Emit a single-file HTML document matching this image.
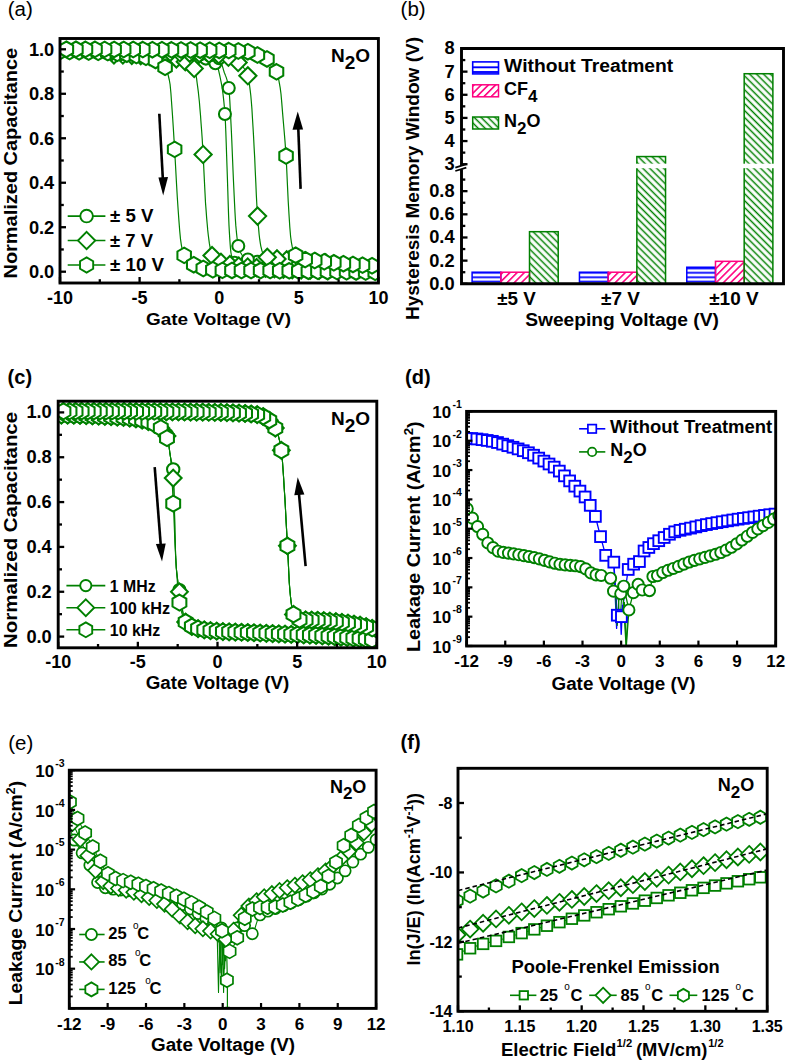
<!DOCTYPE html>
<html><head><meta charset="utf-8"><style>
html,body{margin:0;padding:0;background:#fff;}
svg{display:block;font-family:"Liberation Sans", sans-serif;}
</style></head><body>
<svg width="787" height="1063" viewBox="0 0 787 1063">
<rect width="787" height="1063" fill="#fff"/>
<clipPath id="clipA"><rect x="60.0" y="38.5" width="318.4" height="244.5"/></clipPath>
<g clip-path="url(#clipA)">
<polyline points="139.6,54.9 140.0,54.9 140.4,54.9 140.8,54.9 141.2,54.9 141.6,54.9 142.0,54.9 142.4,54.9 142.8,54.9 143.2,54.9 143.6,54.9 144.0,54.9 144.4,54.9 144.8,54.9 145.2,54.9 145.6,54.9 146.0,54.9 146.4,54.9 146.8,54.9 147.2,54.9 147.6,54.9 148.0,54.9 148.4,54.9 148.8,54.9 149.2,54.9 149.6,54.9 150.0,54.9 150.4,54.9 150.8,54.9 151.2,55.0 151.6,55.0 152.0,55.0 152.4,55.0 152.8,55.0 153.2,55.0 153.6,55.0 154.0,55.0 154.4,55.0 154.8,55.0 155.2,55.0 155.6,55.0 156.0,55.1 156.4,55.1 156.8,55.1 157.2,55.1 157.6,55.1 158.0,55.1 158.4,55.1 158.8,55.1 159.2,55.1 159.5,55.2 159.9,55.2 160.3,55.2 160.7,55.2 161.1,55.2 161.5,55.2 161.9,55.2 162.3,55.2 162.7,55.3 163.1,55.3 163.5,55.3 163.9,55.3 164.3,55.3 164.7,55.3 165.1,55.3 165.5,55.4 165.9,55.4 166.3,55.4 166.7,55.4 167.1,55.4 167.5,55.4 167.9,55.5 168.3,55.5 168.7,55.5 169.1,55.5 169.5,55.5 169.9,55.6 170.3,55.6 170.7,55.6 171.1,55.6 171.5,55.6 171.9,55.7 172.3,55.7 172.7,55.7 173.1,55.7 173.5,55.7 173.9,55.8 174.3,55.8 174.7,55.8 175.1,55.8 175.5,55.8 175.9,55.9 176.3,55.9 176.7,55.9 177.1,55.9 177.5,56.0 177.9,56.0 178.3,56.0 178.7,56.0 179.1,56.1 179.5,56.1 179.9,56.1 180.3,56.1 180.7,56.2 181.1,56.2 181.5,56.2 181.9,56.3 182.3,56.3 182.7,56.3 183.1,56.3 183.5,56.4 183.9,56.4 184.3,56.4 184.7,56.5 185.1,56.5 185.5,56.5 185.9,56.5 186.3,56.6 186.7,56.6 187.1,56.6 187.5,56.7 187.9,56.7 188.3,56.7 188.7,56.8 189.1,56.8 189.5,56.8 189.9,56.9 190.3,56.9 190.7,56.9 191.1,57.0 191.5,57.0 191.9,57.0 192.3,57.1 192.7,57.1 193.1,57.1 193.5,57.2 193.9,57.2 194.3,57.3 194.7,57.3 195.1,57.3 195.5,57.4 195.9,57.4 196.3,57.5 196.7,57.5 197.1,57.5 197.5,57.6 197.9,57.6 198.3,57.7 198.7,57.7 199.1,57.7 199.4,57.8 199.8,57.8 200.2,57.9 200.6,57.9 201.0,57.9 201.4,58.0 201.8,58.0 202.2,58.1 202.6,58.1 203.0,58.2 203.4,58.2 203.8,58.3 204.2,58.3 204.6,58.4 205.0,58.4 205.4,58.5 205.8,58.6 206.2,58.7 206.6,58.8 207.0,58.9 207.4,59.0 207.8,59.1 208.2,59.2 208.6,59.4 209.0,59.5 209.4,59.7 209.8,59.8 210.2,60.0 210.6,60.2 211.0,60.4 211.4,60.6 211.8,60.8 212.2,61.0 212.6,61.2 213.0,61.5 213.4,61.8 213.8,62.0 214.2,62.3 214.6,62.6 215.0,62.9 215.4,63.2 215.8,63.6 216.2,64.0 216.6,64.5 217.0,65.4 217.4,66.4 217.8,67.6 218.2,68.9 218.6,70.4 219.0,72.1 219.4,73.8 219.8,75.6 220.2,77.5 220.6,79.5 221.0,81.5 221.4,83.6 221.8,85.8 222.2,88.3 222.6,91.0 223.0,94.0 223.4,97.4 223.8,101.1 224.2,105.2 224.6,109.7 225.0,114.8 225.4,121.9 225.8,131.6 226.2,142.8 226.6,154.7 227.0,166.6 227.4,178.0 227.8,190.7 228.2,203.7 228.6,215.7 229.0,225.4 229.4,232.6 229.8,239.1 230.2,244.9 230.6,249.6 231.0,253.0 231.4,254.9 231.8,256.6 232.2,258.1 232.6,259.4 233.0,260.4 233.4,261.3 233.8,262.0 234.2,262.5 234.6,262.9 235.0,263.1 235.4,263.3 235.8,263.5 236.2,263.7 236.6,263.9 237.0,264.1 237.4,264.3 237.8,264.5 238.2,264.6 238.6,264.8 239.0,264.9 239.3,265.1 239.7,265.2 240.1,265.4 240.5,265.5 240.9,265.6 241.3,265.7 241.7,265.8 242.1,265.9 242.5,266.0 242.9,266.1 243.3,266.2 243.7,266.3 244.1,266.4 244.5,266.4 244.9,266.5 245.3,266.6 245.7,266.6 246.1,266.7 246.5,266.8 246.9,266.8 247.3,266.9 247.7,266.9 248.1,267.0 248.5,267.0 248.9,267.0 249.3,267.1 249.7,267.1 250.1,267.2 250.5,267.2 250.9,267.2 251.3,267.3 251.7,267.3 252.1,267.3 252.5,267.4 252.9,267.4 253.3,267.5 253.7,267.5 254.1,267.5 254.5,267.6 254.9,267.6 255.3,267.6 255.7,267.7 256.1,267.7 256.5,267.7 256.9,267.7 257.3,267.8 257.7,267.8 258.1,267.8 258.5,267.9 258.9,267.9 259.3,267.9 259.7,268.0 260.1,268.0 260.5,268.0 260.9,268.1 261.3,268.1 261.7,268.1 262.1,268.1 262.5,268.2 262.9,268.2 263.3,268.2 263.7,268.2 264.1,268.3 264.5,268.3 264.9,268.3 265.3,268.4 265.7,268.4 266.1,268.4 266.5,268.4 266.9,268.5 267.3,268.5 267.7,268.5 268.1,268.5 268.5,268.6 268.9,268.6 269.3,268.6 269.7,268.6 270.1,268.6 270.5,268.7 270.9,268.7 271.3,268.7 271.7,268.7 272.1,268.8 272.5,268.8 272.9,268.8 273.3,268.8 273.7,268.8 274.1,268.9 274.5,268.9 274.9,268.9 275.3,268.9 275.7,268.9 276.1,269.0 276.5,269.0 276.9,269.0 277.3,269.0 277.7,269.0 278.1,269.0 278.5,269.1 278.9,269.1 279.2,269.1 279.6,269.1 280.0,269.1 280.4,269.1 280.8,269.1 281.2,269.2 281.6,269.2 282.0,269.2 282.4,269.2 282.8,269.2 283.2,269.2 283.6,269.2 284.0,269.3 284.4,269.3 284.8,269.3 285.2,269.3 285.6,269.3 286.0,269.3 286.4,269.3 286.8,269.3 287.2,269.3 287.6,269.3 288.0,269.4 288.4,269.4 288.8,269.4 289.2,269.4 289.6,269.4 290.0,269.4 290.4,269.4 290.8,269.4 291.2,269.4 291.6,269.4 292.0,269.4 292.4,269.4 292.8,269.4 293.2,269.4 293.6,269.4 294.0,269.5 294.4,269.5 294.8,269.5 295.2,269.5 295.6,269.5 296.0,269.5 296.4,269.5 296.8,269.5 297.2,269.5 297.6,269.5 298.0,269.5 298.4,269.5 298.8,269.5" fill="none" stroke="#008000" stroke-width="1.2" stroke-linejoin="round"/>
<polyline points="139.6,51.5 140.0,51.5 140.4,51.5 140.8,51.5 141.2,51.5 141.6,51.5 142.0,51.5 142.4,51.5 142.8,51.5 143.2,51.5 143.6,51.5 144.0,51.5 144.4,51.5 144.8,51.5 145.2,51.6 145.6,51.6 146.0,51.6 146.4,51.6 146.8,51.6 147.2,51.6 147.6,51.6 148.0,51.6 148.4,51.6 148.8,51.6 149.2,51.6 149.6,51.6 150.0,51.6 150.4,51.6 150.8,51.6 151.2,51.7 151.6,51.7 152.0,51.7 152.4,51.7 152.8,51.7 153.2,51.7 153.6,51.7 154.0,51.7 154.4,51.7 154.8,51.7 155.2,51.8 155.6,51.8 156.0,51.8 156.4,51.8 156.8,51.8 157.2,51.8 157.6,51.8 158.0,51.8 158.4,51.9 158.8,51.9 159.2,51.9 159.5,51.9 159.9,51.9 160.3,51.9 160.7,51.9 161.1,52.0 161.5,52.0 161.9,52.0 162.3,52.0 162.7,52.0 163.1,52.0 163.5,52.0 163.9,52.1 164.3,52.1 164.7,52.1 165.1,52.1 165.5,52.1 165.9,52.2 166.3,52.2 166.7,52.2 167.1,52.2 167.5,52.2 167.9,52.3 168.3,52.3 168.7,52.3 169.1,52.3 169.5,52.3 169.9,52.4 170.3,52.4 170.7,52.4 171.1,52.4 171.5,52.4 171.9,52.5 172.3,52.5 172.7,52.5 173.1,52.5 173.5,52.6 173.9,52.6 174.3,52.6 174.7,52.6 175.1,52.6 175.5,52.7 175.9,52.7 176.3,52.7 176.7,52.7 177.1,52.8 177.5,52.8 177.9,52.8 178.3,52.8 178.7,52.9 179.1,52.9 179.5,52.9 179.9,52.9 180.3,53.0 180.7,53.0 181.1,53.0 181.5,53.1 181.9,53.1 182.3,53.1 182.7,53.1 183.1,53.2 183.5,53.2 183.9,53.2 184.3,53.3 184.7,53.3 185.1,53.3 185.5,53.3 185.9,53.4 186.3,53.4 186.7,53.4 187.1,53.5 187.5,53.5 187.9,53.5 188.3,53.6 188.7,53.6 189.1,53.6 189.5,53.7 189.9,53.7 190.3,53.7 190.7,53.7 191.1,53.8 191.5,53.8 191.9,53.8 192.3,53.9 192.7,53.9 193.1,53.9 193.5,54.0 193.9,54.0 194.3,54.0 194.7,54.1 195.1,54.1 195.5,54.1 195.9,54.2 196.3,54.2 196.7,54.3 197.1,54.3 197.5,54.3 197.9,54.4 198.3,54.4 198.7,54.4 199.1,54.5 199.4,54.5 199.8,54.5 200.2,54.6 200.6,54.6 201.0,54.6 201.4,54.7 201.8,54.7 202.2,54.8 202.6,54.8 203.0,54.8 203.4,54.9 203.8,54.9 204.2,55.0 204.6,55.0 205.0,55.0 205.4,55.1 205.8,55.1 206.2,55.1 206.6,55.2 207.0,55.2 207.4,55.3 207.8,55.3 208.2,55.4 208.6,55.4 209.0,55.5 209.4,55.5 209.8,55.6 210.2,55.6 210.6,55.7 211.0,55.8 211.4,55.8 211.8,55.9 212.2,56.0 212.6,56.1 213.0,56.2 213.4,56.2 213.8,56.3 214.2,56.4 214.6,56.5 215.0,56.7 215.4,56.8 215.8,56.9 216.2,57.0 216.6,57.2 217.0,57.3 217.4,57.4 217.8,57.6 218.2,57.8 218.6,57.9 219.0,58.1 219.4,58.3 219.8,58.8 220.2,59.5 220.6,60.4 221.0,61.5 221.4,62.7 221.8,64.0 222.2,65.4 222.6,66.8 223.0,68.2 223.4,69.6 223.8,70.9 224.2,72.2 224.6,73.3 225.0,74.3 225.4,75.4 225.8,76.4 226.2,77.4 226.6,78.6 227.0,79.9 227.4,81.3 227.8,82.9 228.2,84.8 228.6,87.0 229.0,89.7 229.4,94.4 229.8,100.6 230.2,107.9 230.6,115.8 231.0,123.8 231.4,131.8 231.8,140.7 232.2,150.4 232.6,160.3 233.0,170.1 233.4,179.3 233.8,187.7 234.2,196.2 234.6,204.6 235.0,212.5 235.4,219.5 235.8,225.4 236.2,229.8 236.6,233.9 237.0,237.5 237.4,240.7 237.8,243.3 238.2,245.3 238.6,246.8 239.0,248.1 239.3,249.3 239.7,250.4 240.1,251.4 240.5,252.3 240.9,253.1 241.3,253.8 241.7,254.5 242.1,255.1 242.5,255.6 242.9,256.0 243.3,256.4 243.7,256.7 244.1,257.1 244.5,257.4 244.9,257.7 245.3,258.0 245.7,258.3 246.1,258.5 246.5,258.8 246.9,259.0 247.3,259.2 247.7,259.4 248.1,259.6 248.5,259.8 248.9,260.0 249.3,260.1 249.7,260.2 250.1,260.4 250.5,260.5 250.9,260.6 251.3,260.6 251.7,260.7 252.1,260.8 252.5,260.9 252.9,260.9 253.3,261.0 253.7,261.1 254.1,261.2 254.5,261.2 254.9,261.3 255.3,261.4 255.7,261.4 256.1,261.5 256.5,261.6 256.9,261.6 257.3,261.7 257.7,261.8 258.1,261.8 258.5,261.9 258.9,262.0 259.3,262.0 259.7,262.1 260.1,262.1 260.5,262.2 260.9,262.3 261.3,262.3 261.7,262.4 262.1,262.4 262.5,262.5 262.9,262.6 263.3,262.6 263.7,262.7 264.1,262.7 264.5,262.8 264.9,262.8 265.3,262.9 265.7,262.9 266.1,263.0 266.5,263.0 266.9,263.1 267.3,263.1 267.7,263.2 268.1,263.2 268.5,263.3 268.9,263.3 269.3,263.4 269.7,263.4 270.1,263.5 270.5,263.5 270.9,263.5 271.3,263.6 271.7,263.6 272.1,263.7 272.5,263.7 272.9,263.8 273.3,263.8 273.7,263.8 274.1,263.9 274.5,263.9 274.9,263.9 275.3,264.0 275.7,264.0 276.1,264.1 276.5,264.1 276.9,264.1 277.3,264.2 277.7,264.2 278.1,264.2 278.5,264.3 278.9,264.3 279.2,264.3 279.6,264.3 280.0,264.4 280.4,264.4 280.8,264.4 281.2,264.5 281.6,264.5 282.0,264.5 282.4,264.5 282.8,264.6 283.2,264.6 283.6,264.6 284.0,264.6 284.4,264.6 284.8,264.7 285.2,264.7 285.6,264.7 286.0,264.7 286.4,264.7 286.8,264.8 287.2,264.8 287.6,264.8 288.0,264.8 288.4,264.8 288.8,264.8 289.2,264.9 289.6,264.9 290.0,264.9 290.4,264.9 290.8,264.9 291.2,264.9 291.6,264.9 292.0,264.9 292.4,265.0 292.8,265.0 293.2,265.0 293.6,265.0 294.0,265.0 294.4,265.0 294.8,265.0 295.2,265.0 295.6,265.0 296.0,265.0 296.4,265.0 296.8,265.0 297.2,265.0 297.6,265.0 298.0,265.0 298.4,265.0 298.8,265.0" fill="none" stroke="#008000" stroke-width="1.2" stroke-linejoin="round"/>
<circle cx="148.52" cy="54.92" r="6.00" fill="#fff" stroke="#008000" stroke-width="2.05"/>
<circle cx="158.07" cy="55.11" r="6.00" fill="#fff" stroke="#008000" stroke-width="2.05"/>
<circle cx="167.62" cy="55.45" r="6.00" fill="#fff" stroke="#008000" stroke-width="2.05"/>
<circle cx="177.17" cy="55.94" r="6.00" fill="#fff" stroke="#008000" stroke-width="2.05"/>
<circle cx="186.72" cy="56.61" r="6.00" fill="#fff" stroke="#008000" stroke-width="2.05"/>
<circle cx="196.28" cy="57.45" r="6.00" fill="#fff" stroke="#008000" stroke-width="2.05"/>
<circle cx="205.83" cy="58.60" r="6.00" fill="#fff" stroke="#008000" stroke-width="2.05"/>
<circle cx="215.38" cy="63.21" r="6.00" fill="#fff" stroke="#008000" stroke-width="2.05"/>
<circle cx="224.93" cy="114.02" r="6.00" fill="#fff" stroke="#008000" stroke-width="2.05"/>
<circle cx="234.48" cy="262.80" r="6.00" fill="#fff" stroke="#008000" stroke-width="2.05"/>
<circle cx="244.04" cy="266.35" r="6.00" fill="#fff" stroke="#008000" stroke-width="2.05"/>
<circle cx="253.59" cy="267.47" r="6.00" fill="#fff" stroke="#008000" stroke-width="2.05"/>
<circle cx="263.14" cy="268.21" r="6.00" fill="#fff" stroke="#008000" stroke-width="2.05"/>
<circle cx="272.69" cy="268.79" r="6.00" fill="#fff" stroke="#008000" stroke-width="2.05"/>
<circle cx="282.24" cy="269.20" r="6.00" fill="#fff" stroke="#008000" stroke-width="2.05"/>
<circle cx="291.80" cy="269.43" r="6.00" fill="#fff" stroke="#008000" stroke-width="2.05"/>
<circle cx="295.62" cy="265.01" r="6.00" fill="#fff" stroke="#008000" stroke-width="2.05"/>
<circle cx="286.06" cy="264.73" r="6.00" fill="#fff" stroke="#008000" stroke-width="2.05"/>
<circle cx="276.51" cy="264.09" r="6.00" fill="#fff" stroke="#008000" stroke-width="2.05"/>
<circle cx="266.96" cy="263.09" r="6.00" fill="#fff" stroke="#008000" stroke-width="2.05"/>
<circle cx="257.41" cy="261.72" r="6.00" fill="#fff" stroke="#008000" stroke-width="2.05"/>
<circle cx="247.86" cy="259.51" r="6.00" fill="#fff" stroke="#008000" stroke-width="2.05"/>
<circle cx="238.30" cy="245.90" r="6.00" fill="#fff" stroke="#008000" stroke-width="2.05"/>
<circle cx="228.75" cy="88.00" r="6.00" fill="#fff" stroke="#008000" stroke-width="2.05"/>
<circle cx="219.20" cy="58.20" r="6.00" fill="#fff" stroke="#008000" stroke-width="2.05"/>
<circle cx="209.65" cy="55.55" r="6.00" fill="#fff" stroke="#008000" stroke-width="2.05"/>
<circle cx="200.10" cy="54.56" r="6.00" fill="#fff" stroke="#008000" stroke-width="2.05"/>
<circle cx="190.54" cy="53.74" r="6.00" fill="#fff" stroke="#008000" stroke-width="2.05"/>
<circle cx="180.99" cy="53.02" r="6.00" fill="#fff" stroke="#008000" stroke-width="2.05"/>
<circle cx="171.44" cy="52.43" r="6.00" fill="#fff" stroke="#008000" stroke-width="2.05"/>
<circle cx="161.89" cy="51.98" r="6.00" fill="#fff" stroke="#008000" stroke-width="2.05"/>
<circle cx="152.34" cy="51.68" r="6.00" fill="#fff" stroke="#008000" stroke-width="2.05"/>
<circle cx="142.78" cy="51.53" r="6.00" fill="#fff" stroke="#008000" stroke-width="2.05"/>
<polyline points="107.8,54.9 108.3,54.9 108.9,54.9 109.4,54.9 110.0,54.9 110.6,54.9 111.1,54.9 111.7,54.9 112.2,54.9 112.8,54.9 113.3,54.9 113.9,54.9 114.5,54.9 115.0,54.9 115.6,54.9 116.1,54.9 116.7,54.9 117.3,54.9 117.8,54.9 118.4,55.0 118.9,55.0 119.5,55.0 120.0,55.0 120.6,55.0 121.2,55.0 121.7,55.0 122.3,55.0 122.8,55.1 123.4,55.1 124.0,55.1 124.5,55.1 125.1,55.1 125.6,55.1 126.2,55.1 126.8,55.2 127.3,55.2 127.9,55.2 128.4,55.2 129.0,55.2 129.5,55.3 130.1,55.3 130.7,55.3 131.2,55.3 131.8,55.3 132.3,55.4 132.9,55.4 133.5,55.4 134.0,55.4 134.6,55.5 135.1,55.5 135.7,55.5 136.2,55.5 136.8,55.6 137.4,55.6 137.9,55.6 138.5,55.7 139.0,55.7 139.6,55.7 140.2,55.7 140.7,55.8 141.3,55.8 141.8,55.8 142.4,55.9 143.0,55.9 143.5,55.9 144.1,56.0 144.6,56.0 145.2,56.0 145.7,56.1 146.3,56.1 146.9,56.1 147.4,56.2 148.0,56.2 148.5,56.3 149.1,56.3 149.7,56.3 150.2,56.4 150.8,56.4 151.3,56.4 151.9,56.5 152.4,56.5 153.0,56.6 153.6,56.6 154.1,56.7 154.7,56.7 155.2,56.7 155.8,56.8 156.4,56.8 156.9,56.9 157.5,56.9 158.0,57.0 158.6,57.0 159.2,57.1 159.7,57.1 160.3,57.1 160.8,57.2 161.4,57.2 161.9,57.3 162.5,57.3 163.1,57.4 163.6,57.4 164.2,57.5 164.7,57.5 165.3,57.6 165.9,57.6 166.4,57.7 167.0,57.8 167.5,57.8 168.1,57.9 168.6,57.9 169.2,58.0 169.8,58.0 170.3,58.1 170.9,58.1 171.4,58.2 172.0,58.3 172.6,58.3 173.1,58.4 173.7,58.5 174.2,58.6 174.8,58.7 175.4,58.8 175.9,58.9 176.5,59.0 177.0,59.1 177.6,59.2 178.1,59.4 178.7,59.5 179.3,59.7 179.8,59.8 180.4,60.0 180.9,60.2 181.5,60.3 182.1,60.5 182.6,60.7 183.2,60.9 183.7,61.1 184.3,61.3 184.8,61.6 185.4,61.8 186.0,62.0 186.5,62.3 187.1,62.5 187.6,62.8 188.2,63.0 188.8,63.3 189.3,63.6 189.9,64.0 190.4,64.4 191.0,64.8 191.5,65.3 192.1,65.8 192.7,66.5 193.2,67.1 193.8,67.9 194.3,68.8 194.9,70.0 195.5,72.1 196.0,75.0 196.6,78.6 197.1,82.7 197.7,87.2 198.3,91.7 198.8,96.5 199.4,102.0 199.9,108.4 200.5,115.3 201.0,122.5 201.6,130.3 202.2,138.7 202.7,147.7 203.3,157.3 203.8,168.6 204.4,180.9 205.0,192.8 205.5,202.7 206.1,210.4 206.6,217.4 207.2,224.0 207.7,229.9 208.3,235.2 208.9,239.8 209.4,243.7 210.0,246.9 210.5,249.9 211.1,252.5 211.7,254.6 212.2,255.9 212.8,256.7 213.3,257.3 213.9,258.0 214.5,258.5 215.0,259.1 215.6,259.5 216.1,260.0 216.7,260.4 217.2,260.7 217.8,261.0 218.4,261.3 218.9,261.6 219.5,261.8 220.0,262.1 220.6,262.3 221.2,262.4 221.7,262.6 222.3,262.8 222.8,262.9 223.4,263.1 223.9,263.2 224.5,263.4 225.1,263.5 225.6,263.7 226.2,263.8 226.7,263.9 227.3,264.0 227.9,264.2 228.4,264.3 229.0,264.4 229.5,264.5 230.1,264.6 230.7,264.7 231.2,264.9 231.8,265.0 232.3,265.1 232.9,265.2 233.4,265.3 234.0,265.3 234.6,265.4 235.1,265.5 235.7,265.6 236.2,265.7 236.8,265.8 237.4,265.9 237.9,265.9 238.5,266.0 239.0,266.1 239.6,266.2 240.1,266.2 240.7,266.3 241.3,266.4 241.8,266.4 242.4,266.5 242.9,266.5 243.5,266.6 244.1,266.7 244.6,266.7 245.2,266.8 245.7,266.8 246.3,266.9 246.9,266.9 247.4,267.0 248.0,267.0 248.5,267.1 249.1,267.1 249.6,267.1 250.2,267.2 250.8,267.2 251.3,267.3 251.9,267.3 252.4,267.4 253.0,267.4 253.6,267.4 254.1,267.5 254.7,267.5 255.2,267.6 255.8,267.6 256.3,267.6 256.9,267.7 257.5,267.7 258.0,267.7 258.6,267.8 259.1,267.8 259.7,267.9 260.3,267.9 260.8,267.9 261.4,268.0 261.9,268.0 262.5,268.0 263.0,268.1 263.6,268.1 264.2,268.2 264.7,268.2 265.3,268.2 265.8,268.3 266.4,268.3 267.0,268.3 267.5,268.4 268.1,268.4 268.6,268.4 269.2,268.5 269.8,268.5 270.3,268.5 270.9,268.6 271.4,268.6 272.0,268.6 272.5,268.7 273.1,268.7 273.7,268.7 274.2,268.8 274.8,268.8 275.3,268.8 275.9,268.9 276.5,268.9 277.0,268.9 277.6,269.0 278.1,269.0 278.7,269.0 279.2,269.1 279.8,269.1 280.4,269.1 280.9,269.2 281.5,269.2 282.0,269.2 282.6,269.2 283.2,269.3 283.7,269.3 284.3,269.3 284.8,269.4 285.4,269.4 286.0,269.4 286.5,269.4 287.1,269.5 287.6,269.5 288.2,269.5 288.7,269.5 289.3,269.6 289.9,269.6 290.4,269.6 291.0,269.6 291.5,269.7 292.1,269.7 292.7,269.7 293.2,269.7 293.8,269.8 294.3,269.8 294.9,269.8 295.4,269.8 296.0,269.9 296.6,269.9 297.1,269.9 297.7,269.9 298.2,269.9 298.8,270.0 299.4,270.0 299.9,270.0 300.5,270.0 301.0,270.0 301.6,270.1 302.2,270.1 302.7,270.1 303.3,270.1 303.8,270.1 304.4,270.2 304.9,270.2 305.5,270.2 306.1,270.2 306.6,270.2 307.2,270.2 307.7,270.3 308.3,270.3 308.9,270.3 309.4,270.3 310.0,270.3 310.5,270.3 311.1,270.3 311.6,270.4 312.2,270.4 312.8,270.4 313.3,270.4 313.9,270.4 314.4,270.4 315.0,270.4 315.6,270.4 316.1,270.5 316.7,270.5 317.2,270.5 317.8,270.5 318.4,270.5 318.9,270.5 319.5,270.5 320.0,270.5 320.6,270.5 321.1,270.5 321.7,270.5 322.3,270.5 322.8,270.5 323.4,270.6 323.9,270.6 324.5,270.6 325.1,270.6 325.6,270.6 326.2,270.6 326.7,270.6 327.3,270.6 327.8,270.6 328.4,270.6 329.0,270.6 329.5,270.6 330.1,270.6 330.6,270.6" fill="none" stroke="#008000" stroke-width="1.2" stroke-linejoin="round"/>
<polyline points="107.8,51.5 108.3,51.5 108.9,51.5 109.4,51.5 110.0,51.5 110.6,51.5 111.1,51.5 111.7,51.5 112.2,51.5 112.8,51.5 113.3,51.5 113.9,51.5 114.5,51.5 115.0,51.5 115.6,51.5 116.1,51.5 116.7,51.5 117.3,51.5 117.8,51.5 118.4,51.5 118.9,51.5 119.5,51.5 120.0,51.6 120.6,51.6 121.2,51.6 121.7,51.6 122.3,51.6 122.8,51.6 123.4,51.6 124.0,51.6 124.5,51.6 125.1,51.6 125.6,51.6 126.2,51.6 126.8,51.6 127.3,51.6 127.9,51.6 128.4,51.6 129.0,51.6 129.5,51.6 130.1,51.6 130.7,51.6 131.2,51.6 131.8,51.6 132.3,51.6 132.9,51.6 133.5,51.7 134.0,51.7 134.6,51.7 135.1,51.7 135.7,51.7 136.2,51.7 136.8,51.7 137.4,51.7 137.9,51.7 138.5,51.7 139.0,51.7 139.6,51.7 140.2,51.7 140.7,51.7 141.3,51.8 141.8,51.8 142.4,51.8 143.0,51.8 143.5,51.8 144.1,51.8 144.6,51.8 145.2,51.8 145.7,51.8 146.3,51.8 146.9,51.8 147.4,51.9 148.0,51.9 148.5,51.9 149.1,51.9 149.7,51.9 150.2,51.9 150.8,51.9 151.3,51.9 151.9,51.9 152.4,52.0 153.0,52.0 153.6,52.0 154.1,52.0 154.7,52.0 155.2,52.0 155.8,52.0 156.4,52.0 156.9,52.1 157.5,52.1 158.0,52.1 158.6,52.1 159.2,52.1 159.7,52.1 160.3,52.1 160.8,52.1 161.4,52.2 161.9,52.2 162.5,52.2 163.1,52.2 163.6,52.2 164.2,52.2 164.7,52.3 165.3,52.3 165.9,52.3 166.4,52.3 167.0,52.3 167.5,52.3 168.1,52.3 168.6,52.4 169.2,52.4 169.8,52.4 170.3,52.4 170.9,52.4 171.4,52.5 172.0,52.5 172.6,52.5 173.1,52.5 173.7,52.5 174.2,52.5 174.8,52.6 175.4,52.6 175.9,52.6 176.5,52.6 177.0,52.6 177.6,52.7 178.1,52.7 178.7,52.7 179.3,52.7 179.8,52.8 180.4,52.8 180.9,52.8 181.5,52.8 182.1,52.8 182.6,52.9 183.2,52.9 183.7,52.9 184.3,52.9 184.8,53.0 185.4,53.0 186.0,53.0 186.5,53.0 187.1,53.0 187.6,53.1 188.2,53.1 188.8,53.1 189.3,53.1 189.9,53.2 190.4,53.2 191.0,53.2 191.5,53.3 192.1,53.3 192.7,53.3 193.2,53.3 193.8,53.4 194.3,53.4 194.9,53.4 195.5,53.4 196.0,53.5 196.6,53.5 197.1,53.5 197.7,53.6 198.3,53.6 198.8,53.6 199.4,53.6 199.9,53.7 200.5,53.7 201.0,53.7 201.6,53.8 202.2,53.8 202.7,53.8 203.3,53.9 203.8,53.9 204.4,53.9 205.0,54.0 205.5,54.0 206.1,54.0 206.6,54.0 207.2,54.1 207.7,54.1 208.3,54.1 208.9,54.2 209.4,54.2 210.0,54.3 210.5,54.3 211.1,54.3 211.7,54.4 212.2,54.4 212.8,54.4 213.3,54.5 213.9,54.5 214.5,54.5 215.0,54.6 215.6,54.6 216.1,54.6 216.7,54.7 217.2,54.7 217.8,54.8 218.4,54.8 218.9,54.8 219.5,54.9 220.0,54.9 220.6,55.0 221.2,55.1 221.7,55.2 222.3,55.3 222.8,55.4 223.4,55.6 223.9,55.7 224.5,55.9 225.1,56.0 225.6,56.2 226.2,56.4 226.7,56.6 227.3,56.8 227.9,57.1 228.4,57.3 229.0,57.5 229.5,57.8 230.1,58.1 230.7,58.3 231.2,58.6 231.8,58.9 232.3,59.2 232.9,59.5 233.4,59.8 234.0,60.1 234.6,60.4 235.1,60.7 235.7,61.1 236.2,61.4 236.8,61.7 237.4,62.1 237.9,62.4 238.5,62.7 239.0,63.1 239.6,63.5 240.1,64.0 240.7,64.5 241.3,65.1 241.8,65.6 242.4,66.3 242.9,66.9 243.5,67.6 244.1,68.3 244.6,69.1 245.2,69.9 245.7,70.8 246.3,71.9 246.9,73.1 247.4,74.5 248.0,76.1 248.5,78.5 249.1,81.8 249.6,85.8 250.2,90.4 250.8,95.5 251.3,101.2 251.9,108.6 252.4,117.3 253.0,127.0 253.6,137.2 254.1,147.4 254.7,157.9 255.2,169.9 255.8,182.4 256.3,194.6 256.9,205.7 257.5,214.7 258.0,221.8 258.6,228.4 259.1,234.2 259.7,239.2 260.3,243.2 260.8,246.1 261.4,248.5 261.9,250.6 262.5,252.4 263.0,253.8 263.6,254.8 264.2,255.4 264.7,256.0 265.3,256.4 265.8,256.8 266.4,257.1 267.0,257.2 267.5,257.4 268.1,257.5 268.6,257.7 269.2,257.8 269.8,257.9 270.3,258.0 270.9,258.1 271.4,258.2 272.0,258.3 272.5,258.4 273.1,258.5 273.7,258.5 274.2,258.6 274.8,258.7 275.3,258.8 275.9,258.8 276.5,258.9 277.0,258.9 277.6,259.0 278.1,259.0 278.7,259.1 279.2,259.1 279.8,259.2 280.4,259.2 280.9,259.3 281.5,259.3 282.0,259.4 282.6,259.4 283.2,259.5 283.7,259.6 284.3,259.6 284.8,259.7 285.4,259.7 286.0,259.8 286.5,259.8 287.1,259.9 287.6,259.9 288.2,260.0 288.7,260.0 289.3,260.1 289.9,260.1 290.4,260.2 291.0,260.3 291.5,260.3 292.1,260.4 292.7,260.4 293.2,260.5 293.8,260.5 294.3,260.6 294.9,260.6 295.4,260.7 296.0,260.7 296.6,260.8 297.1,260.8 297.7,260.9 298.2,260.9 298.8,261.0 299.4,261.0 299.9,261.1 300.5,261.1 301.0,261.2 301.6,261.2 302.2,261.3 302.7,261.3 303.3,261.3 303.8,261.4 304.4,261.4 304.9,261.5 305.5,261.5 306.1,261.6 306.6,261.6 307.2,261.7 307.7,261.7 308.3,261.7 308.9,261.8 309.4,261.8 310.0,261.9 310.5,261.9 311.1,261.9 311.6,262.0 312.2,262.0 312.8,262.0 313.3,262.1 313.9,262.1 314.4,262.1 315.0,262.2 315.6,262.2 316.1,262.2 316.7,262.3 317.2,262.3 317.8,262.3 318.4,262.4 318.9,262.4 319.5,262.4 320.0,262.5 320.6,262.5 321.1,262.5 321.7,262.5 322.3,262.6 322.8,262.6 323.4,262.6 323.9,262.6 324.5,262.6 325.1,262.7 325.6,262.7 326.2,262.7 326.7,262.7 327.3,262.7 327.8,262.7 328.4,262.8 329.0,262.8 329.5,262.8 330.1,262.8 330.6,262.8" fill="none" stroke="#008000" stroke-width="1.2" stroke-linejoin="round"/>
<polygon points="113.97,46.29 122.57,54.89 113.97,63.49 105.37,54.89" fill="#fff" stroke="#008000" stroke-width="2.05"/>
<polygon points="122.88,46.46 131.48,55.06 122.88,63.66 114.28,55.06" fill="#fff" stroke="#008000" stroke-width="2.05"/>
<polygon points="131.80,46.75 140.40,55.35 131.80,63.95 123.20,55.35" fill="#fff" stroke="#008000" stroke-width="2.05"/>
<polygon points="140.71,47.17 149.31,55.77 140.71,64.37 132.11,55.77" fill="#fff" stroke="#008000" stroke-width="2.05"/>
<polygon points="149.63,47.73 158.23,56.33 149.63,64.93 141.03,56.33" fill="#fff" stroke="#008000" stroke-width="2.05"/>
<polygon points="158.54,48.40 167.14,57.00 158.54,65.60 149.94,57.00" fill="#fff" stroke="#008000" stroke-width="2.05"/>
<polygon points="167.46,49.20 176.06,57.80 167.46,66.40 158.86,57.80" fill="#fff" stroke="#008000" stroke-width="2.05"/>
<polygon points="176.38,50.37 184.98,58.97 176.38,67.57 167.78,58.97" fill="#fff" stroke="#008000" stroke-width="2.05"/>
<polygon points="185.29,53.15 193.89,61.75 185.29,70.35 176.69,61.75" fill="#fff" stroke="#008000" stroke-width="2.05"/>
<polygon points="194.21,59.97 202.81,68.57 194.21,77.17 185.61,68.57" fill="#fff" stroke="#008000" stroke-width="2.05"/>
<polygon points="203.12,145.90 211.72,154.50 203.12,163.10 194.52,154.50" fill="#fff" stroke="#008000" stroke-width="2.05"/>
<polygon points="212.04,246.96 220.64,255.56 212.04,264.16 203.44,255.56" fill="#fff" stroke="#008000" stroke-width="2.05"/>
<polygon points="220.95,253.77 229.55,262.37 220.95,270.97 212.35,262.37" fill="#fff" stroke="#008000" stroke-width="2.05"/>
<polygon points="229.87,255.99 238.47,264.59 229.87,273.19 221.27,264.59" fill="#fff" stroke="#008000" stroke-width="2.05"/>
<polygon points="238.78,257.45 247.38,266.05 238.78,274.65 230.18,266.05" fill="#fff" stroke="#008000" stroke-width="2.05"/>
<polygon points="247.70,258.39 256.30,266.99 247.70,275.59 239.10,266.99" fill="#fff" stroke="#008000" stroke-width="2.05"/>
<polygon points="256.61,259.05 265.21,267.65 256.61,276.25 248.01,267.65" fill="#fff" stroke="#008000" stroke-width="2.05"/>
<polygon points="265.53,259.65 274.13,268.25 265.53,276.85 256.93,268.25" fill="#fff" stroke="#008000" stroke-width="2.05"/>
<polygon points="274.44,260.19 283.04,268.79 274.44,277.39 265.84,268.79" fill="#fff" stroke="#008000" stroke-width="2.05"/>
<polygon points="283.36,260.68 291.96,269.28 283.36,277.88 274.76,269.28" fill="#fff" stroke="#008000" stroke-width="2.05"/>
<polygon points="292.27,261.10 300.87,269.70 292.27,278.30 283.67,269.70" fill="#fff" stroke="#008000" stroke-width="2.05"/>
<polygon points="301.19,261.45 309.79,270.05 301.19,278.65 292.59,270.05" fill="#fff" stroke="#008000" stroke-width="2.05"/>
<polygon points="310.10,261.72 318.70,270.32 310.10,278.92 301.50,270.32" fill="#fff" stroke="#008000" stroke-width="2.05"/>
<polygon points="319.02,261.90 327.62,270.50 319.02,279.10 310.42,270.50" fill="#fff" stroke="#008000" stroke-width="2.05"/>
<polygon points="327.93,261.98 336.53,270.58 327.93,279.18 319.33,270.58" fill="#fff" stroke="#008000" stroke-width="2.05"/>
<polygon points="325.55,254.08 334.15,262.68 325.55,271.28 316.95,262.68" fill="#fff" stroke="#008000" stroke-width="2.05"/>
<polygon points="315.83,253.63 324.43,262.23 315.83,270.83 307.23,262.23" fill="#fff" stroke="#008000" stroke-width="2.05"/>
<polygon points="306.12,252.97 314.72,261.57 306.12,270.17 297.52,261.57" fill="#fff" stroke="#008000" stroke-width="2.05"/>
<polygon points="296.41,252.16 305.01,260.76 296.41,269.36 287.81,260.76" fill="#fff" stroke="#008000" stroke-width="2.05"/>
<polygon points="286.70,251.24 295.30,259.84 286.70,268.44 278.10,259.84" fill="#fff" stroke="#008000" stroke-width="2.05"/>
<polygon points="276.99,250.32 285.59,258.92 276.99,267.52 268.39,258.92" fill="#fff" stroke="#008000" stroke-width="2.05"/>
<polygon points="267.28,248.73 275.88,257.33 267.28,265.93 258.68,257.33" fill="#fff" stroke="#008000" stroke-width="2.05"/>
<polygon points="257.57,207.50 266.17,216.10 257.57,224.70 248.97,216.10" fill="#fff" stroke="#008000" stroke-width="2.05"/>
<polygon points="247.86,67.17 256.46,75.77 247.86,84.37 239.26,75.77" fill="#fff" stroke="#008000" stroke-width="2.05"/>
<polygon points="238.14,53.95 246.74,62.55 238.14,71.15 229.54,62.55" fill="#fff" stroke="#008000" stroke-width="2.05"/>
<polygon points="228.43,48.71 237.03,57.31 228.43,65.91 219.83,57.31" fill="#fff" stroke="#008000" stroke-width="2.05"/>
<polygon points="218.72,46.23 227.32,54.83 218.72,63.43 210.12,54.83" fill="#fff" stroke="#008000" stroke-width="2.05"/>
<polygon points="209.01,45.59 217.61,54.19 209.01,62.79 200.41,54.19" fill="#fff" stroke="#008000" stroke-width="2.05"/>
<polygon points="199.30,45.04 207.90,53.64 199.30,62.24 190.70,53.64" fill="#fff" stroke="#008000" stroke-width="2.05"/>
<polygon points="189.59,44.56 198.19,53.16 189.59,61.76 180.99,53.16" fill="#fff" stroke="#008000" stroke-width="2.05"/>
<polygon points="179.88,44.15 188.48,52.75 179.88,61.35 171.28,52.75" fill="#fff" stroke="#008000" stroke-width="2.05"/>
<polygon points="170.17,43.81 178.77,52.41 170.17,61.01 161.57,52.41" fill="#fff" stroke="#008000" stroke-width="2.05"/>
<polygon points="160.46,43.54 169.06,52.14 160.46,60.74 151.86,52.14" fill="#fff" stroke="#008000" stroke-width="2.05"/>
<polygon points="150.74,43.32 159.34,51.92 150.74,60.52 142.14,51.92" fill="#fff" stroke="#008000" stroke-width="2.05"/>
<polygon points="141.03,43.15 149.63,51.75 141.03,60.35 132.43,51.75" fill="#fff" stroke="#008000" stroke-width="2.05"/>
<polygon points="131.32,43.03 139.92,51.63 131.32,60.23 122.72,51.63" fill="#fff" stroke="#008000" stroke-width="2.05"/>
<polygon points="121.61,42.96 130.21,51.56 121.61,60.16 113.01,51.56" fill="#fff" stroke="#008000" stroke-width="2.05"/>
<polygon points="111.90,42.93 120.50,51.53 111.90,60.13 103.30,51.53" fill="#fff" stroke="#008000" stroke-width="2.05"/>
<polyline points="60.0,51.5 60.8,51.5 61.6,51.5 62.4,51.5 63.2,51.5 64.0,51.5 64.8,51.5 65.6,51.5 66.4,51.5 67.2,51.6 68.0,51.6 68.8,51.6 69.6,51.6 70.4,51.6 71.2,51.6 72.0,51.6 72.8,51.6 73.6,51.6 74.4,51.6 75.2,51.7 76.0,51.7 76.8,51.7 77.6,51.7 78.4,51.7 79.2,51.7 79.9,51.8 80.7,51.8 81.5,51.8 82.3,51.8 83.1,51.8 83.9,51.8 84.7,51.9 85.5,51.9 86.3,51.9 87.1,51.9 87.9,52.0 88.7,52.0 89.5,52.0 90.3,52.0 91.1,52.0 91.9,52.1 92.7,52.1 93.5,52.1 94.3,52.1 95.1,52.2 95.9,52.2 96.7,52.2 97.5,52.3 98.3,52.3 99.1,52.3 99.9,52.3 100.7,52.4 101.5,52.4 102.3,52.4 103.1,52.5 103.9,52.5 104.7,52.5 105.5,52.5 106.3,52.6 107.1,52.6 107.9,52.6 108.7,52.7 109.5,52.7 110.3,52.8 111.1,52.8 111.9,52.8 112.7,52.9 113.5,52.9 114.3,53.0 115.1,53.0 115.9,53.1 116.7,53.2 117.5,53.2 118.3,53.3 119.1,53.4 119.8,53.4 120.6,53.5 121.4,53.6 122.2,53.7 123.0,53.8 123.8,53.8 124.6,53.9 125.4,54.0 126.2,54.1 127.0,54.2 127.8,54.3 128.6,54.4 129.4,54.5 130.2,54.6 131.0,54.7 131.8,54.8 132.6,54.9 133.4,55.0 134.2,55.2 135.0,55.3 135.8,55.4 136.6,55.5 137.4,55.6 138.2,55.8 139.0,55.9 139.8,56.0 140.6,56.1 141.4,56.3 142.2,56.4 143.0,56.6 143.8,56.8 144.6,56.9 145.4,57.1 146.2,57.3 147.0,57.5 147.8,57.8 148.6,58.0 149.4,58.2 150.2,58.5 151.0,58.7 151.8,59.0 152.6,59.3 153.4,59.6 154.2,59.9 155.0,60.2 155.8,60.5 156.6,60.9 157.4,61.2 158.2,61.6 159.0,62.0 159.7,62.5 160.5,63.0 161.3,63.6 162.1,64.2 162.9,64.9 163.7,65.7 164.5,66.6 165.3,67.7 166.1,69.2 166.9,71.1 167.7,73.5 168.5,76.5 169.3,80.0 170.1,84.5 170.9,93.0 171.7,104.2 172.5,115.5 173.3,127.8 174.1,140.9 174.9,154.3 175.7,168.7 176.5,183.5 177.3,197.3 178.1,209.2 178.9,220.4 179.7,230.8 180.5,239.1 181.3,244.6 182.1,248.8 182.9,252.2 183.7,254.5 184.5,255.9 185.3,257.2 186.1,258.3 186.9,259.3 187.7,260.2 188.5,261.0 189.3,261.7 190.1,262.3 190.9,262.9 191.7,263.4 192.5,264.0 193.3,264.4 194.1,264.9 194.9,265.3 195.7,265.8 196.5,266.2 197.3,266.5 198.1,266.9 198.9,267.2 199.6,267.5 200.4,267.8 201.2,268.0 202.0,268.2 202.8,268.4 203.6,268.6 204.4,268.7 205.2,268.8 206.0,269.0 206.8,269.1 207.6,269.2 208.4,269.3 209.2,269.4 210.0,269.5 210.8,269.5 211.6,269.6 212.4,269.7 213.2,269.8 214.0,269.9 214.8,269.9 215.6,270.0 216.4,270.1 217.2,270.2 218.0,270.2 218.8,270.3 219.6,270.3 220.4,270.3 221.2,270.4 222.0,270.4 222.8,270.4 223.6,270.4 224.4,270.4 225.2,270.4 226.0,270.4 226.8,270.4 227.6,270.4 228.4,270.4 229.2,270.4 230.0,270.4 230.8,270.4 231.6,270.5 232.4,270.5 233.2,270.5 234.0,270.5 234.8,270.5 235.6,270.5 236.4,270.5 237.2,270.5 238.0,270.5 238.8,270.5 239.5,270.5 240.3,270.5 241.1,270.5 241.9,270.5 242.7,270.5 243.5,270.5 244.3,270.5 245.1,270.5 245.9,270.5 246.7,270.5 247.5,270.5 248.3,270.5 249.1,270.5 249.9,270.5 250.7,270.5 251.5,270.5 252.3,270.5 253.1,270.5 253.9,270.5 254.7,270.5 255.5,270.5 256.3,270.5 257.1,270.5 257.9,270.5 258.7,270.5 259.5,270.5 260.3,270.5 261.1,270.6 261.9,270.6 262.7,270.6 263.5,270.6 264.3,270.6 265.1,270.6 265.9,270.6 266.7,270.6 267.5,270.6 268.3,270.6 269.1,270.6 269.9,270.6 270.7,270.6 271.5,270.6 272.3,270.6 273.1,270.6 273.9,270.6 274.7,270.7 275.5,270.7 276.3,270.7 277.1,270.7 277.9,270.7 278.7,270.7 279.4,270.7 280.2,270.7 281.0,270.7 281.8,270.7 282.6,270.8 283.4,270.8 284.2,270.8 285.0,270.8 285.8,270.8 286.6,270.8 287.4,270.8 288.2,270.8 289.0,270.8 289.8,270.9 290.6,270.9 291.4,270.9 292.2,270.9 293.0,270.9 293.8,270.9 294.6,270.9 295.4,270.9 296.2,271.0 297.0,271.0 297.8,271.0 298.6,271.0 299.4,271.0 300.2,271.0 301.0,271.0 301.8,271.0 302.6,271.1 303.4,271.1 304.2,271.1 305.0,271.1 305.8,271.1 306.6,271.1 307.4,271.1 308.2,271.2 309.0,271.2 309.8,271.2 310.6,271.2 311.4,271.2 312.2,271.2 313.0,271.2 313.8,271.2 314.6,271.3 315.4,271.3 316.2,271.3 317.0,271.3 317.8,271.3 318.6,271.3 319.3,271.3 320.1,271.3 320.9,271.4 321.7,271.4 322.5,271.4 323.3,271.4 324.1,271.4 324.9,271.4 325.7,271.4 326.5,271.4 327.3,271.5 328.1,271.5 328.9,271.5 329.7,271.5 330.5,271.5 331.3,271.5 332.1,271.5 332.9,271.5 333.7,271.6 334.5,271.6 335.3,271.6 336.1,271.6 336.9,271.6 337.7,271.6 338.5,271.6 339.3,271.7 340.1,271.7 340.9,271.7 341.7,271.7 342.5,271.7 343.3,271.7 344.1,271.7 344.9,271.8 345.7,271.8 346.5,271.8 347.3,271.8 348.1,271.8 348.9,271.8 349.7,271.8 350.5,271.8 351.3,271.9 352.1,271.9 352.9,271.9 353.7,271.9 354.5,271.9 355.3,271.9 356.1,271.9 356.9,272.0 357.7,272.0 358.5,272.0 359.2,272.0 360.0,272.0 360.8,272.0 361.6,272.0 362.4,272.1 363.2,272.1 364.0,272.1 364.8,272.1 365.6,272.1 366.4,272.1 367.2,272.2 368.0,272.2 368.8,272.2 369.6,272.2 370.4,272.2 371.2,272.2 372.0,272.2 372.8,272.3 373.6,272.3 374.4,272.3 375.2,272.3 376.0,272.3 376.8,272.3 377.6,272.4 378.4,272.4" fill="none" stroke="#008000" stroke-width="1.2" stroke-linejoin="round"/>
<polyline points="60.0,49.3 60.8,49.3 61.6,49.3 62.4,49.3 63.2,49.3 64.0,49.3 64.8,49.3 65.6,49.3 66.4,49.3 67.2,49.3 68.0,49.3 68.8,49.3 69.6,49.3 70.4,49.3 71.2,49.3 72.0,49.3 72.8,49.3 73.6,49.3 74.4,49.3 75.2,49.3 76.0,49.3 76.8,49.3 77.6,49.3 78.4,49.3 79.2,49.3 79.9,49.3 80.7,49.3 81.5,49.3 82.3,49.3 83.1,49.3 83.9,49.3 84.7,49.3 85.5,49.3 86.3,49.3 87.1,49.3 87.9,49.3 88.7,49.3 89.5,49.3 90.3,49.3 91.1,49.3 91.9,49.3 92.7,49.3 93.5,49.3 94.3,49.3 95.1,49.3 95.9,49.4 96.7,49.4 97.5,49.4 98.3,49.4 99.1,49.4 99.9,49.4 100.7,49.4 101.5,49.4 102.3,49.4 103.1,49.4 103.9,49.4 104.7,49.4 105.5,49.4 106.3,49.4 107.1,49.4 107.9,49.4 108.7,49.4 109.5,49.4 110.3,49.4 111.1,49.4 111.9,49.4 112.7,49.4 113.5,49.4 114.3,49.4 115.1,49.4 115.9,49.4 116.7,49.4 117.5,49.4 118.3,49.4 119.1,49.4 119.8,49.4 120.6,49.5 121.4,49.5 122.2,49.5 123.0,49.5 123.8,49.5 124.6,49.5 125.4,49.5 126.2,49.5 127.0,49.5 127.8,49.5 128.6,49.5 129.4,49.5 130.2,49.5 131.0,49.5 131.8,49.5 132.6,49.5 133.4,49.5 134.2,49.5 135.0,49.5 135.8,49.5 136.6,49.5 137.4,49.5 138.2,49.6 139.0,49.6 139.8,49.6 140.6,49.6 141.4,49.6 142.2,49.6 143.0,49.6 143.8,49.6 144.6,49.6 145.4,49.6 146.2,49.6 147.0,49.6 147.8,49.6 148.6,49.6 149.4,49.6 150.2,49.6 151.0,49.6 151.8,49.7 152.6,49.7 153.4,49.7 154.2,49.7 155.0,49.7 155.8,49.7 156.6,49.7 157.4,49.7 158.2,49.7 159.0,49.7 159.7,49.7 160.5,49.7 161.3,49.7 162.1,49.7 162.9,49.7 163.7,49.8 164.5,49.8 165.3,49.8 166.1,49.8 166.9,49.8 167.7,49.8 168.5,49.8 169.3,49.8 170.1,49.8 170.9,49.8 171.7,49.8 172.5,49.8 173.3,49.8 174.1,49.9 174.9,49.9 175.7,49.9 176.5,49.9 177.3,49.9 178.1,49.9 178.9,49.9 179.7,49.9 180.5,49.9 181.3,49.9 182.1,49.9 182.9,49.9 183.7,50.0 184.5,50.0 185.3,50.0 186.1,50.0 186.9,50.0 187.7,50.0 188.5,50.0 189.3,50.0 190.1,50.0 190.9,50.0 191.7,50.0 192.5,50.1 193.3,50.1 194.1,50.1 194.9,50.1 195.7,50.1 196.5,50.1 197.3,50.1 198.1,50.1 198.9,50.1 199.6,50.1 200.4,50.2 201.2,50.2 202.0,50.2 202.8,50.2 203.6,50.2 204.4,50.2 205.2,50.2 206.0,50.2 206.8,50.2 207.6,50.2 208.4,50.3 209.2,50.3 210.0,50.3 210.8,50.3 211.6,50.3 212.4,50.3 213.2,50.3 214.0,50.3 214.8,50.3 215.6,50.4 216.4,50.4 217.2,50.4 218.0,50.4 218.8,50.4 219.6,50.4 220.4,50.4 221.2,50.4 222.0,50.5 222.8,50.5 223.6,50.5 224.4,50.5 225.2,50.5 226.0,50.5 226.8,50.6 227.6,50.6 228.4,50.6 229.2,50.6 230.0,50.6 230.8,50.7 231.6,50.7 232.4,50.7 233.2,50.7 234.0,50.8 234.8,50.8 235.6,50.8 236.4,50.9 237.2,50.9 238.0,51.0 238.8,51.0 239.5,51.0 240.3,51.1 241.1,51.1 241.9,51.2 242.7,51.3 243.5,51.3 244.3,51.4 245.1,51.4 245.9,51.5 246.7,51.6 247.5,51.6 248.3,51.7 249.1,51.8 249.9,51.9 250.7,51.9 251.5,52.0 252.3,52.2 253.1,52.6 253.9,52.9 254.7,53.4 255.5,53.8 256.3,54.3 257.1,54.8 257.9,55.3 258.7,55.7 259.5,56.0 260.3,56.4 261.1,56.7 261.9,57.0 262.7,57.2 263.5,57.5 264.3,57.8 265.1,58.1 265.9,58.4 266.7,58.8 267.5,59.2 268.3,59.6 269.1,60.1 269.9,60.6 270.7,61.1 271.5,61.8 272.3,62.5 273.1,63.4 273.9,64.6 274.7,66.3 275.5,68.5 276.3,71.0 277.1,73.6 277.9,76.4 278.7,79.5 279.4,83.3 280.2,87.8 281.0,94.0 281.8,103.1 282.6,113.1 283.4,122.5 284.2,131.7 285.0,141.4 285.8,152.5 286.6,166.5 287.4,184.1 288.2,201.0 289.0,214.5 289.8,227.0 290.6,236.5 291.4,242.3 292.2,246.7 293.0,249.9 293.8,252.1 294.6,253.9 295.4,255.0 296.2,255.6 297.0,256.2 297.8,256.8 298.6,257.3 299.4,257.7 300.2,258.1 301.0,258.4 301.8,258.8 302.6,259.0 303.4,259.2 304.2,259.4 305.0,259.6 305.8,259.7 306.6,259.8 307.4,259.9 308.2,260.0 309.0,260.1 309.8,260.1 310.6,260.2 311.4,260.2 312.2,260.3 313.0,260.3 313.8,260.4 314.6,260.5 315.4,260.5 316.2,260.6 317.0,260.7 317.8,260.8 318.6,260.9 319.3,261.1 320.1,261.2 320.9,261.3 321.7,261.4 322.5,261.5 323.3,261.6 324.1,261.7 324.9,261.8 325.7,261.9 326.5,262.0 327.3,262.1 328.1,262.2 328.9,262.3 329.7,262.4 330.5,262.5 331.3,262.5 332.1,262.6 332.9,262.7 333.7,262.8 334.5,262.9 335.3,262.9 336.1,263.0 336.9,263.1 337.7,263.2 338.5,263.2 339.3,263.3 340.1,263.4 340.9,263.4 341.7,263.5 342.5,263.6 343.3,263.6 344.1,263.7 344.9,263.8 345.7,263.8 346.5,263.9 347.3,264.0 348.1,264.0 348.9,264.1 349.7,264.2 350.5,264.2 351.3,264.3 352.1,264.4 352.9,264.4 353.7,264.5 354.5,264.5 355.3,264.6 356.1,264.7 356.9,264.7 357.7,264.8 358.5,264.8 359.2,264.9 360.0,265.0 360.8,265.0 361.6,265.1 362.4,265.1 363.2,265.2 364.0,265.2 364.8,265.3 365.6,265.4 366.4,265.4 367.2,265.5 368.0,265.5 368.8,265.6 369.6,265.6 370.4,265.7 371.2,265.7 372.0,265.8 372.8,265.8 373.6,265.9 374.4,265.9 375.2,266.0 376.0,266.0 376.8,266.1 377.6,266.1 378.4,266.1" fill="none" stroke="#008000" stroke-width="1.2" stroke-linejoin="round"/>
<polygon points="60.00,43.72 66.75,47.62 66.75,55.42 60.00,59.32 53.25,55.42 53.25,47.62" fill="#fff" stroke="#008000" stroke-width="2.05"/>
<polygon points="69.55,43.78 76.31,47.68 76.31,55.48 69.55,59.38 62.80,55.48 62.80,47.68" fill="#fff" stroke="#008000" stroke-width="2.05"/>
<polygon points="79.10,43.93 85.86,47.83 85.86,55.63 79.10,59.53 72.35,55.63 72.35,47.83" fill="#fff" stroke="#008000" stroke-width="2.05"/>
<polygon points="88.66,44.17 95.41,48.07 95.41,55.87 88.66,59.77 81.90,55.87 81.90,48.07" fill="#fff" stroke="#008000" stroke-width="2.05"/>
<polygon points="98.21,44.48 104.96,48.38 104.96,56.18 98.21,60.08 91.45,56.18 91.45,48.38" fill="#fff" stroke="#008000" stroke-width="2.05"/>
<polygon points="107.76,44.84 114.51,48.74 114.51,56.54 107.76,60.44 101.01,56.54 101.01,48.74" fill="#fff" stroke="#008000" stroke-width="2.05"/>
<polygon points="117.31,45.42 124.07,49.32 124.07,57.12 117.31,61.02 110.56,57.12 110.56,49.32" fill="#fff" stroke="#008000" stroke-width="2.05"/>
<polygon points="126.86,46.38 133.62,50.28 133.62,58.08 126.86,61.98 120.11,58.08 120.11,50.28" fill="#fff" stroke="#008000" stroke-width="2.05"/>
<polygon points="136.42,47.68 143.17,51.58 143.17,59.38 136.42,63.28 129.66,59.38 129.66,51.58" fill="#fff" stroke="#008000" stroke-width="2.05"/>
<polygon points="145.97,49.47 152.72,53.37 152.72,61.17 145.97,65.07 139.21,61.17 139.21,53.37" fill="#fff" stroke="#008000" stroke-width="2.05"/>
<polygon points="155.52,52.62 162.27,56.52 162.27,64.32 155.52,68.22 148.77,64.32 148.77,56.52" fill="#fff" stroke="#008000" stroke-width="2.05"/>
<polygon points="165.07,59.49 171.83,63.39 171.83,71.19 165.07,75.09 158.32,71.19 158.32,63.39" fill="#fff" stroke="#008000" stroke-width="2.05"/>
<polygon points="174.62,141.58 181.38,145.48 181.38,153.28 174.62,157.18 167.87,153.28 167.87,145.48" fill="#fff" stroke="#008000" stroke-width="2.05"/>
<polygon points="184.18,247.58 190.93,251.48 190.93,259.28 184.18,263.18 177.42,259.28 177.42,251.48" fill="#fff" stroke="#008000" stroke-width="2.05"/>
<polygon points="193.73,256.91 200.48,260.81 200.48,268.61 193.73,272.51 186.97,268.61 186.97,260.81" fill="#fff" stroke="#008000" stroke-width="2.05"/>
<polygon points="203.28,260.69 210.03,264.59 210.03,272.39 203.28,276.29 196.53,272.39 196.53,264.59" fill="#fff" stroke="#008000" stroke-width="2.05"/>
<polygon points="212.83,261.94 219.59,265.84 219.59,273.64 212.83,277.54 206.08,273.64 206.08,265.84" fill="#fff" stroke="#008000" stroke-width="2.05"/>
<polygon points="222.38,262.58 229.14,266.48 229.14,274.28 222.38,278.18 215.63,274.28 215.63,266.48" fill="#fff" stroke="#008000" stroke-width="2.05"/>
<polygon points="231.94,262.65 238.69,266.55 238.69,274.35 231.94,278.25 225.18,274.35 225.18,266.55" fill="#fff" stroke="#008000" stroke-width="2.05"/>
<polygon points="241.49,262.69 248.24,266.59 248.24,274.39 241.49,278.29 234.73,274.39 234.73,266.59" fill="#fff" stroke="#008000" stroke-width="2.05"/>
<polygon points="251.04,262.72 257.79,266.62 257.79,274.42 251.04,278.32 244.29,274.42 244.29,266.62" fill="#fff" stroke="#008000" stroke-width="2.05"/>
<polygon points="260.59,262.75 267.35,266.65 267.35,274.45 260.59,278.35 253.84,274.45 253.84,266.65" fill="#fff" stroke="#008000" stroke-width="2.05"/>
<polygon points="270.14,262.81 276.90,266.71 276.90,274.51 270.14,278.41 263.39,274.51 263.39,266.71" fill="#fff" stroke="#008000" stroke-width="2.05"/>
<polygon points="279.70,262.92 286.45,266.82 286.45,274.62 279.70,278.52 272.94,274.62 272.94,266.82" fill="#fff" stroke="#008000" stroke-width="2.05"/>
<polygon points="289.25,263.05 296.00,266.95 296.00,274.75 289.25,278.65 282.49,274.75 282.49,266.95" fill="#fff" stroke="#008000" stroke-width="2.05"/>
<polygon points="298.80,263.20 305.55,267.10 305.55,274.90 298.80,278.80 292.05,274.90 292.05,267.10" fill="#fff" stroke="#008000" stroke-width="2.05"/>
<polygon points="308.35,263.35 315.11,267.25 315.11,275.05 308.35,278.95 301.60,275.05 301.60,267.25" fill="#fff" stroke="#008000" stroke-width="2.05"/>
<polygon points="317.90,263.50 324.66,267.40 324.66,275.20 317.90,279.10 311.15,275.20 311.15,267.40" fill="#fff" stroke="#008000" stroke-width="2.05"/>
<polygon points="327.46,263.66 334.21,267.56 334.21,275.36 327.46,279.26 320.70,275.36 320.70,267.56" fill="#fff" stroke="#008000" stroke-width="2.05"/>
<polygon points="337.01,263.82 343.76,267.72 343.76,275.52 337.01,279.42 330.25,275.52 330.25,267.72" fill="#fff" stroke="#008000" stroke-width="2.05"/>
<polygon points="346.56,263.98 353.31,267.88 353.31,275.68 346.56,279.58 339.81,275.68 339.81,267.88" fill="#fff" stroke="#008000" stroke-width="2.05"/>
<polygon points="356.11,264.15 362.87,268.05 362.87,275.85 356.11,279.75 349.36,275.85 349.36,268.05" fill="#fff" stroke="#008000" stroke-width="2.05"/>
<polygon points="365.66,264.32 372.42,268.22 372.42,276.02 365.66,279.92 358.91,276.02 358.91,268.22" fill="#fff" stroke="#008000" stroke-width="2.05"/>
<polygon points="375.22,264.51 381.97,268.41 381.97,276.21 375.22,280.11 368.46,276.21 368.46,268.41" fill="#fff" stroke="#008000" stroke-width="2.05"/>
<polygon points="372.03,257.97 378.79,261.87 378.79,269.67 372.03,273.57 365.28,269.67 365.28,261.87" fill="#fff" stroke="#008000" stroke-width="2.05"/>
<polygon points="362.48,257.34 369.23,261.24 369.23,269.04 362.48,272.94 355.73,269.04 355.73,261.24" fill="#fff" stroke="#008000" stroke-width="2.05"/>
<polygon points="352.93,256.62 359.68,260.52 359.68,268.32 352.93,272.22 346.17,268.32 346.17,260.52" fill="#fff" stroke="#008000" stroke-width="2.05"/>
<polygon points="343.38,255.85 350.13,259.75 350.13,267.55 343.38,271.45 336.62,267.55 336.62,259.75" fill="#fff" stroke="#008000" stroke-width="2.05"/>
<polygon points="333.82,254.99 340.58,258.89 340.58,266.69 333.82,270.59 327.07,266.69 327.07,258.89" fill="#fff" stroke="#008000" stroke-width="2.05"/>
<polygon points="324.27,253.96 331.03,257.86 331.03,265.66 324.27,269.56 317.52,265.66 317.52,257.86" fill="#fff" stroke="#008000" stroke-width="2.05"/>
<polygon points="314.72,252.69 321.47,256.59 321.47,264.39 314.72,268.29 307.97,264.39 307.97,256.59" fill="#fff" stroke="#008000" stroke-width="2.05"/>
<polygon points="305.17,251.81 311.92,255.71 311.92,263.51 305.17,267.41 298.41,263.51 298.41,255.71" fill="#fff" stroke="#008000" stroke-width="2.05"/>
<polygon points="295.62,247.36 302.37,251.26 302.37,259.06 295.62,262.96 288.86,259.06 288.86,251.26" fill="#fff" stroke="#008000" stroke-width="2.05"/>
<polygon points="286.06,148.25 292.82,152.15 292.82,159.95 286.06,163.85 279.31,159.95 279.31,152.15" fill="#fff" stroke="#008000" stroke-width="2.05"/>
<polygon points="276.51,64.03 283.27,67.93 283.27,75.73 276.51,79.63 269.76,75.73 269.76,67.93" fill="#fff" stroke="#008000" stroke-width="2.05"/>
<polygon points="266.96,51.10 273.71,55.00 273.71,62.80 266.96,66.70 260.21,62.80 260.21,55.00" fill="#fff" stroke="#008000" stroke-width="2.05"/>
<polygon points="257.41,47.17 264.16,51.07 264.16,58.87 257.41,62.77 250.65,58.87 250.65,51.07" fill="#fff" stroke="#008000" stroke-width="2.05"/>
<polygon points="247.86,43.86 254.61,47.76 254.61,55.56 247.86,59.46 241.10,55.56 241.10,47.76" fill="#fff" stroke="#008000" stroke-width="2.05"/>
<polygon points="238.30,43.18 245.06,47.08 245.06,54.88 238.30,58.78 231.55,54.88 231.55,47.08" fill="#fff" stroke="#008000" stroke-width="2.05"/>
<polygon points="228.75,42.80 235.51,46.70 235.51,54.50 228.75,58.40 222.00,54.50 222.00,46.70" fill="#fff" stroke="#008000" stroke-width="2.05"/>
<polygon points="219.20,42.61 225.95,46.51 225.95,54.31 219.20,58.21 212.45,54.31 212.45,46.51" fill="#fff" stroke="#008000" stroke-width="2.05"/>
<polygon points="209.65,42.48 216.40,46.38 216.40,54.18 209.65,58.08 202.89,54.18 202.89,46.38" fill="#fff" stroke="#008000" stroke-width="2.05"/>
<polygon points="200.10,42.35 206.85,46.25 206.85,54.05 200.10,57.95 193.34,54.05 193.34,46.25" fill="#fff" stroke="#008000" stroke-width="2.05"/>
<polygon points="190.54,42.23 197.30,46.13 197.30,53.93 190.54,57.83 183.79,53.93 183.79,46.13" fill="#fff" stroke="#008000" stroke-width="2.05"/>
<polygon points="180.99,42.13 187.75,46.03 187.75,53.83 180.99,57.73 174.24,53.83 174.24,46.03" fill="#fff" stroke="#008000" stroke-width="2.05"/>
<polygon points="171.44,42.03 178.19,45.93 178.19,53.73 171.44,57.63 164.69,53.73 164.69,45.93" fill="#fff" stroke="#008000" stroke-width="2.05"/>
<polygon points="161.89,41.94 168.64,45.84 168.64,53.64 161.89,57.54 155.13,53.64 155.13,45.84" fill="#fff" stroke="#008000" stroke-width="2.05"/>
<polygon points="152.34,41.86 159.09,45.76 159.09,53.56 152.34,57.46 145.58,53.56 145.58,45.76" fill="#fff" stroke="#008000" stroke-width="2.05"/>
<polygon points="142.78,41.79 149.54,45.69 149.54,53.49 142.78,57.39 136.03,53.49 136.03,45.69" fill="#fff" stroke="#008000" stroke-width="2.05"/>
<polygon points="133.23,41.72 139.99,45.62 139.99,53.42 133.23,57.32 126.48,53.42 126.48,45.62" fill="#fff" stroke="#008000" stroke-width="2.05"/>
<polygon points="123.68,41.67 130.43,45.57 130.43,53.37 123.68,57.27 116.93,53.37 116.93,45.57" fill="#fff" stroke="#008000" stroke-width="2.05"/>
<polygon points="114.13,41.62 120.88,45.52 120.88,53.32 114.13,57.22 107.37,53.32 107.37,45.52" fill="#fff" stroke="#008000" stroke-width="2.05"/>
<polygon points="104.58,41.58 111.33,45.48 111.33,53.28 104.58,57.18 97.82,53.28 97.82,45.48" fill="#fff" stroke="#008000" stroke-width="2.05"/>
<polygon points="95.02,41.55 101.78,45.45 101.78,53.25 95.02,57.15 88.27,53.25 88.27,45.45" fill="#fff" stroke="#008000" stroke-width="2.05"/>
<polygon points="85.47,41.53 92.23,45.43 92.23,53.23 85.47,57.13 78.72,53.23 78.72,45.43" fill="#fff" stroke="#008000" stroke-width="2.05"/>
<polygon points="75.92,41.51 82.67,45.41 82.67,53.21 75.92,57.11 69.17,53.21 69.17,45.41" fill="#fff" stroke="#008000" stroke-width="2.05"/>
<polygon points="66.37,41.50 73.12,45.40 73.12,53.20 66.37,57.10 59.61,53.20 59.61,45.40" fill="#fff" stroke="#008000" stroke-width="2.05"/>
</g>
<line x1="159.3" y1="113.8" x2="162.9" y2="180" stroke="#000" stroke-width="2.6"/>
<polygon points="158.4,177.5 168.0,177.0 163.2,195.5" fill="#000"/>
<line x1="300.6" y1="188.9" x2="298.2" y2="126" stroke="#000" stroke-width="2.6"/>
<polygon points="292.5,129.8 303.1,129.4 297.75,111.5" fill="#000"/>
<rect x="60" y="38.5" width="318.4" height="244.5" fill="none" stroke="#000" stroke-width="2.9"/>
<line x1="60" y1="283" x2="60" y2="277" stroke="#000" stroke-width="2.3"/>
<text x="60" y="303.6" font-size="18" font-weight="bold" text-anchor="middle">-10</text>
<line x1="139.6" y1="283" x2="139.6" y2="277" stroke="#000" stroke-width="2.3"/>
<text x="139.6" y="303.6" font-size="18" font-weight="bold" text-anchor="middle">-5</text>
<line x1="219.2" y1="283" x2="219.2" y2="277" stroke="#000" stroke-width="2.3"/>
<text x="219.2" y="303.6" font-size="18" font-weight="bold" text-anchor="middle">0</text>
<line x1="298.8" y1="283" x2="298.8" y2="277" stroke="#000" stroke-width="2.3"/>
<text x="298.8" y="303.6" font-size="18" font-weight="bold" text-anchor="middle">5</text>
<line x1="378.4" y1="283" x2="378.4" y2="277" stroke="#000" stroke-width="2.3"/>
<text x="378.4" y="303.6" font-size="18" font-weight="bold" text-anchor="middle">10</text>
<line x1="99.8" y1="283" x2="99.8" y2="279.2" stroke="#000" stroke-width="2.3"/>
<line x1="179.4" y1="283" x2="179.4" y2="279.2" stroke="#000" stroke-width="2.3"/>
<line x1="259" y1="283" x2="259" y2="279.2" stroke="#000" stroke-width="2.3"/>
<line x1="338.6" y1="283" x2="338.6" y2="279.2" stroke="#000" stroke-width="2.3"/>
<line x1="60" y1="271.7" x2="66" y2="271.7" stroke="#000" stroke-width="2.3"/>
<text x="54.3" y="278" font-size="18.3" font-weight="bold" text-anchor="end" textLength="25.4" lengthAdjust="spacingAndGlyphs">0.0</text>
<line x1="60" y1="249.46" x2="63.8" y2="249.46" stroke="#000" stroke-width="2.3"/>
<line x1="60" y1="227.22" x2="66" y2="227.22" stroke="#000" stroke-width="2.3"/>
<text x="54.3" y="233.52" font-size="18.3" font-weight="bold" text-anchor="end" textLength="25.4" lengthAdjust="spacingAndGlyphs">0.2</text>
<line x1="60" y1="204.98" x2="63.8" y2="204.98" stroke="#000" stroke-width="2.3"/>
<line x1="60" y1="182.74" x2="66" y2="182.74" stroke="#000" stroke-width="2.3"/>
<text x="54.3" y="189.04" font-size="18.3" font-weight="bold" text-anchor="end" textLength="25.4" lengthAdjust="spacingAndGlyphs">0.4</text>
<line x1="60" y1="160.5" x2="63.8" y2="160.5" stroke="#000" stroke-width="2.3"/>
<line x1="60" y1="138.26" x2="66" y2="138.26" stroke="#000" stroke-width="2.3"/>
<text x="54.3" y="144.56" font-size="18.3" font-weight="bold" text-anchor="end" textLength="25.4" lengthAdjust="spacingAndGlyphs">0.6</text>
<line x1="60" y1="116.02" x2="63.8" y2="116.02" stroke="#000" stroke-width="2.3"/>
<line x1="60" y1="93.78" x2="66" y2="93.78" stroke="#000" stroke-width="2.3"/>
<text x="54.3" y="100.08" font-size="18.3" font-weight="bold" text-anchor="end" textLength="25.4" lengthAdjust="spacingAndGlyphs">0.8</text>
<line x1="60" y1="71.54" x2="63.8" y2="71.54" stroke="#000" stroke-width="2.3"/>
<line x1="60" y1="49.3" x2="66" y2="49.3" stroke="#000" stroke-width="2.3"/>
<text x="54.3" y="55.6" font-size="18.3" font-weight="bold" text-anchor="end" textLength="25.4" lengthAdjust="spacingAndGlyphs">1.0</text>
<text x="146" y="325.2" font-size="17" font-weight="bold" textLength="145" lengthAdjust="spacingAndGlyphs">Gate Voltage (V)</text>
<text x="16.8" y="278.5" font-size="19" font-weight="bold" textLength="230.7" lengthAdjust="spacingAndGlyphs" transform="rotate(-90 16.8 278.5)">Normalized Capacitance</text>
<text x="330.9" y="62.0" font-size="19" font-weight="bold">N<tspan dy="6.8" font-size="19">2</tspan><tspan dy="-6.8">O</tspan></text>
<line x1="67.7" y1="216.1" x2="105.4" y2="216.1" stroke="#008000" stroke-width="1.6"/>
<circle cx="86.60" cy="216.10" r="6.30" fill="#fff" stroke="#008000" stroke-width="1.9"/>
<text x="110" y="222.3" font-size="17.5" font-weight="bold" textLength="43.5" lengthAdjust="spacingAndGlyphs">± 5 V</text>
<line x1="67.7" y1="240.55" x2="105.4" y2="240.55" stroke="#008000" stroke-width="1.6"/>
<polygon points="86.60,231.95 95.20,240.55 86.60,249.15 78.00,240.55" fill="#fff" stroke="#008000" stroke-width="1.9"/>
<text x="110" y="246.75" font-size="17.5" font-weight="bold" textLength="43" lengthAdjust="spacingAndGlyphs">± 7 V</text>
<line x1="67.7" y1="265" x2="105.4" y2="265" stroke="#008000" stroke-width="1.6"/>
<polygon points="86.60,257.40 93.18,261.20 93.18,268.80 86.60,272.60 80.02,268.80 80.02,261.20" fill="#fff" stroke="#008000" stroke-width="1.9"/>
<text x="110" y="271.2" font-size="17.5" font-weight="bold" textLength="54" lengthAdjust="spacingAndGlyphs">± 10 V</text>
<text x="7.8" y="15.8" font-size="20.5">(a)</text>
<defs><pattern id="hb" patternUnits="userSpaceOnUse" width="10" height="4.45" y="0"><line x1="0" y1="1.35" x2="10" y2="1.35" stroke="#0000FF" stroke-width="1.8"/></pattern><pattern id="hp" patternUnits="userSpaceOnUse" width="5.1" height="10" patternTransform="rotate(45)"><line x1="2.5" y1="0" x2="2.5" y2="10" stroke="#FF0080" stroke-width="1.6"/></pattern><pattern id="hg" patternUnits="userSpaceOnUse" width="4.9" height="10" patternTransform="rotate(-45)"><line x1="2.4" y1="0" x2="2.4" y2="10" stroke="#008000" stroke-width="1.5"/></pattern></defs>
<rect x="472.11" y="272.22" width="28.70" height="11.58" fill="url(#hb)" stroke="#0000FF" stroke-width="1.5"/>
<rect x="500.81" y="272.22" width="28.70" height="11.58" fill="url(#hp)" stroke="#FF0080" stroke-width="1.5"/>
<rect x="529.51" y="231.69" width="28.70" height="52.11" fill="url(#hg)" stroke="#008000" stroke-width="1.5"/>
<rect x="579.45" y="272.22" width="28.70" height="11.58" fill="url(#hb)" stroke="#0000FF" stroke-width="1.5"/>
<rect x="608.15" y="272.22" width="28.70" height="11.58" fill="url(#hp)" stroke="#FF0080" stroke-width="1.5"/>
<rect x="636.85" y="156.56" width="28.70" height="127.24" fill="url(#hg)" stroke="#008000" stroke-width="1.5"/>
<rect x="635.35" y="163.7" width="31.70" height="4.5" fill="#fff"/>
<rect x="686.78" y="267.24" width="28.70" height="16.56" fill="url(#hb)" stroke="#0000FF" stroke-width="1.5"/>
<rect x="715.48" y="261.33" width="28.70" height="22.47" fill="url(#hp)" stroke="#FF0080" stroke-width="1.5"/>
<rect x="744.18" y="73.72" width="28.70" height="210.08" fill="url(#hg)" stroke="#008000" stroke-width="1.5"/>
<rect x="742.68" y="163.7" width="31.70" height="4.5" fill="#fff"/>
<path d="M461.5,48.5 H783.5 V283.8 H461.5 Z" fill="none" stroke="#000" stroke-width="2.9"/>
<rect x="459.5" y="165.9" width="4" height="3.3" fill="#fff"/>
<line x1="455.3" y1="167.6" x2="466.3" y2="164.2" stroke="#000" stroke-width="1.8"/>
<line x1="455.3" y1="171" x2="466.3" y2="167.6" stroke="#000" stroke-width="1.8"/>
<line x1="461.5" y1="283.8" x2="467.5" y2="283.8" stroke="#000" stroke-width="2.3"/>
<text x="454.6" y="289.7" font-size="18.3" font-weight="bold" text-anchor="end" textLength="25.4" lengthAdjust="spacingAndGlyphs">0.0</text>
<line x1="461.5" y1="272.22" x2="465.3" y2="272.22" stroke="#000" stroke-width="2.3"/>
<line x1="461.5" y1="260.64" x2="467.5" y2="260.64" stroke="#000" stroke-width="2.3"/>
<text x="454.6" y="266.54" font-size="18.3" font-weight="bold" text-anchor="end" textLength="25.4" lengthAdjust="spacingAndGlyphs">0.2</text>
<line x1="461.5" y1="249.06" x2="465.3" y2="249.06" stroke="#000" stroke-width="2.3"/>
<line x1="461.5" y1="237.48" x2="467.5" y2="237.48" stroke="#000" stroke-width="2.3"/>
<text x="454.6" y="243.38" font-size="18.3" font-weight="bold" text-anchor="end" textLength="25.4" lengthAdjust="spacingAndGlyphs">0.4</text>
<line x1="461.5" y1="225.9" x2="465.3" y2="225.9" stroke="#000" stroke-width="2.3"/>
<line x1="461.5" y1="214.32" x2="467.5" y2="214.32" stroke="#000" stroke-width="2.3"/>
<text x="454.6" y="220.22" font-size="18.3" font-weight="bold" text-anchor="end" textLength="25.4" lengthAdjust="spacingAndGlyphs">0.6</text>
<line x1="461.5" y1="202.74" x2="465.3" y2="202.74" stroke="#000" stroke-width="2.3"/>
<line x1="461.5" y1="191.16" x2="467.5" y2="191.16" stroke="#000" stroke-width="2.3"/>
<text x="454.6" y="197.06" font-size="18.3" font-weight="bold" text-anchor="end" textLength="25.4" lengthAdjust="spacingAndGlyphs">0.8</text>
<line x1="461.5" y1="179.58" x2="465.3" y2="179.58" stroke="#000" stroke-width="2.3"/>
<line x1="461.5" y1="164.2" x2="467.5" y2="164.2" stroke="#000" stroke-width="2.3"/>
<text x="454.6" y="170.1" font-size="18.3" font-weight="bold" text-anchor="end">3</text>
<line x1="461.5" y1="152.63" x2="465.3" y2="152.63" stroke="#000" stroke-width="2.3"/>
<line x1="461.5" y1="141.06" x2="467.5" y2="141.06" stroke="#000" stroke-width="2.3"/>
<text x="454.6" y="146.96" font-size="18.3" font-weight="bold" text-anchor="end">4</text>
<line x1="461.5" y1="129.49" x2="465.3" y2="129.49" stroke="#000" stroke-width="2.3"/>
<line x1="461.5" y1="117.92" x2="467.5" y2="117.92" stroke="#000" stroke-width="2.3"/>
<text x="454.6" y="123.82" font-size="18.3" font-weight="bold" text-anchor="end">5</text>
<line x1="461.5" y1="106.35" x2="465.3" y2="106.35" stroke="#000" stroke-width="2.3"/>
<line x1="461.5" y1="94.78" x2="467.5" y2="94.78" stroke="#000" stroke-width="2.3"/>
<text x="454.6" y="100.68" font-size="18.3" font-weight="bold" text-anchor="end">6</text>
<line x1="461.5" y1="83.21" x2="465.3" y2="83.21" stroke="#000" stroke-width="2.3"/>
<line x1="461.5" y1="71.64" x2="467.5" y2="71.64" stroke="#000" stroke-width="2.3"/>
<text x="454.6" y="77.54" font-size="18.3" font-weight="bold" text-anchor="end">7</text>
<line x1="461.5" y1="60.07" x2="465.3" y2="60.07" stroke="#000" stroke-width="2.3"/>
<line x1="461.5" y1="48.5" x2="467.5" y2="48.5" stroke="#000" stroke-width="2.3"/>
<text x="454.6" y="54.4" font-size="18.3" font-weight="bold" text-anchor="end">8</text>
<text x="497.2" y="305.4" font-size="17.5" font-weight="bold" textLength="38.5" lengthAdjust="spacingAndGlyphs">±5 V</text>
<text x="601" y="305.4" font-size="17.5" font-weight="bold" textLength="38.8" lengthAdjust="spacingAndGlyphs">±7 V</text>
<text x="709.2" y="305.4" font-size="17.5" font-weight="bold" textLength="49.4" lengthAdjust="spacingAndGlyphs">±10 V</text>
<text x="525.2" y="326.2" font-size="18" font-weight="bold" textLength="193.7" lengthAdjust="spacingAndGlyphs">Sweeping Voltage (V)</text>
<text x="419.1" y="320" font-size="18" font-weight="bold" textLength="283" lengthAdjust="spacingAndGlyphs" transform="rotate(-90 419.1 320)">Hysteresis Memory Window (V)</text>
<rect x="472.7" y="61.90" width="25.8" height="12.0" fill="#fff" stroke="#0000FF" stroke-width="1.6"/>
<line x1="472.7" y1="67.3" x2="498.5" y2="67.3" stroke="#0000FF" stroke-width="1.9"/>
<line x1="472.7" y1="72" x2="498.5" y2="72" stroke="#0000FF" stroke-width="1.9"/>
<rect x="472.7" y="84.80" width="25.8" height="12.0" fill="url(#hp)" stroke="#FF0080" stroke-width="1.5"/>
<rect x="472.7" y="117.00" width="25.8" height="12.0" fill="url(#hg)" stroke="#008000" stroke-width="1.5"/>
<text x="504.1" y="71.8" font-size="18" font-weight="bold" textLength="169.2" lengthAdjust="spacingAndGlyphs">Without Treatment</text>
<text x="504.1" y="94.7" font-size="18" font-weight="bold">CF<tspan dy="7.6" font-size="17">4</tspan></text>
<text x="504.1" y="126.9" font-size="18" font-weight="bold">N<tspan dy="6.8" font-size="17">2</tspan><tspan dy="-6.8">O</tspan></text>
<text x="400.6" y="15.6" font-size="20.5">(b)</text>
<clipPath id="clipC"><rect x="58.2" y="401.2" width="318.6" height="246.59999999999997"/></clipPath>
<g clip-path="url(#clipC)">
<polyline points="58.2,415.1 58.8,415.1 59.5,415.1 60.1,415.1 60.8,415.1 61.4,415.1 62.0,415.1 62.7,415.1 63.3,415.1 63.9,415.1 64.6,415.1 65.2,415.1 65.9,415.1 66.5,415.1 67.1,415.1 67.8,415.2 68.4,415.2 69.1,415.2 69.7,415.2 70.3,415.2 71.0,415.2 71.6,415.2 72.2,415.2 72.9,415.2 73.5,415.2 74.2,415.3 74.8,415.3 75.4,415.3 76.1,415.3 76.7,415.3 77.4,415.3 78.0,415.3 78.6,415.4 79.3,415.4 79.9,415.4 80.5,415.4 81.2,415.4 81.8,415.4 82.5,415.5 83.1,415.5 83.7,415.5 84.4,415.5 85.0,415.5 85.7,415.6 86.3,415.6 86.9,415.6 87.6,415.6 88.2,415.6 88.8,415.7 89.5,415.7 90.1,415.7 90.8,415.7 91.4,415.8 92.0,415.8 92.7,415.8 93.3,415.8 94.0,415.9 94.6,415.9 95.2,415.9 95.9,415.9 96.5,416.0 97.1,416.0 97.8,416.0 98.4,416.1 99.1,416.1 99.7,416.1 100.3,416.1 101.0,416.2 101.6,416.2 102.3,416.2 102.9,416.3 103.5,416.3 104.2,416.3 104.8,416.4 105.4,416.4 106.1,416.4 106.7,416.5 107.4,416.5 108.0,416.5 108.6,416.6 109.3,416.6 109.9,416.6 110.6,416.7 111.2,416.7 111.8,416.7 112.5,416.8 113.1,416.8 113.7,416.8 114.4,416.9 115.0,416.9 115.7,417.0 116.3,417.0 116.9,417.0 117.6,417.1 118.2,417.1 118.9,417.1 119.5,417.2 120.1,417.2 120.8,417.3 121.4,417.3 122.0,417.3 122.7,417.4 123.3,417.4 124.0,417.5 124.6,417.5 125.2,417.6 125.9,417.6 126.5,417.7 127.2,417.8 127.8,417.8 128.4,417.9 129.1,418.0 129.7,418.0 130.3,418.1 131.0,418.2 131.6,418.3 132.3,418.4 132.9,418.5 133.5,418.6 134.2,418.6 134.8,418.7 135.5,418.9 136.1,419.0 136.7,419.1 137.4,419.2 138.0,419.3 138.6,419.4 139.3,419.5 139.9,419.6 140.6,419.8 141.2,419.9 141.8,420.0 142.5,420.2 143.1,420.3 143.8,420.4 144.4,420.6 145.0,420.7 145.7,420.9 146.3,421.0 146.9,421.2 147.6,421.4 148.2,421.6 148.9,421.8 149.5,422.0 150.1,422.3 150.8,422.5 151.4,422.8 152.1,423.1 152.7,423.4 153.3,423.7 154.0,424.0 154.6,424.3 155.2,424.6 155.9,425.0 156.5,425.4 157.2,425.7 157.8,426.1 158.4,426.5 159.1,426.9 159.7,427.4 160.4,427.8 161.0,428.2 161.6,428.7 162.3,429.1 162.9,429.6 163.5,430.1 164.2,430.7 164.8,431.4 165.5,432.3 166.1,433.2 166.7,434.3 167.4,436.0 168.0,439.3 168.7,443.9 169.3,448.9 169.9,453.7 170.6,457.6 171.2,460.2 171.8,462.4 172.5,464.9 173.1,468.7 173.8,480.3 174.4,504.5 175.0,532.8 175.7,556.4 176.3,567.7 177.0,574.1 177.6,579.1 178.2,583.2 178.9,586.9 179.5,590.7 180.1,594.8 180.8,599.0 181.4,603.1 182.1,607.2 182.7,610.9 183.3,614.4 184.0,617.3 184.6,619.7 185.3,621.4 185.9,622.3 186.5,623.1 187.2,623.7 187.8,624.2 188.4,624.7 189.1,625.1 189.7,625.5 190.4,625.8 191.0,626.1 191.6,626.4 192.3,626.7 192.9,627.0 193.6,627.2 194.2,627.5 194.8,627.7 195.5,627.9 196.1,628.1 196.7,628.3 197.4,628.5 198.0,628.7 198.7,628.8 199.3,629.0 199.9,629.1 200.6,629.2 201.2,629.4 201.9,629.5 202.5,629.6 203.1,629.7 203.8,629.8 204.4,629.9 205.0,630.0 205.7,630.1 206.3,630.1 207.0,630.2 207.6,630.3 208.2,630.4 208.9,630.5 209.5,630.5 210.2,630.6 210.8,630.7 211.4,630.7 212.1,630.8 212.7,630.9 213.3,630.9 214.0,631.0 214.6,631.0 215.3,631.1 215.9,631.1 216.5,631.2 217.2,631.2 217.8,631.2 218.5,631.3 219.1,631.3 219.7,631.4 220.4,631.4 221.0,631.4 221.7,631.5 222.3,631.5 222.9,631.5 223.6,631.6 224.2,631.6 224.8,631.6 225.5,631.7 226.1,631.7 226.8,631.7 227.4,631.7 228.0,631.8 228.7,631.8 229.3,631.8 230.0,631.8 230.6,631.9 231.2,631.9 231.9,631.9 232.5,631.9 233.1,632.0 233.8,632.0 234.4,632.0 235.1,632.0 235.7,632.1 236.3,632.1 237.0,632.1 237.6,632.1 238.3,632.2 238.9,632.2 239.5,632.2 240.2,632.2 240.8,632.2 241.4,632.3 242.1,632.3 242.7,632.3 243.4,632.3 244.0,632.4 244.6,632.4 245.3,632.4 245.9,632.4 246.6,632.5 247.2,632.5 247.8,632.5 248.5,632.5 249.1,632.6 249.7,632.6 250.4,632.6 251.0,632.6 251.7,632.7 252.3,632.7 252.9,632.7 253.6,632.7 254.2,632.8 254.9,632.8 255.5,632.8 256.1,632.9 256.8,632.9 257.4,632.9 258.0,632.9 258.7,633.0 259.3,633.0 260.0,633.0 260.6,633.0 261.2,633.1 261.9,633.1 262.5,633.1 263.2,633.1 263.8,633.2 264.4,633.2 265.1,633.2 265.7,633.3 266.3,633.3 267.0,633.3 267.6,633.3 268.3,633.4 268.9,633.4 269.5,633.4 270.2,633.4 270.8,633.5 271.5,633.5 272.1,633.5 272.7,633.6 273.4,633.6 274.0,633.6 274.6,633.6 275.3,633.7 275.9,633.7 276.6,633.7 277.2,633.7 277.8,633.8 278.5,633.8 279.1,633.8 279.8,633.8 280.4,633.9 281.0,633.9 281.7,633.9 282.3,634.0 282.9,634.0 283.6,634.0 284.2,634.0 284.9,634.1 285.5,634.1 286.1,634.1 286.8,634.1 287.4,634.2 288.1,634.2 288.7,634.2 289.3,634.2 290.0,634.3 290.6,634.3 291.2,634.3 291.9,634.3 292.5,634.4 293.2,634.4 293.8,634.4 294.4,634.4 295.1,634.5 295.7,634.5 296.4,634.5 297.0,634.5 297.6,634.6 298.3,634.6 298.9,634.6 299.5,634.6 300.2,634.7 300.8,634.7 301.5,634.7 302.1,634.7 302.7,634.8 303.4,634.8 304.0,634.8 304.7,634.9 305.3,634.9 305.9,634.9 306.6,634.9 307.2,635.0 307.8,635.0 308.5,635.0 309.1,635.1 309.8,635.1 310.4,635.1 311.0,635.1 311.7,635.2 312.3,635.2 313.0,635.2 313.6,635.3 314.2,635.3 314.9,635.4 315.5,635.4 316.1,635.4 316.8,635.5 317.4,635.5 318.1,635.5 318.7,635.6 319.3,635.6 320.0,635.7 320.6,635.7 321.3,635.7 321.9,635.8 322.5,635.8 323.2,635.9 323.8,635.9 324.4,636.0 325.1,636.0 325.7,636.1 326.4,636.1 327.0,636.1 327.6,636.2 328.3,636.2 328.9,636.3 329.6,636.3 330.2,636.4 330.8,636.4 331.5,636.5 332.1,636.5 332.7,636.6 333.4,636.6 334.0,636.7 334.7,636.7 335.3,636.8 335.9,636.8 336.6,636.9 337.2,636.9 337.9,637.0 338.5,637.0 339.1,637.1 339.8,637.1 340.4,637.2 341.0,637.2 341.7,637.3 342.3,637.3 343.0,637.3 343.6,637.4 344.2,637.4 344.9,637.5 345.5,637.5 346.2,637.6 346.8,637.6 347.4,637.7 348.1,637.7 348.7,637.8 349.3,637.8 350.0,637.9 350.6,637.9 351.3,638.0 351.9,638.0 352.5,638.1 353.2,638.1 353.8,638.2 354.5,638.2 355.1,638.3 355.7,638.3 356.4,638.4 357.0,638.4 357.6,638.5 358.3,638.5 358.9,638.6 359.6,638.6 360.2,638.6 360.8,638.7 361.5,638.7 362.1,638.8 362.8,638.8 363.4,638.9 364.0,638.9 364.7,639.0 365.3,639.0 365.9,639.1 366.6,639.1 367.2,639.2 367.9,639.2 368.5,639.3 369.1,639.3 369.8,639.4 370.4,639.5 371.1,639.5 371.7,639.6 372.3,639.6 373.0,639.7 373.6,639.7 374.2,639.8 374.9,639.8 375.5,639.9 376.2,639.9 376.8,640.0" fill="none" stroke="#008000" stroke-width="1.1" stroke-linejoin="round"/>
<polyline points="58.2,411.3 58.8,411.3 59.5,411.3 60.1,411.3 60.8,411.3 61.4,411.3 62.0,411.3 62.7,411.3 63.3,411.3 63.9,411.3 64.6,411.3 65.2,411.3 65.9,411.3 66.5,411.3 67.1,411.3 67.8,411.3 68.4,411.3 69.1,411.3 69.7,411.3 70.3,411.3 71.0,411.3 71.6,411.3 72.2,411.3 72.9,411.3 73.5,411.3 74.2,411.3 74.8,411.3 75.4,411.3 76.1,411.3 76.7,411.3 77.4,411.3 78.0,411.3 78.6,411.3 79.3,411.3 79.9,411.3 80.5,411.3 81.2,411.3 81.8,411.3 82.5,411.3 83.1,411.3 83.7,411.3 84.4,411.3 85.0,411.3 85.7,411.3 86.3,411.3 86.9,411.3 87.6,411.3 88.2,411.3 88.8,411.3 89.5,411.3 90.1,411.3 90.8,411.3 91.4,411.3 92.0,411.3 92.7,411.3 93.3,411.3 94.0,411.3 94.6,411.3 95.2,411.3 95.9,411.3 96.5,411.3 97.1,411.3 97.8,411.3 98.4,411.3 99.1,411.3 99.7,411.3 100.3,411.4 101.0,411.4 101.6,411.4 102.3,411.4 102.9,411.4 103.5,411.4 104.2,411.4 104.8,411.4 105.4,411.4 106.1,411.4 106.7,411.4 107.4,411.4 108.0,411.4 108.6,411.4 109.3,411.4 109.9,411.4 110.6,411.4 111.2,411.4 111.8,411.4 112.5,411.4 113.1,411.4 113.7,411.4 114.4,411.4 115.0,411.4 115.7,411.4 116.3,411.4 116.9,411.4 117.6,411.4 118.2,411.4 118.9,411.4 119.5,411.4 120.1,411.4 120.8,411.4 121.4,411.4 122.0,411.4 122.7,411.5 123.3,411.5 124.0,411.5 124.6,411.5 125.2,411.5 125.9,411.5 126.5,411.5 127.2,411.5 127.8,411.5 128.4,411.5 129.1,411.5 129.7,411.5 130.3,411.5 131.0,411.5 131.6,411.5 132.3,411.5 132.9,411.5 133.5,411.5 134.2,411.5 134.8,411.5 135.5,411.5 136.1,411.5 136.7,411.5 137.4,411.5 138.0,411.5 138.6,411.5 139.3,411.6 139.9,411.6 140.6,411.6 141.2,411.6 141.8,411.6 142.5,411.6 143.1,411.6 143.8,411.6 144.4,411.6 145.0,411.6 145.7,411.6 146.3,411.6 146.9,411.6 147.6,411.6 148.2,411.6 148.9,411.6 149.5,411.6 150.1,411.6 150.8,411.6 151.4,411.6 152.1,411.7 152.7,411.7 153.3,411.7 154.0,411.7 154.6,411.7 155.2,411.7 155.9,411.7 156.5,411.7 157.2,411.7 157.8,411.7 158.4,411.7 159.1,411.7 159.7,411.7 160.4,411.7 161.0,411.7 161.6,411.7 162.3,411.7 162.9,411.7 163.5,411.8 164.2,411.8 164.8,411.8 165.5,411.8 166.1,411.8 166.7,411.8 167.4,411.8 168.0,411.8 168.7,411.8 169.3,411.8 169.9,411.8 170.6,411.8 171.2,411.8 171.8,411.8 172.5,411.8 173.1,411.8 173.8,411.9 174.4,411.9 175.0,411.9 175.7,411.9 176.3,411.9 177.0,411.9 177.6,411.9 178.2,411.9 178.9,411.9 179.5,411.9 180.1,411.9 180.8,411.9 181.4,411.9 182.1,411.9 182.7,411.9 183.3,412.0 184.0,412.0 184.6,412.0 185.3,412.0 185.9,412.0 186.5,412.0 187.2,412.0 187.8,412.0 188.4,412.0 189.1,412.0 189.7,412.0 190.4,412.0 191.0,412.0 191.6,412.1 192.3,412.1 192.9,412.1 193.6,412.1 194.2,412.1 194.8,412.1 195.5,412.1 196.1,412.1 196.7,412.1 197.4,412.1 198.0,412.1 198.7,412.1 199.3,412.1 199.9,412.2 200.6,412.2 201.2,412.2 201.9,412.2 202.5,412.2 203.1,412.2 203.8,412.2 204.4,412.2 205.0,412.2 205.7,412.2 206.3,412.2 207.0,412.2 207.6,412.3 208.2,412.3 208.9,412.3 209.5,412.3 210.2,412.3 210.8,412.3 211.4,412.3 212.1,412.3 212.7,412.3 213.3,412.3 214.0,412.3 214.6,412.4 215.3,412.4 215.9,412.4 216.5,412.4 217.2,412.4 217.8,412.4 218.5,412.4 219.1,412.4 219.7,412.4 220.4,412.4 221.0,412.5 221.7,412.5 222.3,412.5 222.9,412.5 223.6,412.5 224.2,412.5 224.8,412.5 225.5,412.6 226.1,412.6 226.8,412.6 227.4,412.6 228.0,412.6 228.7,412.7 229.3,412.7 230.0,412.7 230.6,412.7 231.2,412.7 231.9,412.8 232.5,412.8 233.1,412.8 233.8,412.8 234.4,412.9 235.1,412.9 235.7,412.9 236.3,413.0 237.0,413.0 237.6,413.0 238.3,413.1 238.9,413.1 239.5,413.1 240.2,413.2 240.8,413.2 241.4,413.2 242.1,413.3 242.7,413.3 243.4,413.4 244.0,413.4 244.6,413.5 245.3,413.5 245.9,413.5 246.6,413.6 247.2,413.6 247.8,413.7 248.5,413.8 249.1,413.8 249.7,413.9 250.4,413.9 251.0,414.0 251.7,414.0 252.3,414.1 252.9,414.2 253.6,414.2 254.2,414.3 254.9,414.4 255.5,414.4 256.1,414.5 256.8,414.6 257.4,414.7 258.0,414.7 258.7,414.9 259.3,415.0 260.0,415.2 260.6,415.4 261.2,415.6 261.9,415.9 262.5,416.2 263.2,416.5 263.8,416.8 264.4,417.1 265.1,417.5 265.7,417.9 266.3,418.3 267.0,418.7 267.6,419.1 268.3,419.5 268.9,420.0 269.5,420.4 270.2,421.0 270.8,421.6 271.5,422.3 272.1,423.0 272.7,423.8 273.4,424.8 274.0,425.8 274.6,426.8 275.3,428.0 275.9,429.3 276.6,430.8 277.2,432.4 277.8,434.3 278.5,436.4 279.1,438.8 279.8,441.6 280.4,444.7 281.0,448.2 281.7,452.4 282.3,459.1 282.9,467.8 283.6,477.8 284.2,488.0 284.9,498.2 285.5,509.5 286.1,521.4 286.8,533.6 287.4,545.4 288.1,557.9 288.7,571.1 289.3,583.0 290.0,591.6 290.6,597.6 291.2,603.0 291.9,607.6 292.5,611.3 293.2,613.7 293.8,614.9 294.4,615.8 295.1,616.7 295.7,617.4 296.4,618.0 297.0,618.5 297.6,618.9 298.3,619.2 298.9,619.5 299.5,619.6 300.2,619.6 300.8,619.7 301.5,619.7 302.1,619.8 302.7,619.8 303.4,619.9 304.0,619.9 304.7,619.9 305.3,619.9 305.9,620.0 306.6,620.0 307.2,620.0 307.8,620.0 308.5,620.1 309.1,620.1 309.8,620.1 310.4,620.1 311.0,620.1 311.7,620.1 312.3,620.2 313.0,620.2 313.6,620.2 314.2,620.2 314.9,620.2 315.5,620.2 316.1,620.3 316.8,620.3 317.4,620.3 318.1,620.3 318.7,620.3 319.3,620.4 320.0,620.4 320.6,620.4 321.3,620.5 321.9,620.5 322.5,620.5 323.2,620.6 323.8,620.6 324.4,620.7 325.1,620.7 325.7,620.8 326.4,620.8 327.0,620.9 327.6,620.9 328.3,621.0 328.9,621.0 329.6,621.1 330.2,621.1 330.8,621.2 331.5,621.2 332.1,621.3 332.7,621.4 333.4,621.4 334.0,621.5 334.7,621.5 335.3,621.6 335.9,621.7 336.6,621.7 337.2,621.8 337.9,621.9 338.5,621.9 339.1,622.0 339.8,622.1 340.4,622.2 341.0,622.2 341.7,622.3 342.3,622.4 343.0,622.5 343.6,622.5 344.2,622.6 344.9,622.7 345.5,622.8 346.2,622.9 346.8,622.9 347.4,623.0 348.1,623.1 348.7,623.2 349.3,623.3 350.0,623.4 350.6,623.5 351.3,623.6 351.9,623.7 352.5,623.8 353.2,623.9 353.8,624.0 354.5,624.1 355.1,624.3 355.7,624.4 356.4,624.5 357.0,624.6 357.6,624.7 358.3,624.9 358.9,625.0 359.6,625.1 360.2,625.2 360.8,625.4 361.5,625.5 362.1,625.7 362.8,625.8 363.4,626.0 364.0,626.1 364.7,626.3 365.3,626.4 365.9,626.6 366.6,626.8 367.2,626.9 367.9,627.1 368.5,627.3 369.1,627.5 369.8,627.7 370.4,627.8 371.1,628.0 371.7,628.2 372.3,628.4 373.0,628.6 373.6,628.8 374.2,629.0 374.9,629.2 375.5,629.4 376.2,629.7 376.8,629.9" fill="none" stroke="#008000" stroke-width="1.1" stroke-linejoin="round"/>
<polyline points="58.2,415.1 58.8,415.1 59.5,415.1 60.1,415.1 60.8,415.1 61.4,415.1 62.0,415.1 62.7,415.1 63.3,415.1 63.9,415.1 64.6,415.1 65.2,415.1 65.9,415.1 66.5,415.1 67.1,415.1 67.8,415.2 68.4,415.2 69.1,415.2 69.7,415.2 70.3,415.2 71.0,415.2 71.6,415.2 72.2,415.2 72.9,415.2 73.5,415.2 74.2,415.3 74.8,415.3 75.4,415.3 76.1,415.3 76.7,415.3 77.4,415.3 78.0,415.3 78.6,415.4 79.3,415.4 79.9,415.4 80.5,415.4 81.2,415.4 81.8,415.4 82.5,415.5 83.1,415.5 83.7,415.5 84.4,415.5 85.0,415.5 85.7,415.6 86.3,415.6 86.9,415.6 87.6,415.6 88.2,415.6 88.8,415.7 89.5,415.7 90.1,415.7 90.8,415.7 91.4,415.8 92.0,415.8 92.7,415.8 93.3,415.8 94.0,415.9 94.6,415.9 95.2,415.9 95.9,415.9 96.5,416.0 97.1,416.0 97.8,416.0 98.4,416.1 99.1,416.1 99.7,416.1 100.3,416.1 101.0,416.2 101.6,416.2 102.3,416.2 102.9,416.3 103.5,416.3 104.2,416.3 104.8,416.4 105.4,416.4 106.1,416.4 106.7,416.5 107.4,416.5 108.0,416.5 108.6,416.6 109.3,416.6 109.9,416.6 110.6,416.7 111.2,416.7 111.8,416.7 112.5,416.8 113.1,416.8 113.7,416.8 114.4,416.9 115.0,416.9 115.7,417.0 116.3,417.0 116.9,417.0 117.6,417.1 118.2,417.1 118.9,417.1 119.5,417.2 120.1,417.2 120.8,417.3 121.4,417.3 122.0,417.3 122.7,417.4 123.3,417.4 124.0,417.5 124.6,417.5 125.2,417.6 125.9,417.6 126.5,417.7 127.2,417.8 127.8,417.8 128.4,417.9 129.1,418.0 129.7,418.0 130.3,418.1 131.0,418.2 131.6,418.3 132.3,418.4 132.9,418.5 133.5,418.6 134.2,418.6 134.8,418.7 135.5,418.9 136.1,419.0 136.7,419.1 137.4,419.2 138.0,419.3 138.6,419.4 139.3,419.5 139.9,419.6 140.6,419.8 141.2,419.9 141.8,420.0 142.5,420.2 143.1,420.3 143.8,420.4 144.4,420.6 145.0,420.7 145.7,420.9 146.3,421.0 146.9,421.2 147.6,421.4 148.2,421.6 148.9,421.8 149.5,422.0 150.1,422.2 150.8,422.5 151.4,422.7 152.1,423.0 152.7,423.3 153.3,423.6 154.0,423.9 154.6,424.2 155.2,424.6 155.9,424.9 156.5,425.3 157.2,425.7 157.8,426.0 158.4,426.5 159.1,426.9 159.7,427.3 160.4,427.8 161.0,428.2 161.6,428.7 162.3,429.3 162.9,429.8 163.5,430.5 164.2,431.2 164.8,432.0 165.5,433.0 166.1,434.1 166.7,435.4 167.4,437.1 168.0,440.0 168.7,443.9 169.3,448.4 169.9,453.2 170.6,457.7 171.2,461.7 171.8,465.8 172.5,470.6 173.1,477.0 173.8,489.7 174.4,511.7 175.0,536.4 175.7,557.0 176.3,567.8 177.0,574.5 177.6,579.9 178.2,584.4 178.9,588.4 179.5,592.3 180.1,596.3 180.8,600.3 181.4,604.3 182.1,608.1 182.7,611.7 183.3,614.8 184.0,617.6 184.6,619.8 185.3,621.4 185.9,622.3 186.5,623.1 187.2,623.7 187.8,624.2 188.4,624.7 189.1,625.1 189.7,625.5 190.4,625.8 191.0,626.1 191.6,626.4 192.3,626.7 192.9,627.0 193.6,627.2 194.2,627.5 194.8,627.7 195.5,627.9 196.1,628.1 196.7,628.3 197.4,628.5 198.0,628.7 198.7,628.8 199.3,629.0 199.9,629.1 200.6,629.2 201.2,629.4 201.9,629.5 202.5,629.6 203.1,629.7 203.8,629.8 204.4,629.9 205.0,630.0 205.7,630.1 206.3,630.1 207.0,630.2 207.6,630.3 208.2,630.4 208.9,630.5 209.5,630.5 210.2,630.6 210.8,630.7 211.4,630.7 212.1,630.8 212.7,630.9 213.3,630.9 214.0,631.0 214.6,631.0 215.3,631.1 215.9,631.1 216.5,631.2 217.2,631.2 217.8,631.2 218.5,631.3 219.1,631.3 219.7,631.4 220.4,631.4 221.0,631.4 221.7,631.5 222.3,631.5 222.9,631.5 223.6,631.6 224.2,631.6 224.8,631.6 225.5,631.7 226.1,631.7 226.8,631.7 227.4,631.7 228.0,631.8 228.7,631.8 229.3,631.8 230.0,631.8 230.6,631.9 231.2,631.9 231.9,631.9 232.5,631.9 233.1,632.0 233.8,632.0 234.4,632.0 235.1,632.0 235.7,632.1 236.3,632.1 237.0,632.1 237.6,632.1 238.3,632.2 238.9,632.2 239.5,632.2 240.2,632.2 240.8,632.2 241.4,632.3 242.1,632.3 242.7,632.3 243.4,632.3 244.0,632.4 244.6,632.4 245.3,632.4 245.9,632.4 246.6,632.5 247.2,632.5 247.8,632.5 248.5,632.5 249.1,632.6 249.7,632.6 250.4,632.6 251.0,632.6 251.7,632.7 252.3,632.7 252.9,632.7 253.6,632.7 254.2,632.8 254.9,632.8 255.5,632.8 256.1,632.9 256.8,632.9 257.4,632.9 258.0,632.9 258.7,633.0 259.3,633.0 260.0,633.0 260.6,633.0 261.2,633.1 261.9,633.1 262.5,633.1 263.2,633.1 263.8,633.2 264.4,633.2 265.1,633.2 265.7,633.3 266.3,633.3 267.0,633.3 267.6,633.3 268.3,633.4 268.9,633.4 269.5,633.4 270.2,633.4 270.8,633.5 271.5,633.5 272.1,633.5 272.7,633.6 273.4,633.6 274.0,633.6 274.6,633.6 275.3,633.7 275.9,633.7 276.6,633.7 277.2,633.7 277.8,633.8 278.5,633.8 279.1,633.8 279.8,633.8 280.4,633.9 281.0,633.9 281.7,633.9 282.3,634.0 282.9,634.0 283.6,634.0 284.2,634.0 284.9,634.1 285.5,634.1 286.1,634.1 286.8,634.1 287.4,634.2 288.1,634.2 288.7,634.2 289.3,634.2 290.0,634.3 290.6,634.3 291.2,634.3 291.9,634.3 292.5,634.4 293.2,634.4 293.8,634.4 294.4,634.4 295.1,634.5 295.7,634.5 296.4,634.5 297.0,634.5 297.6,634.6 298.3,634.6 298.9,634.6 299.5,634.6 300.2,634.7 300.8,634.7 301.5,634.7 302.1,634.7 302.7,634.8 303.4,634.8 304.0,634.8 304.7,634.9 305.3,634.9 305.9,634.9 306.6,634.9 307.2,635.0 307.8,635.0 308.5,635.0 309.1,635.1 309.8,635.1 310.4,635.1 311.0,635.1 311.7,635.2 312.3,635.2 313.0,635.2 313.6,635.3 314.2,635.3 314.9,635.4 315.5,635.4 316.1,635.4 316.8,635.5 317.4,635.5 318.1,635.5 318.7,635.6 319.3,635.6 320.0,635.7 320.6,635.7 321.3,635.7 321.9,635.8 322.5,635.8 323.2,635.9 323.8,635.9 324.4,636.0 325.1,636.0 325.7,636.1 326.4,636.1 327.0,636.1 327.6,636.2 328.3,636.2 328.9,636.3 329.6,636.3 330.2,636.4 330.8,636.4 331.5,636.5 332.1,636.5 332.7,636.6 333.4,636.6 334.0,636.7 334.7,636.7 335.3,636.8 335.9,636.8 336.6,636.9 337.2,636.9 337.9,637.0 338.5,637.0 339.1,637.1 339.8,637.1 340.4,637.2 341.0,637.2 341.7,637.3 342.3,637.3 343.0,637.3 343.6,637.4 344.2,637.4 344.9,637.5 345.5,637.5 346.2,637.6 346.8,637.6 347.4,637.7 348.1,637.7 348.7,637.8 349.3,637.8 350.0,637.9 350.6,637.9 351.3,638.0 351.9,638.0 352.5,638.1 353.2,638.1 353.8,638.2 354.5,638.2 355.1,638.3 355.7,638.3 356.4,638.4 357.0,638.4 357.6,638.5 358.3,638.5 358.9,638.6 359.6,638.6 360.2,638.6 360.8,638.7 361.5,638.7 362.1,638.8 362.8,638.8 363.4,638.9 364.0,638.9 364.7,639.0 365.3,639.0 365.9,639.1 366.6,639.1 367.2,639.2 367.9,639.2 368.5,639.3 369.1,639.3 369.8,639.4 370.4,639.5 371.1,639.5 371.7,639.6 372.3,639.6 373.0,639.7 373.6,639.7 374.2,639.8 374.9,639.8 375.5,639.9 376.2,639.9 376.8,640.0" fill="none" stroke="#008000" stroke-width="1.1" stroke-linejoin="round"/>
<polyline points="58.2,411.3 58.8,411.3 59.5,411.3 60.1,411.3 60.8,411.3 61.4,411.3 62.0,411.3 62.7,411.3 63.3,411.3 63.9,411.3 64.6,411.3 65.2,411.3 65.9,411.3 66.5,411.3 67.1,411.3 67.8,411.3 68.4,411.3 69.1,411.3 69.7,411.3 70.3,411.3 71.0,411.3 71.6,411.3 72.2,411.3 72.9,411.3 73.5,411.3 74.2,411.3 74.8,411.3 75.4,411.3 76.1,411.3 76.7,411.3 77.4,411.3 78.0,411.3 78.6,411.3 79.3,411.3 79.9,411.3 80.5,411.3 81.2,411.3 81.8,411.3 82.5,411.3 83.1,411.3 83.7,411.3 84.4,411.3 85.0,411.3 85.7,411.3 86.3,411.3 86.9,411.3 87.6,411.3 88.2,411.3 88.8,411.3 89.5,411.3 90.1,411.3 90.8,411.3 91.4,411.3 92.0,411.3 92.7,411.3 93.3,411.3 94.0,411.3 94.6,411.3 95.2,411.3 95.9,411.3 96.5,411.3 97.1,411.3 97.8,411.3 98.4,411.3 99.1,411.3 99.7,411.3 100.3,411.4 101.0,411.4 101.6,411.4 102.3,411.4 102.9,411.4 103.5,411.4 104.2,411.4 104.8,411.4 105.4,411.4 106.1,411.4 106.7,411.4 107.4,411.4 108.0,411.4 108.6,411.4 109.3,411.4 109.9,411.4 110.6,411.4 111.2,411.4 111.8,411.4 112.5,411.4 113.1,411.4 113.7,411.4 114.4,411.4 115.0,411.4 115.7,411.4 116.3,411.4 116.9,411.4 117.6,411.4 118.2,411.4 118.9,411.4 119.5,411.4 120.1,411.4 120.8,411.4 121.4,411.4 122.0,411.4 122.7,411.5 123.3,411.5 124.0,411.5 124.6,411.5 125.2,411.5 125.9,411.5 126.5,411.5 127.2,411.5 127.8,411.5 128.4,411.5 129.1,411.5 129.7,411.5 130.3,411.5 131.0,411.5 131.6,411.5 132.3,411.5 132.9,411.5 133.5,411.5 134.2,411.5 134.8,411.5 135.5,411.5 136.1,411.5 136.7,411.5 137.4,411.5 138.0,411.5 138.6,411.5 139.3,411.6 139.9,411.6 140.6,411.6 141.2,411.6 141.8,411.6 142.5,411.6 143.1,411.6 143.8,411.6 144.4,411.6 145.0,411.6 145.7,411.6 146.3,411.6 146.9,411.6 147.6,411.6 148.2,411.6 148.9,411.6 149.5,411.6 150.1,411.6 150.8,411.6 151.4,411.6 152.1,411.7 152.7,411.7 153.3,411.7 154.0,411.7 154.6,411.7 155.2,411.7 155.9,411.7 156.5,411.7 157.2,411.7 157.8,411.7 158.4,411.7 159.1,411.7 159.7,411.7 160.4,411.7 161.0,411.7 161.6,411.7 162.3,411.7 162.9,411.7 163.5,411.8 164.2,411.8 164.8,411.8 165.5,411.8 166.1,411.8 166.7,411.8 167.4,411.8 168.0,411.8 168.7,411.8 169.3,411.8 169.9,411.8 170.6,411.8 171.2,411.8 171.8,411.8 172.5,411.8 173.1,411.8 173.8,411.9 174.4,411.9 175.0,411.9 175.7,411.9 176.3,411.9 177.0,411.9 177.6,411.9 178.2,411.9 178.9,411.9 179.5,411.9 180.1,411.9 180.8,411.9 181.4,411.9 182.1,411.9 182.7,411.9 183.3,412.0 184.0,412.0 184.6,412.0 185.3,412.0 185.9,412.0 186.5,412.0 187.2,412.0 187.8,412.0 188.4,412.0 189.1,412.0 189.7,412.0 190.4,412.0 191.0,412.0 191.6,412.1 192.3,412.1 192.9,412.1 193.6,412.1 194.2,412.1 194.8,412.1 195.5,412.1 196.1,412.1 196.7,412.1 197.4,412.1 198.0,412.1 198.7,412.1 199.3,412.1 199.9,412.2 200.6,412.2 201.2,412.2 201.9,412.2 202.5,412.2 203.1,412.2 203.8,412.2 204.4,412.2 205.0,412.2 205.7,412.2 206.3,412.2 207.0,412.2 207.6,412.3 208.2,412.3 208.9,412.3 209.5,412.3 210.2,412.3 210.8,412.3 211.4,412.3 212.1,412.3 212.7,412.3 213.3,412.3 214.0,412.3 214.6,412.4 215.3,412.4 215.9,412.4 216.5,412.4 217.2,412.4 217.8,412.4 218.5,412.4 219.1,412.4 219.7,412.4 220.4,412.4 221.0,412.5 221.7,412.5 222.3,412.5 222.9,412.5 223.6,412.5 224.2,412.5 224.8,412.5 225.5,412.6 226.1,412.6 226.8,412.6 227.4,412.6 228.0,412.6 228.7,412.7 229.3,412.7 230.0,412.7 230.6,412.7 231.2,412.7 231.9,412.8 232.5,412.8 233.1,412.8 233.8,412.8 234.4,412.9 235.1,412.9 235.7,412.9 236.3,413.0 237.0,413.0 237.6,413.0 238.3,413.1 238.9,413.1 239.5,413.1 240.2,413.2 240.8,413.2 241.4,413.2 242.1,413.3 242.7,413.3 243.4,413.4 244.0,413.4 244.6,413.5 245.3,413.5 245.9,413.5 246.6,413.6 247.2,413.6 247.8,413.7 248.5,413.8 249.1,413.8 249.7,413.9 250.4,413.9 251.0,414.0 251.7,414.0 252.3,414.1 252.9,414.2 253.6,414.2 254.2,414.3 254.9,414.4 255.5,414.4 256.1,414.5 256.8,414.6 257.4,414.7 258.0,414.7 258.7,414.9 259.3,415.0 260.0,415.2 260.6,415.4 261.2,415.6 261.9,415.9 262.5,416.2 263.2,416.5 263.8,416.8 264.4,417.1 265.1,417.5 265.7,417.9 266.3,418.3 267.0,418.7 267.6,419.1 268.3,419.5 268.9,420.0 269.5,420.4 270.2,421.0 270.8,421.6 271.5,422.3 272.1,423.0 272.7,423.8 273.4,424.8 274.0,425.8 274.6,426.8 275.3,428.0 275.9,429.3 276.6,430.8 277.2,432.4 277.8,434.3 278.5,436.4 279.1,438.8 279.8,441.6 280.4,444.7 281.0,448.2 281.7,452.4 282.3,459.1 282.9,467.8 283.6,477.8 284.2,488.0 284.9,498.2 285.5,509.5 286.1,521.4 286.8,533.6 287.4,545.4 288.1,557.9 288.7,571.1 289.3,583.0 290.0,591.6 290.6,597.6 291.2,603.0 291.9,607.6 292.5,611.3 293.2,613.7 293.8,614.9 294.4,615.8 295.1,616.7 295.7,617.4 296.4,618.0 297.0,618.5 297.6,618.9 298.3,619.2 298.9,619.5 299.5,619.6 300.2,619.6 300.8,619.7 301.5,619.7 302.1,619.8 302.7,619.8 303.4,619.9 304.0,619.9 304.7,619.9 305.3,619.9 305.9,620.0 306.6,620.0 307.2,620.0 307.8,620.0 308.5,620.1 309.1,620.1 309.8,620.1 310.4,620.1 311.0,620.1 311.7,620.1 312.3,620.2 313.0,620.2 313.6,620.2 314.2,620.2 314.9,620.2 315.5,620.2 316.1,620.3 316.8,620.3 317.4,620.3 318.1,620.3 318.7,620.3 319.3,620.4 320.0,620.4 320.6,620.4 321.3,620.5 321.9,620.5 322.5,620.5 323.2,620.6 323.8,620.6 324.4,620.7 325.1,620.7 325.7,620.8 326.4,620.8 327.0,620.9 327.6,620.9 328.3,621.0 328.9,621.0 329.6,621.1 330.2,621.1 330.8,621.2 331.5,621.2 332.1,621.3 332.7,621.4 333.4,621.4 334.0,621.5 334.7,621.5 335.3,621.6 335.9,621.7 336.6,621.7 337.2,621.8 337.9,621.9 338.5,621.9 339.1,622.0 339.8,622.1 340.4,622.2 341.0,622.2 341.7,622.3 342.3,622.4 343.0,622.5 343.6,622.5 344.2,622.6 344.9,622.7 345.5,622.8 346.2,622.9 346.8,622.9 347.4,623.0 348.1,623.1 348.7,623.2 349.3,623.3 350.0,623.4 350.6,623.5 351.3,623.6 351.9,623.7 352.5,623.8 353.2,623.9 353.8,624.0 354.5,624.1 355.1,624.3 355.7,624.4 356.4,624.5 357.0,624.6 357.6,624.7 358.3,624.9 358.9,625.0 359.6,625.1 360.2,625.2 360.8,625.4 361.5,625.5 362.1,625.7 362.8,625.8 363.4,626.0 364.0,626.1 364.7,626.3 365.3,626.4 365.9,626.6 366.6,626.8 367.2,626.9 367.9,627.1 368.5,627.3 369.1,627.5 369.8,627.7 370.4,627.8 371.1,628.0 371.7,628.2 372.3,628.4 373.0,628.6 373.6,628.8 374.2,629.0 374.9,629.2 375.5,629.4 376.2,629.7 376.8,629.9" fill="none" stroke="#008000" stroke-width="1.1" stroke-linejoin="round"/>
<polyline points="58.2,415.1 58.8,415.1 59.5,415.1 60.1,415.1 60.8,415.1 61.4,415.1 62.0,415.1 62.7,415.1 63.3,415.1 63.9,415.1 64.6,415.1 65.2,415.1 65.9,415.1 66.5,415.1 67.1,415.1 67.8,415.2 68.4,415.2 69.1,415.2 69.7,415.2 70.3,415.2 71.0,415.2 71.6,415.2 72.2,415.2 72.9,415.2 73.5,415.2 74.2,415.3 74.8,415.3 75.4,415.3 76.1,415.3 76.7,415.3 77.4,415.3 78.0,415.3 78.6,415.4 79.3,415.4 79.9,415.4 80.5,415.4 81.2,415.4 81.8,415.4 82.5,415.5 83.1,415.5 83.7,415.5 84.4,415.5 85.0,415.5 85.7,415.6 86.3,415.6 86.9,415.6 87.6,415.6 88.2,415.6 88.8,415.7 89.5,415.7 90.1,415.7 90.8,415.7 91.4,415.8 92.0,415.8 92.7,415.8 93.3,415.8 94.0,415.9 94.6,415.9 95.2,415.9 95.9,415.9 96.5,416.0 97.1,416.0 97.8,416.0 98.4,416.1 99.1,416.1 99.7,416.1 100.3,416.1 101.0,416.2 101.6,416.2 102.3,416.2 102.9,416.3 103.5,416.3 104.2,416.3 104.8,416.4 105.4,416.4 106.1,416.4 106.7,416.5 107.4,416.5 108.0,416.5 108.6,416.6 109.3,416.6 109.9,416.6 110.6,416.7 111.2,416.7 111.8,416.7 112.5,416.8 113.1,416.8 113.7,416.8 114.4,416.9 115.0,416.9 115.7,417.0 116.3,417.0 116.9,417.0 117.6,417.1 118.2,417.1 118.9,417.1 119.5,417.2 120.1,417.2 120.8,417.3 121.4,417.3 122.0,417.3 122.7,417.4 123.3,417.4 124.0,417.5 124.6,417.5 125.2,417.6 125.9,417.6 126.5,417.7 127.2,417.8 127.8,417.8 128.4,417.9 129.1,418.0 129.7,418.0 130.3,418.1 131.0,418.2 131.6,418.3 132.3,418.4 132.9,418.5 133.5,418.6 134.2,418.6 134.8,418.7 135.5,418.9 136.1,419.0 136.7,419.1 137.4,419.2 138.0,419.3 138.6,419.4 139.3,419.5 139.9,419.6 140.6,419.8 141.2,419.9 141.8,420.0 142.5,420.2 143.1,420.3 143.8,420.4 144.4,420.6 145.0,420.7 145.7,420.9 146.3,421.0 146.9,421.2 147.6,421.4 148.2,421.6 148.9,421.8 149.5,422.0 150.1,422.2 150.8,422.4 151.4,422.7 152.1,422.9 152.7,423.2 153.3,423.5 154.0,423.8 154.6,424.1 155.2,424.4 155.9,424.8 156.5,425.1 157.2,425.5 157.8,425.9 158.4,426.4 159.1,426.8 159.7,427.3 160.4,427.8 161.0,428.3 161.6,428.8 162.3,429.5 162.9,430.3 163.5,431.2 164.2,432.2 164.8,433.3 165.5,434.6 166.1,436.0 166.7,437.5 167.4,439.3 168.0,441.6 168.7,444.6 169.3,448.3 169.9,452.7 170.6,457.8 171.2,465.7 171.8,476.7 172.5,489.2 173.1,502.0 173.8,515.1 174.4,529.9 175.0,544.8 175.7,558.1 176.3,568.3 177.0,577.4 177.6,585.8 178.2,593.1 178.9,598.9 179.5,603.0 180.1,606.1 180.8,609.0 181.4,611.6 182.1,613.9 182.7,615.9 183.3,617.7 184.0,619.2 184.6,620.5 185.3,621.5 185.9,622.3 186.5,623.0 187.2,623.6 187.8,624.1 188.4,624.6 189.1,625.1 189.7,625.5 190.4,625.8 191.0,626.1 191.6,626.4 192.3,626.7 192.9,627.0 193.6,627.2 194.2,627.5 194.8,627.7 195.5,627.9 196.1,628.1 196.7,628.3 197.4,628.5 198.0,628.7 198.7,628.8 199.3,629.0 199.9,629.1 200.6,629.2 201.2,629.4 201.9,629.5 202.5,629.6 203.1,629.7 203.8,629.8 204.4,629.9 205.0,630.0 205.7,630.1 206.3,630.1 207.0,630.2 207.6,630.3 208.2,630.4 208.9,630.5 209.5,630.5 210.2,630.6 210.8,630.7 211.4,630.7 212.1,630.8 212.7,630.9 213.3,630.9 214.0,631.0 214.6,631.0 215.3,631.1 215.9,631.1 216.5,631.2 217.2,631.2 217.8,631.2 218.5,631.3 219.1,631.3 219.7,631.4 220.4,631.4 221.0,631.4 221.7,631.5 222.3,631.5 222.9,631.5 223.6,631.6 224.2,631.6 224.8,631.6 225.5,631.7 226.1,631.7 226.8,631.7 227.4,631.7 228.0,631.8 228.7,631.8 229.3,631.8 230.0,631.8 230.6,631.9 231.2,631.9 231.9,631.9 232.5,631.9 233.1,632.0 233.8,632.0 234.4,632.0 235.1,632.0 235.7,632.1 236.3,632.1 237.0,632.1 237.6,632.1 238.3,632.2 238.9,632.2 239.5,632.2 240.2,632.2 240.8,632.2 241.4,632.3 242.1,632.3 242.7,632.3 243.4,632.3 244.0,632.4 244.6,632.4 245.3,632.4 245.9,632.4 246.6,632.5 247.2,632.5 247.8,632.5 248.5,632.5 249.1,632.6 249.7,632.6 250.4,632.6 251.0,632.6 251.7,632.7 252.3,632.7 252.9,632.7 253.6,632.7 254.2,632.8 254.9,632.8 255.5,632.8 256.1,632.9 256.8,632.9 257.4,632.9 258.0,632.9 258.7,633.0 259.3,633.0 260.0,633.0 260.6,633.0 261.2,633.1 261.9,633.1 262.5,633.1 263.2,633.1 263.8,633.2 264.4,633.2 265.1,633.2 265.7,633.3 266.3,633.3 267.0,633.3 267.6,633.3 268.3,633.4 268.9,633.4 269.5,633.4 270.2,633.4 270.8,633.5 271.5,633.5 272.1,633.5 272.7,633.6 273.4,633.6 274.0,633.6 274.6,633.6 275.3,633.7 275.9,633.7 276.6,633.7 277.2,633.7 277.8,633.8 278.5,633.8 279.1,633.8 279.8,633.8 280.4,633.9 281.0,633.9 281.7,633.9 282.3,634.0 282.9,634.0 283.6,634.0 284.2,634.0 284.9,634.1 285.5,634.1 286.1,634.1 286.8,634.1 287.4,634.2 288.1,634.2 288.7,634.2 289.3,634.2 290.0,634.3 290.6,634.3 291.2,634.3 291.9,634.3 292.5,634.4 293.2,634.4 293.8,634.4 294.4,634.4 295.1,634.5 295.7,634.5 296.4,634.5 297.0,634.5 297.6,634.6 298.3,634.6 298.9,634.6 299.5,634.6 300.2,634.7 300.8,634.7 301.5,634.7 302.1,634.7 302.7,634.8 303.4,634.8 304.0,634.8 304.7,634.9 305.3,634.9 305.9,634.9 306.6,634.9 307.2,635.0 307.8,635.0 308.5,635.0 309.1,635.1 309.8,635.1 310.4,635.1 311.0,635.1 311.7,635.2 312.3,635.2 313.0,635.2 313.6,635.3 314.2,635.3 314.9,635.4 315.5,635.4 316.1,635.4 316.8,635.5 317.4,635.5 318.1,635.5 318.7,635.6 319.3,635.6 320.0,635.7 320.6,635.7 321.3,635.7 321.9,635.8 322.5,635.8 323.2,635.9 323.8,635.9 324.4,636.0 325.1,636.0 325.7,636.1 326.4,636.1 327.0,636.1 327.6,636.2 328.3,636.2 328.9,636.3 329.6,636.3 330.2,636.4 330.8,636.4 331.5,636.5 332.1,636.5 332.7,636.6 333.4,636.6 334.0,636.7 334.7,636.7 335.3,636.8 335.9,636.8 336.6,636.9 337.2,636.9 337.9,637.0 338.5,637.0 339.1,637.1 339.8,637.1 340.4,637.2 341.0,637.2 341.7,637.3 342.3,637.3 343.0,637.3 343.6,637.4 344.2,637.4 344.9,637.5 345.5,637.5 346.2,637.6 346.8,637.6 347.4,637.7 348.1,637.7 348.7,637.8 349.3,637.8 350.0,637.9 350.6,637.9 351.3,638.0 351.9,638.0 352.5,638.1 353.2,638.1 353.8,638.2 354.5,638.2 355.1,638.3 355.7,638.3 356.4,638.4 357.0,638.4 357.6,638.5 358.3,638.5 358.9,638.6 359.6,638.6 360.2,638.6 360.8,638.7 361.5,638.7 362.1,638.8 362.8,638.8 363.4,638.9 364.0,638.9 364.7,639.0 365.3,639.0 365.9,639.1 366.6,639.1 367.2,639.2 367.9,639.2 368.5,639.3 369.1,639.3 369.8,639.4 370.4,639.5 371.1,639.5 371.7,639.6 372.3,639.6 373.0,639.7 373.6,639.7 374.2,639.8 374.9,639.8 375.5,639.9 376.2,639.9 376.8,640.0" fill="none" stroke="#008000" stroke-width="1.1" stroke-linejoin="round"/>
<polyline points="58.2,411.3 58.8,411.3 59.5,411.3 60.1,411.3 60.8,411.3 61.4,411.3 62.0,411.3 62.7,411.3 63.3,411.3 63.9,411.3 64.6,411.3 65.2,411.3 65.9,411.3 66.5,411.3 67.1,411.3 67.8,411.3 68.4,411.3 69.1,411.3 69.7,411.3 70.3,411.3 71.0,411.3 71.6,411.3 72.2,411.3 72.9,411.3 73.5,411.3 74.2,411.3 74.8,411.3 75.4,411.3 76.1,411.3 76.7,411.3 77.4,411.3 78.0,411.3 78.6,411.3 79.3,411.3 79.9,411.3 80.5,411.3 81.2,411.3 81.8,411.3 82.5,411.3 83.1,411.3 83.7,411.3 84.4,411.3 85.0,411.3 85.7,411.3 86.3,411.3 86.9,411.3 87.6,411.3 88.2,411.3 88.8,411.3 89.5,411.3 90.1,411.3 90.8,411.3 91.4,411.3 92.0,411.3 92.7,411.3 93.3,411.3 94.0,411.3 94.6,411.3 95.2,411.3 95.9,411.3 96.5,411.3 97.1,411.3 97.8,411.3 98.4,411.3 99.1,411.3 99.7,411.3 100.3,411.4 101.0,411.4 101.6,411.4 102.3,411.4 102.9,411.4 103.5,411.4 104.2,411.4 104.8,411.4 105.4,411.4 106.1,411.4 106.7,411.4 107.4,411.4 108.0,411.4 108.6,411.4 109.3,411.4 109.9,411.4 110.6,411.4 111.2,411.4 111.8,411.4 112.5,411.4 113.1,411.4 113.7,411.4 114.4,411.4 115.0,411.4 115.7,411.4 116.3,411.4 116.9,411.4 117.6,411.4 118.2,411.4 118.9,411.4 119.5,411.4 120.1,411.4 120.8,411.4 121.4,411.4 122.0,411.4 122.7,411.5 123.3,411.5 124.0,411.5 124.6,411.5 125.2,411.5 125.9,411.5 126.5,411.5 127.2,411.5 127.8,411.5 128.4,411.5 129.1,411.5 129.7,411.5 130.3,411.5 131.0,411.5 131.6,411.5 132.3,411.5 132.9,411.5 133.5,411.5 134.2,411.5 134.8,411.5 135.5,411.5 136.1,411.5 136.7,411.5 137.4,411.5 138.0,411.5 138.6,411.5 139.3,411.6 139.9,411.6 140.6,411.6 141.2,411.6 141.8,411.6 142.5,411.6 143.1,411.6 143.8,411.6 144.4,411.6 145.0,411.6 145.7,411.6 146.3,411.6 146.9,411.6 147.6,411.6 148.2,411.6 148.9,411.6 149.5,411.6 150.1,411.6 150.8,411.6 151.4,411.6 152.1,411.7 152.7,411.7 153.3,411.7 154.0,411.7 154.6,411.7 155.2,411.7 155.9,411.7 156.5,411.7 157.2,411.7 157.8,411.7 158.4,411.7 159.1,411.7 159.7,411.7 160.4,411.7 161.0,411.7 161.6,411.7 162.3,411.7 162.9,411.7 163.5,411.8 164.2,411.8 164.8,411.8 165.5,411.8 166.1,411.8 166.7,411.8 167.4,411.8 168.0,411.8 168.7,411.8 169.3,411.8 169.9,411.8 170.6,411.8 171.2,411.8 171.8,411.8 172.5,411.8 173.1,411.8 173.8,411.9 174.4,411.9 175.0,411.9 175.7,411.9 176.3,411.9 177.0,411.9 177.6,411.9 178.2,411.9 178.9,411.9 179.5,411.9 180.1,411.9 180.8,411.9 181.4,411.9 182.1,411.9 182.7,411.9 183.3,412.0 184.0,412.0 184.6,412.0 185.3,412.0 185.9,412.0 186.5,412.0 187.2,412.0 187.8,412.0 188.4,412.0 189.1,412.0 189.7,412.0 190.4,412.0 191.0,412.0 191.6,412.1 192.3,412.1 192.9,412.1 193.6,412.1 194.2,412.1 194.8,412.1 195.5,412.1 196.1,412.1 196.7,412.1 197.4,412.1 198.0,412.1 198.7,412.1 199.3,412.1 199.9,412.2 200.6,412.2 201.2,412.2 201.9,412.2 202.5,412.2 203.1,412.2 203.8,412.2 204.4,412.2 205.0,412.2 205.7,412.2 206.3,412.2 207.0,412.2 207.6,412.3 208.2,412.3 208.9,412.3 209.5,412.3 210.2,412.3 210.8,412.3 211.4,412.3 212.1,412.3 212.7,412.3 213.3,412.3 214.0,412.3 214.6,412.4 215.3,412.4 215.9,412.4 216.5,412.4 217.2,412.4 217.8,412.4 218.5,412.4 219.1,412.4 219.7,412.4 220.4,412.4 221.0,412.5 221.7,412.5 222.3,412.5 222.9,412.5 223.6,412.5 224.2,412.5 224.8,412.5 225.5,412.6 226.1,412.6 226.8,412.6 227.4,412.6 228.0,412.6 228.7,412.7 229.3,412.7 230.0,412.7 230.6,412.7 231.2,412.7 231.9,412.8 232.5,412.8 233.1,412.8 233.8,412.8 234.4,412.9 235.1,412.9 235.7,412.9 236.3,413.0 237.0,413.0 237.6,413.0 238.3,413.1 238.9,413.1 239.5,413.1 240.2,413.2 240.8,413.2 241.4,413.2 242.1,413.3 242.7,413.3 243.4,413.4 244.0,413.4 244.6,413.5 245.3,413.5 245.9,413.5 246.6,413.6 247.2,413.6 247.8,413.7 248.5,413.8 249.1,413.8 249.7,413.9 250.4,413.9 251.0,414.0 251.7,414.0 252.3,414.1 252.9,414.2 253.6,414.2 254.2,414.3 254.9,414.4 255.5,414.4 256.1,414.5 256.8,414.6 257.4,414.7 258.0,414.7 258.7,414.9 259.3,415.0 260.0,415.2 260.6,415.4 261.2,415.6 261.9,415.9 262.5,416.2 263.2,416.5 263.8,416.8 264.4,417.1 265.1,417.5 265.7,417.9 266.3,418.3 267.0,418.7 267.6,419.1 268.3,419.5 268.9,420.0 269.5,420.4 270.2,421.0 270.8,421.6 271.5,422.3 272.1,423.0 272.7,423.8 273.4,424.8 274.0,425.8 274.6,426.8 275.3,428.0 275.9,429.3 276.6,430.8 277.2,432.4 277.8,434.3 278.5,436.4 279.1,438.8 279.8,441.6 280.4,444.7 281.0,448.2 281.7,452.4 282.3,459.1 282.9,467.8 283.6,477.8 284.2,488.0 284.9,498.2 285.5,509.5 286.1,521.4 286.8,533.6 287.4,545.4 288.1,557.9 288.7,571.1 289.3,583.0 290.0,591.6 290.6,597.6 291.2,603.0 291.9,607.6 292.5,611.3 293.2,613.7 293.8,614.9 294.4,615.8 295.1,616.7 295.7,617.4 296.4,618.0 297.0,618.5 297.6,618.9 298.3,619.2 298.9,619.5 299.5,619.6 300.2,619.6 300.8,619.7 301.5,619.7 302.1,619.8 302.7,619.8 303.4,619.9 304.0,619.9 304.7,619.9 305.3,619.9 305.9,620.0 306.6,620.0 307.2,620.0 307.8,620.0 308.5,620.1 309.1,620.1 309.8,620.1 310.4,620.1 311.0,620.1 311.7,620.1 312.3,620.2 313.0,620.2 313.6,620.2 314.2,620.2 314.9,620.2 315.5,620.2 316.1,620.3 316.8,620.3 317.4,620.3 318.1,620.3 318.7,620.3 319.3,620.4 320.0,620.4 320.6,620.4 321.3,620.5 321.9,620.5 322.5,620.5 323.2,620.6 323.8,620.6 324.4,620.7 325.1,620.7 325.7,620.8 326.4,620.8 327.0,620.9 327.6,620.9 328.3,621.0 328.9,621.0 329.6,621.1 330.2,621.1 330.8,621.2 331.5,621.2 332.1,621.3 332.7,621.4 333.4,621.4 334.0,621.5 334.7,621.5 335.3,621.6 335.9,621.7 336.6,621.7 337.2,621.8 337.9,621.9 338.5,621.9 339.1,622.0 339.8,622.1 340.4,622.2 341.0,622.2 341.7,622.3 342.3,622.4 343.0,622.5 343.6,622.5 344.2,622.6 344.9,622.7 345.5,622.8 346.2,622.9 346.8,622.9 347.4,623.0 348.1,623.1 348.7,623.2 349.3,623.3 350.0,623.4 350.6,623.5 351.3,623.6 351.9,623.7 352.5,623.8 353.2,623.9 353.8,624.0 354.5,624.1 355.1,624.3 355.7,624.4 356.4,624.5 357.0,624.6 357.6,624.7 358.3,624.9 358.9,625.0 359.6,625.1 360.2,625.2 360.8,625.4 361.5,625.5 362.1,625.7 362.8,625.8 363.4,626.0 364.0,626.1 364.7,626.3 365.3,626.4 365.9,626.6 366.6,626.8 367.2,626.9 367.9,627.1 368.5,627.3 369.1,627.5 369.8,627.7 370.4,627.8 371.1,628.0 371.7,628.2 372.3,628.4 373.0,628.6 373.6,628.8 374.2,629.0 374.9,629.2 375.5,629.4 376.2,629.7 376.8,629.9" fill="none" stroke="#008000" stroke-width="1.1" stroke-linejoin="round"/>
<circle cx="55.17" cy="415.10" r="6.20" fill="#fff" stroke="#008000" stroke-width="2.05"/>
<circle cx="61.39" cy="415.10" r="6.20" fill="#fff" stroke="#008000" stroke-width="2.05"/>
<circle cx="67.60" cy="415.15" r="6.20" fill="#fff" stroke="#008000" stroke-width="2.05"/>
<circle cx="73.81" cy="415.25" r="6.20" fill="#fff" stroke="#008000" stroke-width="2.05"/>
<circle cx="80.02" cy="415.39" r="6.20" fill="#fff" stroke="#008000" stroke-width="2.05"/>
<circle cx="86.24" cy="415.58" r="6.20" fill="#fff" stroke="#008000" stroke-width="2.05"/>
<circle cx="92.45" cy="415.80" r="6.20" fill="#fff" stroke="#008000" stroke-width="2.05"/>
<circle cx="98.66" cy="416.06" r="6.20" fill="#fff" stroke="#008000" stroke-width="2.05"/>
<circle cx="104.87" cy="416.36" r="6.20" fill="#fff" stroke="#008000" stroke-width="2.05"/>
<circle cx="111.09" cy="416.69" r="6.20" fill="#fff" stroke="#008000" stroke-width="2.05"/>
<circle cx="117.30" cy="417.05" r="6.20" fill="#fff" stroke="#008000" stroke-width="2.05"/>
<circle cx="123.51" cy="417.44" r="6.20" fill="#fff" stroke="#008000" stroke-width="2.05"/>
<circle cx="129.73" cy="418.04" r="6.20" fill="#fff" stroke="#008000" stroke-width="2.05"/>
<circle cx="135.94" cy="418.93" r="6.20" fill="#fff" stroke="#008000" stroke-width="2.05"/>
<circle cx="142.15" cy="420.10" r="6.20" fill="#fff" stroke="#008000" stroke-width="2.05"/>
<circle cx="148.36" cy="421.64" r="6.20" fill="#fff" stroke="#008000" stroke-width="2.05"/>
<circle cx="154.58" cy="424.28" r="6.20" fill="#fff" stroke="#008000" stroke-width="2.05"/>
<circle cx="160.79" cy="428.09" r="6.20" fill="#fff" stroke="#008000" stroke-width="2.05"/>
<circle cx="167.00" cy="434.82" r="6.20" fill="#fff" stroke="#008000" stroke-width="2.05"/>
<circle cx="173.21" cy="469.35" r="6.20" fill="#fff" stroke="#008000" stroke-width="2.05"/>
<circle cx="179.43" cy="590.19" r="6.20" fill="#fff" stroke="#008000" stroke-width="2.05"/>
<circle cx="185.64" cy="622.03" r="6.20" fill="#fff" stroke="#008000" stroke-width="2.05"/>
<circle cx="191.85" cy="626.51" r="6.20" fill="#fff" stroke="#008000" stroke-width="2.05"/>
<circle cx="198.07" cy="628.67" r="6.20" fill="#fff" stroke="#008000" stroke-width="2.05"/>
<circle cx="204.28" cy="629.86" r="6.20" fill="#fff" stroke="#008000" stroke-width="2.05"/>
<circle cx="210.49" cy="630.63" r="6.20" fill="#fff" stroke="#008000" stroke-width="2.05"/>
<circle cx="216.70" cy="631.17" r="6.20" fill="#fff" stroke="#008000" stroke-width="2.05"/>
<circle cx="222.92" cy="631.53" r="6.20" fill="#fff" stroke="#008000" stroke-width="2.05"/>
<circle cx="229.13" cy="631.82" r="6.20" fill="#fff" stroke="#008000" stroke-width="2.05"/>
<circle cx="235.34" cy="632.05" r="6.20" fill="#fff" stroke="#008000" stroke-width="2.05"/>
<circle cx="241.55" cy="632.27" r="6.20" fill="#fff" stroke="#008000" stroke-width="2.05"/>
<circle cx="247.77" cy="632.50" r="6.20" fill="#fff" stroke="#008000" stroke-width="2.05"/>
<circle cx="253.98" cy="632.76" r="6.20" fill="#fff" stroke="#008000" stroke-width="2.05"/>
<circle cx="260.19" cy="633.02" r="6.20" fill="#fff" stroke="#008000" stroke-width="2.05"/>
<circle cx="266.41" cy="633.28" r="6.20" fill="#fff" stroke="#008000" stroke-width="2.05"/>
<circle cx="272.62" cy="633.55" r="6.20" fill="#fff" stroke="#008000" stroke-width="2.05"/>
<circle cx="278.83" cy="633.81" r="6.20" fill="#fff" stroke="#008000" stroke-width="2.05"/>
<circle cx="285.04" cy="634.07" r="6.20" fill="#fff" stroke="#008000" stroke-width="2.05"/>
<circle cx="291.26" cy="634.31" r="6.20" fill="#fff" stroke="#008000" stroke-width="2.05"/>
<circle cx="297.47" cy="634.55" r="6.20" fill="#fff" stroke="#008000" stroke-width="2.05"/>
<circle cx="303.68" cy="634.81" r="6.20" fill="#fff" stroke="#008000" stroke-width="2.05"/>
<circle cx="309.89" cy="635.09" r="6.20" fill="#fff" stroke="#008000" stroke-width="2.05"/>
<circle cx="316.11" cy="635.42" r="6.20" fill="#fff" stroke="#008000" stroke-width="2.05"/>
<circle cx="322.32" cy="635.82" r="6.20" fill="#fff" stroke="#008000" stroke-width="2.05"/>
<circle cx="328.53" cy="636.26" r="6.20" fill="#fff" stroke="#008000" stroke-width="2.05"/>
<circle cx="334.74" cy="636.72" r="6.20" fill="#fff" stroke="#008000" stroke-width="2.05"/>
<circle cx="340.96" cy="637.20" r="6.20" fill="#fff" stroke="#008000" stroke-width="2.05"/>
<circle cx="347.17" cy="637.66" r="6.20" fill="#fff" stroke="#008000" stroke-width="2.05"/>
<circle cx="353.38" cy="638.13" r="6.20" fill="#fff" stroke="#008000" stroke-width="2.05"/>
<circle cx="359.60" cy="638.60" r="6.20" fill="#fff" stroke="#008000" stroke-width="2.05"/>
<circle cx="365.81" cy="639.09" r="6.20" fill="#fff" stroke="#008000" stroke-width="2.05"/>
<circle cx="372.02" cy="639.58" r="6.20" fill="#fff" stroke="#008000" stroke-width="2.05"/>
<circle cx="378.23" cy="630.36" r="6.20" fill="#fff" stroke="#008000" stroke-width="2.05"/>
<circle cx="372.18" cy="628.38" r="6.20" fill="#fff" stroke="#008000" stroke-width="2.05"/>
<circle cx="366.13" cy="626.64" r="6.20" fill="#fff" stroke="#008000" stroke-width="2.05"/>
<circle cx="360.07" cy="625.22" r="6.20" fill="#fff" stroke="#008000" stroke-width="2.05"/>
<circle cx="354.02" cy="624.06" r="6.20" fill="#fff" stroke="#008000" stroke-width="2.05"/>
<circle cx="347.97" cy="623.10" r="6.20" fill="#fff" stroke="#008000" stroke-width="2.05"/>
<circle cx="341.91" cy="622.34" r="6.20" fill="#fff" stroke="#008000" stroke-width="2.05"/>
<circle cx="335.86" cy="621.67" r="6.20" fill="#fff" stroke="#008000" stroke-width="2.05"/>
<circle cx="329.81" cy="621.09" r="6.20" fill="#fff" stroke="#008000" stroke-width="2.05"/>
<circle cx="323.75" cy="620.63" r="6.20" fill="#fff" stroke="#008000" stroke-width="2.05"/>
<circle cx="317.70" cy="620.30" r="6.20" fill="#fff" stroke="#008000" stroke-width="2.05"/>
<circle cx="311.65" cy="620.14" r="6.20" fill="#fff" stroke="#008000" stroke-width="2.05"/>
<circle cx="305.59" cy="619.96" r="6.20" fill="#fff" stroke="#008000" stroke-width="2.05"/>
<circle cx="299.54" cy="619.56" r="6.20" fill="#fff" stroke="#008000" stroke-width="2.05"/>
<circle cx="293.49" cy="614.40" r="6.20" fill="#fff" stroke="#008000" stroke-width="2.05"/>
<circle cx="287.43" cy="545.80" r="6.20" fill="#fff" stroke="#008000" stroke-width="2.05"/>
<circle cx="281.38" cy="450.29" r="6.20" fill="#fff" stroke="#008000" stroke-width="2.05"/>
<circle cx="275.33" cy="428.09" r="6.20" fill="#fff" stroke="#008000" stroke-width="2.05"/>
<circle cx="269.27" cy="420.25" r="6.20" fill="#fff" stroke="#008000" stroke-width="2.05"/>
<circle cx="263.22" cy="416.50" r="6.20" fill="#fff" stroke="#008000" stroke-width="2.05"/>
<circle cx="257.17" cy="414.62" r="6.20" fill="#fff" stroke="#008000" stroke-width="2.05"/>
<circle cx="251.11" cy="413.99" r="6.20" fill="#fff" stroke="#008000" stroke-width="2.05"/>
<circle cx="245.06" cy="413.49" r="6.20" fill="#fff" stroke="#008000" stroke-width="2.05"/>
<circle cx="239.01" cy="413.10" r="6.20" fill="#fff" stroke="#008000" stroke-width="2.05"/>
<circle cx="232.95" cy="412.81" r="6.20" fill="#fff" stroke="#008000" stroke-width="2.05"/>
<circle cx="226.90" cy="412.60" r="6.20" fill="#fff" stroke="#008000" stroke-width="2.05"/>
<circle cx="220.85" cy="412.46" r="6.20" fill="#fff" stroke="#008000" stroke-width="2.05"/>
<circle cx="214.79" cy="412.36" r="6.20" fill="#fff" stroke="#008000" stroke-width="2.05"/>
<circle cx="208.74" cy="412.27" r="6.20" fill="#fff" stroke="#008000" stroke-width="2.05"/>
<circle cx="202.69" cy="412.19" r="6.20" fill="#fff" stroke="#008000" stroke-width="2.05"/>
<circle cx="196.63" cy="412.11" r="6.20" fill="#fff" stroke="#008000" stroke-width="2.05"/>
<circle cx="190.58" cy="412.04" r="6.20" fill="#fff" stroke="#008000" stroke-width="2.05"/>
<circle cx="184.52" cy="411.97" r="6.20" fill="#fff" stroke="#008000" stroke-width="2.05"/>
<circle cx="178.47" cy="411.90" r="6.20" fill="#fff" stroke="#008000" stroke-width="2.05"/>
<circle cx="172.42" cy="411.84" r="6.20" fill="#fff" stroke="#008000" stroke-width="2.05"/>
<circle cx="166.36" cy="411.78" r="6.20" fill="#fff" stroke="#008000" stroke-width="2.05"/>
<circle cx="160.31" cy="411.72" r="6.20" fill="#fff" stroke="#008000" stroke-width="2.05"/>
<circle cx="154.26" cy="411.67" r="6.20" fill="#fff" stroke="#008000" stroke-width="2.05"/>
<circle cx="148.20" cy="411.62" r="6.20" fill="#fff" stroke="#008000" stroke-width="2.05"/>
<circle cx="142.15" cy="411.57" r="6.20" fill="#fff" stroke="#008000" stroke-width="2.05"/>
<circle cx="136.10" cy="411.53" r="6.20" fill="#fff" stroke="#008000" stroke-width="2.05"/>
<circle cx="130.04" cy="411.49" r="6.20" fill="#fff" stroke="#008000" stroke-width="2.05"/>
<circle cx="123.99" cy="411.46" r="6.20" fill="#fff" stroke="#008000" stroke-width="2.05"/>
<circle cx="117.94" cy="411.43" r="6.20" fill="#fff" stroke="#008000" stroke-width="2.05"/>
<circle cx="111.88" cy="411.40" r="6.20" fill="#fff" stroke="#008000" stroke-width="2.05"/>
<circle cx="105.83" cy="411.37" r="6.20" fill="#fff" stroke="#008000" stroke-width="2.05"/>
<circle cx="99.78" cy="411.35" r="6.20" fill="#fff" stroke="#008000" stroke-width="2.05"/>
<circle cx="93.72" cy="411.33" r="6.20" fill="#fff" stroke="#008000" stroke-width="2.05"/>
<circle cx="87.67" cy="411.31" r="6.20" fill="#fff" stroke="#008000" stroke-width="2.05"/>
<circle cx="81.62" cy="411.30" r="6.20" fill="#fff" stroke="#008000" stroke-width="2.05"/>
<circle cx="75.56" cy="411.29" r="6.20" fill="#fff" stroke="#008000" stroke-width="2.05"/>
<circle cx="69.51" cy="411.28" r="6.20" fill="#fff" stroke="#008000" stroke-width="2.05"/>
<circle cx="63.46" cy="411.28" r="6.20" fill="#fff" stroke="#008000" stroke-width="2.05"/>
<polygon points="55.17,406.70 63.57,415.10 55.17,423.50 46.77,415.10" fill="#fff" stroke="#008000" stroke-width="2.05"/>
<polygon points="61.39,406.70 69.79,415.10 61.39,423.50 52.99,415.10" fill="#fff" stroke="#008000" stroke-width="2.05"/>
<polygon points="67.60,406.75 76.00,415.15 67.60,423.55 59.20,415.15" fill="#fff" stroke="#008000" stroke-width="2.05"/>
<polygon points="73.81,406.85 82.21,415.25 73.81,423.65 65.41,415.25" fill="#fff" stroke="#008000" stroke-width="2.05"/>
<polygon points="80.02,406.99 88.42,415.39 80.02,423.79 71.62,415.39" fill="#fff" stroke="#008000" stroke-width="2.05"/>
<polygon points="86.24,407.18 94.64,415.58 86.24,423.98 77.84,415.58" fill="#fff" stroke="#008000" stroke-width="2.05"/>
<polygon points="92.45,407.40 100.85,415.80 92.45,424.20 84.05,415.80" fill="#fff" stroke="#008000" stroke-width="2.05"/>
<polygon points="98.66,407.66 107.06,416.06 98.66,424.46 90.26,416.06" fill="#fff" stroke="#008000" stroke-width="2.05"/>
<polygon points="104.87,407.96 113.27,416.36 104.87,424.76 96.47,416.36" fill="#fff" stroke="#008000" stroke-width="2.05"/>
<polygon points="111.09,408.29 119.49,416.69 111.09,425.09 102.69,416.69" fill="#fff" stroke="#008000" stroke-width="2.05"/>
<polygon points="117.30,408.65 125.70,417.05 117.30,425.45 108.90,417.05" fill="#fff" stroke="#008000" stroke-width="2.05"/>
<polygon points="123.51,409.04 131.91,417.44 123.51,425.84 115.11,417.44" fill="#fff" stroke="#008000" stroke-width="2.05"/>
<polygon points="129.73,409.64 138.13,418.04 129.73,426.44 121.33,418.04" fill="#fff" stroke="#008000" stroke-width="2.05"/>
<polygon points="135.94,410.53 144.34,418.93 135.94,427.33 127.54,418.93" fill="#fff" stroke="#008000" stroke-width="2.05"/>
<polygon points="142.15,411.70 150.55,420.10 142.15,428.50 133.75,420.10" fill="#fff" stroke="#008000" stroke-width="2.05"/>
<polygon points="148.36,413.22 156.76,421.62 148.36,430.02 139.96,421.62" fill="#fff" stroke="#008000" stroke-width="2.05"/>
<polygon points="154.58,415.80 162.98,424.20 154.58,432.60 146.18,424.20" fill="#fff" stroke="#008000" stroke-width="2.05"/>
<polygon points="160.79,419.69 169.19,428.09 160.79,436.49 152.39,428.09" fill="#fff" stroke="#008000" stroke-width="2.05"/>
<polygon points="167.00,427.54 175.40,435.94 167.00,444.34 158.60,435.94" fill="#fff" stroke="#008000" stroke-width="2.05"/>
<polygon points="173.21,469.69 181.61,478.09 173.21,486.49 164.81,478.09" fill="#fff" stroke="#008000" stroke-width="2.05"/>
<polygon points="179.43,583.36 187.83,591.76 179.43,600.16 171.03,591.76" fill="#fff" stroke="#008000" stroke-width="2.05"/>
<polygon points="185.64,613.63 194.04,622.03 185.64,630.43 177.24,622.03" fill="#fff" stroke="#008000" stroke-width="2.05"/>
<polygon points="191.85,618.11 200.25,626.51 191.85,634.91 183.45,626.51" fill="#fff" stroke="#008000" stroke-width="2.05"/>
<polygon points="198.07,620.27 206.47,628.67 198.07,637.07 189.67,628.67" fill="#fff" stroke="#008000" stroke-width="2.05"/>
<polygon points="204.28,621.46 212.68,629.86 204.28,638.26 195.88,629.86" fill="#fff" stroke="#008000" stroke-width="2.05"/>
<polygon points="210.49,622.23 218.89,630.63 210.49,639.03 202.09,630.63" fill="#fff" stroke="#008000" stroke-width="2.05"/>
<polygon points="216.70,622.77 225.10,631.17 216.70,639.57 208.30,631.17" fill="#fff" stroke="#008000" stroke-width="2.05"/>
<polygon points="222.92,623.13 231.32,631.53 222.92,639.93 214.52,631.53" fill="#fff" stroke="#008000" stroke-width="2.05"/>
<polygon points="229.13,623.42 237.53,631.82 229.13,640.22 220.73,631.82" fill="#fff" stroke="#008000" stroke-width="2.05"/>
<polygon points="235.34,623.65 243.74,632.05 235.34,640.45 226.94,632.05" fill="#fff" stroke="#008000" stroke-width="2.05"/>
<polygon points="241.55,623.87 249.95,632.27 241.55,640.67 233.15,632.27" fill="#fff" stroke="#008000" stroke-width="2.05"/>
<polygon points="247.77,624.10 256.17,632.50 247.77,640.90 239.37,632.50" fill="#fff" stroke="#008000" stroke-width="2.05"/>
<polygon points="253.98,624.36 262.38,632.76 253.98,641.16 245.58,632.76" fill="#fff" stroke="#008000" stroke-width="2.05"/>
<polygon points="260.19,624.62 268.59,633.02 260.19,641.42 251.79,633.02" fill="#fff" stroke="#008000" stroke-width="2.05"/>
<polygon points="266.41,624.88 274.81,633.28 266.41,641.68 258.01,633.28" fill="#fff" stroke="#008000" stroke-width="2.05"/>
<polygon points="272.62,625.15 281.02,633.55 272.62,641.95 264.22,633.55" fill="#fff" stroke="#008000" stroke-width="2.05"/>
<polygon points="278.83,625.41 287.23,633.81 278.83,642.21 270.43,633.81" fill="#fff" stroke="#008000" stroke-width="2.05"/>
<polygon points="285.04,625.67 293.44,634.07 285.04,642.47 276.64,634.07" fill="#fff" stroke="#008000" stroke-width="2.05"/>
<polygon points="291.26,625.91 299.66,634.31 291.26,642.71 282.86,634.31" fill="#fff" stroke="#008000" stroke-width="2.05"/>
<polygon points="297.47,626.15 305.87,634.55 297.47,642.95 289.07,634.55" fill="#fff" stroke="#008000" stroke-width="2.05"/>
<polygon points="303.68,626.41 312.08,634.81 303.68,643.21 295.28,634.81" fill="#fff" stroke="#008000" stroke-width="2.05"/>
<polygon points="309.89,626.69 318.29,635.09 309.89,643.49 301.49,635.09" fill="#fff" stroke="#008000" stroke-width="2.05"/>
<polygon points="316.11,627.02 324.51,635.42 316.11,643.82 307.71,635.42" fill="#fff" stroke="#008000" stroke-width="2.05"/>
<polygon points="322.32,627.42 330.72,635.82 322.32,644.22 313.92,635.82" fill="#fff" stroke="#008000" stroke-width="2.05"/>
<polygon points="328.53,627.86 336.93,636.26 328.53,644.66 320.13,636.26" fill="#fff" stroke="#008000" stroke-width="2.05"/>
<polygon points="334.74,628.32 343.14,636.72 334.74,645.12 326.34,636.72" fill="#fff" stroke="#008000" stroke-width="2.05"/>
<polygon points="340.96,628.80 349.36,637.20 340.96,645.60 332.56,637.20" fill="#fff" stroke="#008000" stroke-width="2.05"/>
<polygon points="347.17,629.26 355.57,637.66 347.17,646.06 338.77,637.66" fill="#fff" stroke="#008000" stroke-width="2.05"/>
<polygon points="353.38,629.73 361.78,638.13 353.38,646.53 344.98,638.13" fill="#fff" stroke="#008000" stroke-width="2.05"/>
<polygon points="359.60,630.20 368.00,638.60 359.60,647.00 351.20,638.60" fill="#fff" stroke="#008000" stroke-width="2.05"/>
<polygon points="365.81,630.69 374.21,639.09 365.81,647.49 357.41,639.09" fill="#fff" stroke="#008000" stroke-width="2.05"/>
<polygon points="372.02,631.18 380.42,639.58 372.02,647.98 363.62,639.58" fill="#fff" stroke="#008000" stroke-width="2.05"/>
<polygon points="378.23,621.96 386.63,630.36 378.23,638.76 369.83,630.36" fill="#fff" stroke="#008000" stroke-width="2.05"/>
<polygon points="372.18,619.98 380.58,628.38 372.18,636.78 363.78,628.38" fill="#fff" stroke="#008000" stroke-width="2.05"/>
<polygon points="366.13,618.24 374.53,626.64 366.13,635.04 357.73,626.64" fill="#fff" stroke="#008000" stroke-width="2.05"/>
<polygon points="360.07,616.82 368.47,625.22 360.07,633.62 351.67,625.22" fill="#fff" stroke="#008000" stroke-width="2.05"/>
<polygon points="354.02,615.66 362.42,624.06 354.02,632.46 345.62,624.06" fill="#fff" stroke="#008000" stroke-width="2.05"/>
<polygon points="347.97,614.70 356.37,623.10 347.97,631.50 339.57,623.10" fill="#fff" stroke="#008000" stroke-width="2.05"/>
<polygon points="341.91,613.94 350.31,622.34 341.91,630.74 333.51,622.34" fill="#fff" stroke="#008000" stroke-width="2.05"/>
<polygon points="335.86,613.27 344.26,621.67 335.86,630.07 327.46,621.67" fill="#fff" stroke="#008000" stroke-width="2.05"/>
<polygon points="329.81,612.69 338.21,621.09 329.81,629.49 321.41,621.09" fill="#fff" stroke="#008000" stroke-width="2.05"/>
<polygon points="323.75,612.23 332.15,620.63 323.75,629.03 315.35,620.63" fill="#fff" stroke="#008000" stroke-width="2.05"/>
<polygon points="317.70,611.90 326.10,620.30 317.70,628.70 309.30,620.30" fill="#fff" stroke="#008000" stroke-width="2.05"/>
<polygon points="311.65,611.74 320.05,620.14 311.65,628.54 303.25,620.14" fill="#fff" stroke="#008000" stroke-width="2.05"/>
<polygon points="305.59,611.56 313.99,619.96 305.59,628.36 297.19,619.96" fill="#fff" stroke="#008000" stroke-width="2.05"/>
<polygon points="299.54,611.16 307.94,619.56 299.54,627.96 291.14,619.56" fill="#fff" stroke="#008000" stroke-width="2.05"/>
<polygon points="293.49,606.00 301.89,614.40 293.49,622.80 285.09,614.40" fill="#fff" stroke="#008000" stroke-width="2.05"/>
<polygon points="287.43,537.40 295.83,545.80 287.43,554.20 279.03,545.80" fill="#fff" stroke="#008000" stroke-width="2.05"/>
<polygon points="281.38,441.89 289.78,450.29 281.38,458.69 272.98,450.29" fill="#fff" stroke="#008000" stroke-width="2.05"/>
<polygon points="275.33,419.69 283.73,428.09 275.33,436.49 266.93,428.09" fill="#fff" stroke="#008000" stroke-width="2.05"/>
<polygon points="269.27,411.85 277.67,420.25 269.27,428.65 260.87,420.25" fill="#fff" stroke="#008000" stroke-width="2.05"/>
<polygon points="263.22,408.10 271.62,416.50 263.22,424.90 254.82,416.50" fill="#fff" stroke="#008000" stroke-width="2.05"/>
<polygon points="257.17,406.22 265.57,414.62 257.17,423.02 248.77,414.62" fill="#fff" stroke="#008000" stroke-width="2.05"/>
<polygon points="251.11,405.59 259.51,413.99 251.11,422.39 242.71,413.99" fill="#fff" stroke="#008000" stroke-width="2.05"/>
<polygon points="245.06,405.09 253.46,413.49 245.06,421.89 236.66,413.49" fill="#fff" stroke="#008000" stroke-width="2.05"/>
<polygon points="239.01,404.70 247.41,413.10 239.01,421.50 230.61,413.10" fill="#fff" stroke="#008000" stroke-width="2.05"/>
<polygon points="232.95,404.41 241.35,412.81 232.95,421.21 224.55,412.81" fill="#fff" stroke="#008000" stroke-width="2.05"/>
<polygon points="226.90,404.20 235.30,412.60 226.90,421.00 218.50,412.60" fill="#fff" stroke="#008000" stroke-width="2.05"/>
<polygon points="220.85,404.06 229.25,412.46 220.85,420.86 212.45,412.46" fill="#fff" stroke="#008000" stroke-width="2.05"/>
<polygon points="214.79,403.96 223.19,412.36 214.79,420.76 206.39,412.36" fill="#fff" stroke="#008000" stroke-width="2.05"/>
<polygon points="208.74,403.87 217.14,412.27 208.74,420.67 200.34,412.27" fill="#fff" stroke="#008000" stroke-width="2.05"/>
<polygon points="202.69,403.79 211.09,412.19 202.69,420.59 194.29,412.19" fill="#fff" stroke="#008000" stroke-width="2.05"/>
<polygon points="196.63,403.71 205.03,412.11 196.63,420.51 188.23,412.11" fill="#fff" stroke="#008000" stroke-width="2.05"/>
<polygon points="190.58,403.64 198.98,412.04 190.58,420.44 182.18,412.04" fill="#fff" stroke="#008000" stroke-width="2.05"/>
<polygon points="184.52,403.57 192.92,411.97 184.52,420.37 176.12,411.97" fill="#fff" stroke="#008000" stroke-width="2.05"/>
<polygon points="178.47,403.50 186.87,411.90 178.47,420.30 170.07,411.90" fill="#fff" stroke="#008000" stroke-width="2.05"/>
<polygon points="172.42,403.44 180.82,411.84 172.42,420.24 164.02,411.84" fill="#fff" stroke="#008000" stroke-width="2.05"/>
<polygon points="166.36,403.38 174.76,411.78 166.36,420.18 157.96,411.78" fill="#fff" stroke="#008000" stroke-width="2.05"/>
<polygon points="160.31,403.32 168.71,411.72 160.31,420.12 151.91,411.72" fill="#fff" stroke="#008000" stroke-width="2.05"/>
<polygon points="154.26,403.27 162.66,411.67 154.26,420.07 145.86,411.67" fill="#fff" stroke="#008000" stroke-width="2.05"/>
<polygon points="148.20,403.22 156.60,411.62 148.20,420.02 139.80,411.62" fill="#fff" stroke="#008000" stroke-width="2.05"/>
<polygon points="142.15,403.17 150.55,411.57 142.15,419.97 133.75,411.57" fill="#fff" stroke="#008000" stroke-width="2.05"/>
<polygon points="136.10,403.13 144.50,411.53 136.10,419.93 127.70,411.53" fill="#fff" stroke="#008000" stroke-width="2.05"/>
<polygon points="130.04,403.09 138.44,411.49 130.04,419.89 121.64,411.49" fill="#fff" stroke="#008000" stroke-width="2.05"/>
<polygon points="123.99,403.06 132.39,411.46 123.99,419.86 115.59,411.46" fill="#fff" stroke="#008000" stroke-width="2.05"/>
<polygon points="117.94,403.03 126.34,411.43 117.94,419.83 109.54,411.43" fill="#fff" stroke="#008000" stroke-width="2.05"/>
<polygon points="111.88,403.00 120.28,411.40 111.88,419.80 103.48,411.40" fill="#fff" stroke="#008000" stroke-width="2.05"/>
<polygon points="105.83,402.97 114.23,411.37 105.83,419.77 97.43,411.37" fill="#fff" stroke="#008000" stroke-width="2.05"/>
<polygon points="99.78,402.95 108.18,411.35 99.78,419.75 91.38,411.35" fill="#fff" stroke="#008000" stroke-width="2.05"/>
<polygon points="93.72,402.93 102.12,411.33 93.72,419.73 85.32,411.33" fill="#fff" stroke="#008000" stroke-width="2.05"/>
<polygon points="87.67,402.91 96.07,411.31 87.67,419.71 79.27,411.31" fill="#fff" stroke="#008000" stroke-width="2.05"/>
<polygon points="81.62,402.90 90.02,411.30 81.62,419.70 73.22,411.30" fill="#fff" stroke="#008000" stroke-width="2.05"/>
<polygon points="75.56,402.89 83.96,411.29 75.56,419.69 67.16,411.29" fill="#fff" stroke="#008000" stroke-width="2.05"/>
<polygon points="69.51,402.88 77.91,411.28 69.51,419.68 61.11,411.28" fill="#fff" stroke="#008000" stroke-width="2.05"/>
<polygon points="63.46,402.88 71.86,411.28 63.46,419.68 55.06,411.28" fill="#fff" stroke="#008000" stroke-width="2.05"/>
<polygon points="55.17,407.10 62.10,411.10 62.10,419.10 55.17,423.10 48.25,419.10 48.25,411.10" fill="#fff" stroke="#008000" stroke-width="2.05"/>
<polygon points="61.39,407.10 68.31,411.10 68.31,419.10 61.39,423.10 54.46,419.10 54.46,411.10" fill="#fff" stroke="#008000" stroke-width="2.05"/>
<polygon points="67.60,407.15 74.53,411.15 74.53,419.15 67.60,423.15 60.67,419.15 60.67,411.15" fill="#fff" stroke="#008000" stroke-width="2.05"/>
<polygon points="73.81,407.25 80.74,411.25 80.74,419.25 73.81,423.25 66.88,419.25 66.88,411.25" fill="#fff" stroke="#008000" stroke-width="2.05"/>
<polygon points="80.02,407.39 86.95,411.39 86.95,419.39 80.02,423.39 73.10,419.39 73.10,411.39" fill="#fff" stroke="#008000" stroke-width="2.05"/>
<polygon points="86.24,407.58 93.17,411.58 93.17,419.58 86.24,423.58 79.31,419.58 79.31,411.58" fill="#fff" stroke="#008000" stroke-width="2.05"/>
<polygon points="92.45,407.80 99.38,411.80 99.38,419.80 92.45,423.80 85.52,419.80 85.52,411.80" fill="#fff" stroke="#008000" stroke-width="2.05"/>
<polygon points="98.66,408.06 105.59,412.06 105.59,420.06 98.66,424.06 91.73,420.06 91.73,412.06" fill="#fff" stroke="#008000" stroke-width="2.05"/>
<polygon points="104.87,408.36 111.80,412.36 111.80,420.36 104.87,424.36 97.95,420.36 97.95,412.36" fill="#fff" stroke="#008000" stroke-width="2.05"/>
<polygon points="111.09,408.69 118.02,412.69 118.02,420.69 111.09,424.69 104.16,420.69 104.16,412.69" fill="#fff" stroke="#008000" stroke-width="2.05"/>
<polygon points="117.30,409.05 124.23,413.05 124.23,421.05 117.30,425.05 110.37,421.05 110.37,413.05" fill="#fff" stroke="#008000" stroke-width="2.05"/>
<polygon points="123.51,409.44 130.44,413.44 130.44,421.44 123.51,425.44 116.58,421.44 116.58,413.44" fill="#fff" stroke="#008000" stroke-width="2.05"/>
<polygon points="129.73,410.04 136.65,414.04 136.65,422.04 129.73,426.04 122.80,422.04 122.80,414.04" fill="#fff" stroke="#008000" stroke-width="2.05"/>
<polygon points="135.94,410.93 142.87,414.93 142.87,422.93 135.94,426.93 129.01,422.93 129.01,414.93" fill="#fff" stroke="#008000" stroke-width="2.05"/>
<polygon points="142.15,412.10 149.08,416.10 149.08,424.10 142.15,428.10 135.22,424.10 135.22,416.10" fill="#fff" stroke="#008000" stroke-width="2.05"/>
<polygon points="148.36,413.60 155.29,417.60 155.29,425.60 148.36,429.60 141.44,425.60 141.44,417.60" fill="#fff" stroke="#008000" stroke-width="2.05"/>
<polygon points="154.58,416.07 161.50,420.07 161.50,428.07 154.58,432.07 147.65,428.07 147.65,420.07" fill="#fff" stroke="#008000" stroke-width="2.05"/>
<polygon points="160.79,420.09 167.72,424.09 167.72,432.09 160.79,436.09 153.86,432.09 153.86,424.09" fill="#fff" stroke="#008000" stroke-width="2.05"/>
<polygon points="167.00,430.18 173.93,434.18 173.93,442.18 167.00,446.18 160.07,442.18 160.07,434.18" fill="#fff" stroke="#008000" stroke-width="2.05"/>
<polygon points="173.21,495.65 180.14,499.65 180.14,507.65 173.21,511.65 166.29,507.65 166.29,499.65" fill="#fff" stroke="#008000" stroke-width="2.05"/>
<polygon points="179.43,594.52 186.36,598.52 186.36,606.52 179.43,610.52 172.50,606.52 172.50,598.52" fill="#fff" stroke="#008000" stroke-width="2.05"/>
<polygon points="185.64,614.03 192.57,618.03 192.57,626.03 185.64,630.03 178.71,626.03 178.71,618.03" fill="#fff" stroke="#008000" stroke-width="2.05"/>
<polygon points="191.85,618.51 198.78,622.51 198.78,630.51 191.85,634.51 184.92,630.51 184.92,622.51" fill="#fff" stroke="#008000" stroke-width="2.05"/>
<polygon points="198.07,620.67 204.99,624.67 204.99,632.67 198.07,636.67 191.14,632.67 191.14,624.67" fill="#fff" stroke="#008000" stroke-width="2.05"/>
<polygon points="204.28,621.86 211.21,625.86 211.21,633.86 204.28,637.86 197.35,633.86 197.35,625.86" fill="#fff" stroke="#008000" stroke-width="2.05"/>
<polygon points="210.49,622.63 217.42,626.63 217.42,634.63 210.49,638.63 203.56,634.63 203.56,626.63" fill="#fff" stroke="#008000" stroke-width="2.05"/>
<polygon points="216.70,623.17 223.63,627.17 223.63,635.17 216.70,639.17 209.78,635.17 209.78,627.17" fill="#fff" stroke="#008000" stroke-width="2.05"/>
<polygon points="222.92,623.53 229.84,627.53 229.84,635.53 222.92,639.53 215.99,635.53 215.99,627.53" fill="#fff" stroke="#008000" stroke-width="2.05"/>
<polygon points="229.13,623.82 236.06,627.82 236.06,635.82 229.13,639.82 222.20,635.82 222.20,627.82" fill="#fff" stroke="#008000" stroke-width="2.05"/>
<polygon points="235.34,624.05 242.27,628.05 242.27,636.05 235.34,640.05 228.41,636.05 228.41,628.05" fill="#fff" stroke="#008000" stroke-width="2.05"/>
<polygon points="241.55,624.27 248.48,628.27 248.48,636.27 241.55,640.27 234.63,636.27 234.63,628.27" fill="#fff" stroke="#008000" stroke-width="2.05"/>
<polygon points="247.77,624.50 254.70,628.50 254.70,636.50 247.77,640.50 240.84,636.50 240.84,628.50" fill="#fff" stroke="#008000" stroke-width="2.05"/>
<polygon points="253.98,624.76 260.91,628.76 260.91,636.76 253.98,640.76 247.05,636.76 247.05,628.76" fill="#fff" stroke="#008000" stroke-width="2.05"/>
<polygon points="260.19,625.02 267.12,629.02 267.12,637.02 260.19,641.02 253.26,637.02 253.26,629.02" fill="#fff" stroke="#008000" stroke-width="2.05"/>
<polygon points="266.41,625.28 273.33,629.28 273.33,637.28 266.41,641.28 259.48,637.28 259.48,629.28" fill="#fff" stroke="#008000" stroke-width="2.05"/>
<polygon points="272.62,625.55 279.55,629.55 279.55,637.55 272.62,641.55 265.69,637.55 265.69,629.55" fill="#fff" stroke="#008000" stroke-width="2.05"/>
<polygon points="278.83,625.81 285.76,629.81 285.76,637.81 278.83,641.81 271.90,637.81 271.90,629.81" fill="#fff" stroke="#008000" stroke-width="2.05"/>
<polygon points="285.04,626.07 291.97,630.07 291.97,638.07 285.04,642.07 278.11,638.07 278.11,630.07" fill="#fff" stroke="#008000" stroke-width="2.05"/>
<polygon points="291.26,626.31 298.18,630.31 298.18,638.31 291.26,642.31 284.33,638.31 284.33,630.31" fill="#fff" stroke="#008000" stroke-width="2.05"/>
<polygon points="297.47,626.55 304.40,630.55 304.40,638.55 297.47,642.55 290.54,638.55 290.54,630.55" fill="#fff" stroke="#008000" stroke-width="2.05"/>
<polygon points="303.68,626.81 310.61,630.81 310.61,638.81 303.68,642.81 296.75,638.81 296.75,630.81" fill="#fff" stroke="#008000" stroke-width="2.05"/>
<polygon points="309.89,627.09 316.82,631.09 316.82,639.09 309.89,643.09 302.97,639.09 302.97,631.09" fill="#fff" stroke="#008000" stroke-width="2.05"/>
<polygon points="316.11,627.42 323.03,631.42 323.03,639.42 316.11,643.42 309.18,639.42 309.18,631.42" fill="#fff" stroke="#008000" stroke-width="2.05"/>
<polygon points="322.32,627.82 329.25,631.82 329.25,639.82 322.32,643.82 315.39,639.82 315.39,631.82" fill="#fff" stroke="#008000" stroke-width="2.05"/>
<polygon points="328.53,628.26 335.46,632.26 335.46,640.26 328.53,644.26 321.60,640.26 321.60,632.26" fill="#fff" stroke="#008000" stroke-width="2.05"/>
<polygon points="334.74,628.72 341.67,632.72 341.67,640.72 334.74,644.72 327.82,640.72 327.82,632.72" fill="#fff" stroke="#008000" stroke-width="2.05"/>
<polygon points="340.96,629.20 347.89,633.20 347.89,641.20 340.96,645.20 334.03,641.20 334.03,633.20" fill="#fff" stroke="#008000" stroke-width="2.05"/>
<polygon points="347.17,629.66 354.10,633.66 354.10,641.66 347.17,645.66 340.24,641.66 340.24,633.66" fill="#fff" stroke="#008000" stroke-width="2.05"/>
<polygon points="353.38,630.13 360.31,634.13 360.31,642.13 353.38,646.13 346.45,642.13 346.45,634.13" fill="#fff" stroke="#008000" stroke-width="2.05"/>
<polygon points="359.60,630.60 366.52,634.60 366.52,642.60 359.60,646.60 352.67,642.60 352.67,634.60" fill="#fff" stroke="#008000" stroke-width="2.05"/>
<polygon points="365.81,631.09 372.74,635.09 372.74,643.09 365.81,647.09 358.88,643.09 358.88,635.09" fill="#fff" stroke="#008000" stroke-width="2.05"/>
<polygon points="372.02,631.58 378.95,635.58 378.95,643.58 372.02,647.58 365.09,643.58 365.09,635.58" fill="#fff" stroke="#008000" stroke-width="2.05"/>
<polygon points="378.23,622.36 385.16,626.36 385.16,634.36 378.23,638.36 371.31,634.36 371.31,626.36" fill="#fff" stroke="#008000" stroke-width="2.05"/>
<polygon points="372.18,620.38 379.11,624.38 379.11,632.38 372.18,636.38 365.25,632.38 365.25,624.38" fill="#fff" stroke="#008000" stroke-width="2.05"/>
<polygon points="366.13,618.64 373.06,622.64 373.06,630.64 366.13,634.64 359.20,630.64 359.20,622.64" fill="#fff" stroke="#008000" stroke-width="2.05"/>
<polygon points="360.07,617.22 367.00,621.22 367.00,629.22 360.07,633.22 353.15,629.22 353.15,621.22" fill="#fff" stroke="#008000" stroke-width="2.05"/>
<polygon points="354.02,616.06 360.95,620.06 360.95,628.06 354.02,632.06 347.09,628.06 347.09,620.06" fill="#fff" stroke="#008000" stroke-width="2.05"/>
<polygon points="347.97,615.10 354.89,619.10 354.89,627.10 347.97,631.10 341.04,627.10 341.04,619.10" fill="#fff" stroke="#008000" stroke-width="2.05"/>
<polygon points="341.91,614.34 348.84,618.34 348.84,626.34 341.91,630.34 334.99,626.34 334.99,618.34" fill="#fff" stroke="#008000" stroke-width="2.05"/>
<polygon points="335.86,613.67 342.79,617.67 342.79,625.67 335.86,629.67 328.93,625.67 328.93,617.67" fill="#fff" stroke="#008000" stroke-width="2.05"/>
<polygon points="329.81,613.09 336.73,617.09 336.73,625.09 329.81,629.09 322.88,625.09 322.88,617.09" fill="#fff" stroke="#008000" stroke-width="2.05"/>
<polygon points="323.75,612.63 330.68,616.63 330.68,624.63 323.75,628.63 316.82,624.63 316.82,616.63" fill="#fff" stroke="#008000" stroke-width="2.05"/>
<polygon points="317.70,612.30 324.63,616.30 324.63,624.30 317.70,628.30 310.77,624.30 310.77,616.30" fill="#fff" stroke="#008000" stroke-width="2.05"/>
<polygon points="311.65,612.14 318.57,616.14 318.57,624.14 311.65,628.14 304.72,624.14 304.72,616.14" fill="#fff" stroke="#008000" stroke-width="2.05"/>
<polygon points="305.59,611.96 312.52,615.96 312.52,623.96 305.59,627.96 298.66,623.96 298.66,615.96" fill="#fff" stroke="#008000" stroke-width="2.05"/>
<polygon points="299.54,611.56 306.47,615.56 306.47,623.56 299.54,627.56 292.61,623.56 292.61,615.56" fill="#fff" stroke="#008000" stroke-width="2.05"/>
<polygon points="293.49,606.40 300.41,610.40 300.41,618.40 293.49,622.40 286.56,618.40 286.56,610.40" fill="#fff" stroke="#008000" stroke-width="2.05"/>
<polygon points="287.43,537.80 294.36,541.80 294.36,549.80 287.43,553.80 280.50,549.80 280.50,541.80" fill="#fff" stroke="#008000" stroke-width="2.05"/>
<polygon points="281.38,442.29 288.31,446.29 288.31,454.29 281.38,458.29 274.45,454.29 274.45,446.29" fill="#fff" stroke="#008000" stroke-width="2.05"/>
<polygon points="275.33,420.09 282.25,424.09 282.25,432.09 275.33,436.09 268.40,432.09 268.40,424.09" fill="#fff" stroke="#008000" stroke-width="2.05"/>
<polygon points="269.27,412.25 276.20,416.25 276.20,424.25 269.27,428.25 262.34,424.25 262.34,416.25" fill="#fff" stroke="#008000" stroke-width="2.05"/>
<polygon points="263.22,408.50 270.15,412.50 270.15,420.50 263.22,424.50 256.29,420.50 256.29,412.50" fill="#fff" stroke="#008000" stroke-width="2.05"/>
<polygon points="257.17,406.62 264.09,410.62 264.09,418.62 257.17,422.62 250.24,418.62 250.24,410.62" fill="#fff" stroke="#008000" stroke-width="2.05"/>
<polygon points="251.11,405.99 258.04,409.99 258.04,417.99 251.11,421.99 244.18,417.99 244.18,409.99" fill="#fff" stroke="#008000" stroke-width="2.05"/>
<polygon points="245.06,405.49 251.99,409.49 251.99,417.49 245.06,421.49 238.13,417.49 238.13,409.49" fill="#fff" stroke="#008000" stroke-width="2.05"/>
<polygon points="239.01,405.10 245.93,409.10 245.93,417.10 239.01,421.10 232.08,417.10 232.08,409.10" fill="#fff" stroke="#008000" stroke-width="2.05"/>
<polygon points="232.95,404.81 239.88,408.81 239.88,416.81 232.95,420.81 226.02,416.81 226.02,408.81" fill="#fff" stroke="#008000" stroke-width="2.05"/>
<polygon points="226.90,404.60 233.83,408.60 233.83,416.60 226.90,420.60 219.97,416.60 219.97,408.60" fill="#fff" stroke="#008000" stroke-width="2.05"/>
<polygon points="220.85,404.46 227.77,408.46 227.77,416.46 220.85,420.46 213.92,416.46 213.92,408.46" fill="#fff" stroke="#008000" stroke-width="2.05"/>
<polygon points="214.79,404.36 221.72,408.36 221.72,416.36 214.79,420.36 207.86,416.36 207.86,408.36" fill="#fff" stroke="#008000" stroke-width="2.05"/>
<polygon points="208.74,404.27 215.67,408.27 215.67,416.27 208.74,420.27 201.81,416.27 201.81,408.27" fill="#fff" stroke="#008000" stroke-width="2.05"/>
<polygon points="202.69,404.19 209.61,408.19 209.61,416.19 202.69,420.19 195.76,416.19 195.76,408.19" fill="#fff" stroke="#008000" stroke-width="2.05"/>
<polygon points="196.63,404.11 203.56,408.11 203.56,416.11 196.63,420.11 189.70,416.11 189.70,408.11" fill="#fff" stroke="#008000" stroke-width="2.05"/>
<polygon points="190.58,404.04 197.51,408.04 197.51,416.04 190.58,420.04 183.65,416.04 183.65,408.04" fill="#fff" stroke="#008000" stroke-width="2.05"/>
<polygon points="184.52,403.97 191.45,407.97 191.45,415.97 184.52,419.97 177.60,415.97 177.60,407.97" fill="#fff" stroke="#008000" stroke-width="2.05"/>
<polygon points="178.47,403.90 185.40,407.90 185.40,415.90 178.47,419.90 171.54,415.90 171.54,407.90" fill="#fff" stroke="#008000" stroke-width="2.05"/>
<polygon points="172.42,403.84 179.35,407.84 179.35,415.84 172.42,419.84 165.49,415.84 165.49,407.84" fill="#fff" stroke="#008000" stroke-width="2.05"/>
<polygon points="166.36,403.78 173.29,407.78 173.29,415.78 166.36,419.78 159.44,415.78 159.44,407.78" fill="#fff" stroke="#008000" stroke-width="2.05"/>
<polygon points="160.31,403.72 167.24,407.72 167.24,415.72 160.31,419.72 153.38,415.72 153.38,407.72" fill="#fff" stroke="#008000" stroke-width="2.05"/>
<polygon points="154.26,403.67 161.19,407.67 161.19,415.67 154.26,419.67 147.33,415.67 147.33,407.67" fill="#fff" stroke="#008000" stroke-width="2.05"/>
<polygon points="148.20,403.62 155.13,407.62 155.13,415.62 148.20,419.62 141.28,415.62 141.28,407.62" fill="#fff" stroke="#008000" stroke-width="2.05"/>
<polygon points="142.15,403.57 149.08,407.57 149.08,415.57 142.15,419.57 135.22,415.57 135.22,407.57" fill="#fff" stroke="#008000" stroke-width="2.05"/>
<polygon points="136.10,403.53 143.03,407.53 143.03,415.53 136.10,419.53 129.17,415.53 129.17,407.53" fill="#fff" stroke="#008000" stroke-width="2.05"/>
<polygon points="130.04,403.49 136.97,407.49 136.97,415.49 130.04,419.49 123.12,415.49 123.12,407.49" fill="#fff" stroke="#008000" stroke-width="2.05"/>
<polygon points="123.99,403.46 130.92,407.46 130.92,415.46 123.99,419.46 117.06,415.46 117.06,407.46" fill="#fff" stroke="#008000" stroke-width="2.05"/>
<polygon points="117.94,403.43 124.87,407.43 124.87,415.43 117.94,419.43 111.01,415.43 111.01,407.43" fill="#fff" stroke="#008000" stroke-width="2.05"/>
<polygon points="111.88,403.40 118.81,407.40 118.81,415.40 111.88,419.40 104.96,415.40 104.96,407.40" fill="#fff" stroke="#008000" stroke-width="2.05"/>
<polygon points="105.83,403.37 112.76,407.37 112.76,415.37 105.83,419.37 98.90,415.37 98.90,407.37" fill="#fff" stroke="#008000" stroke-width="2.05"/>
<polygon points="99.78,403.35 106.71,407.35 106.71,415.35 99.78,419.35 92.85,415.35 92.85,407.35" fill="#fff" stroke="#008000" stroke-width="2.05"/>
<polygon points="93.72,403.33 100.65,407.33 100.65,415.33 93.72,419.33 86.80,415.33 86.80,407.33" fill="#fff" stroke="#008000" stroke-width="2.05"/>
<polygon points="87.67,403.31 94.60,407.31 94.60,415.31 87.67,419.31 80.74,415.31 80.74,407.31" fill="#fff" stroke="#008000" stroke-width="2.05"/>
<polygon points="81.62,403.30 88.55,407.30 88.55,415.30 81.62,419.30 74.69,415.30 74.69,407.30" fill="#fff" stroke="#008000" stroke-width="2.05"/>
<polygon points="75.56,403.29 82.49,407.29 82.49,415.29 75.56,419.29 68.64,415.29 68.64,407.29" fill="#fff" stroke="#008000" stroke-width="2.05"/>
<polygon points="69.51,403.28 76.44,407.28 76.44,415.28 69.51,419.28 62.58,415.28 62.58,407.28" fill="#fff" stroke="#008000" stroke-width="2.05"/>
<polygon points="63.46,403.28 70.39,407.28 70.39,415.28 63.46,419.28 56.53,415.28 56.53,407.28" fill="#fff" stroke="#008000" stroke-width="2.05"/>
</g>
<line x1="154.7" y1="467.1" x2="160.9" y2="547" stroke="#000" stroke-width="2.6"/>
<polygon points="155.9,544.1 165.7,543.6 162,561.5" fill="#000"/>
<line x1="305.6" y1="566.1" x2="298.8" y2="492" stroke="#000" stroke-width="2.6"/>
<polygon points="294.3,495.3 304.4,494.6 297.7,477.3" fill="#000"/>
<rect x="58.2" y="401.2" width="318.6" height="246.6" fill="none" stroke="#000" stroke-width="2.9"/>
<line x1="58.2" y1="647.8" x2="58.2" y2="641.8" stroke="#000" stroke-width="2.3"/>
<text x="58.2" y="668.2" font-size="18" font-weight="bold" text-anchor="middle">-10</text>
<line x1="137.85" y1="647.8" x2="137.85" y2="641.8" stroke="#000" stroke-width="2.3"/>
<text x="137.85" y="668.2" font-size="18" font-weight="bold" text-anchor="middle">-5</text>
<line x1="217.5" y1="647.8" x2="217.5" y2="641.8" stroke="#000" stroke-width="2.3"/>
<text x="217.5" y="668.2" font-size="18" font-weight="bold" text-anchor="middle">0</text>
<line x1="297.15" y1="647.8" x2="297.15" y2="641.8" stroke="#000" stroke-width="2.3"/>
<text x="297.15" y="668.2" font-size="18" font-weight="bold" text-anchor="middle">5</text>
<line x1="376.8" y1="647.8" x2="376.8" y2="641.8" stroke="#000" stroke-width="2.3"/>
<text x="376.8" y="668.2" font-size="18" font-weight="bold" text-anchor="middle">10</text>
<line x1="98.03" y1="647.8" x2="98.03" y2="644" stroke="#000" stroke-width="2.3"/>
<line x1="177.68" y1="647.8" x2="177.68" y2="644" stroke="#000" stroke-width="2.3"/>
<line x1="257.33" y1="647.8" x2="257.33" y2="644" stroke="#000" stroke-width="2.3"/>
<line x1="336.97" y1="647.8" x2="336.97" y2="644" stroke="#000" stroke-width="2.3"/>
<line x1="58.2" y1="636.6" x2="64.2" y2="636.6" stroke="#000" stroke-width="2.3"/>
<text x="51.8" y="642.5" font-size="18.3" font-weight="bold" text-anchor="end" textLength="25.4" lengthAdjust="spacingAndGlyphs">0.0</text>
<line x1="58.2" y1="614.18" x2="62" y2="614.18" stroke="#000" stroke-width="2.3"/>
<line x1="58.2" y1="591.76" x2="64.2" y2="591.76" stroke="#000" stroke-width="2.3"/>
<text x="51.8" y="597.66" font-size="18.3" font-weight="bold" text-anchor="end" textLength="25.4" lengthAdjust="spacingAndGlyphs">0.2</text>
<line x1="58.2" y1="569.34" x2="62" y2="569.34" stroke="#000" stroke-width="2.3"/>
<line x1="58.2" y1="546.92" x2="64.2" y2="546.92" stroke="#000" stroke-width="2.3"/>
<text x="51.8" y="552.82" font-size="18.3" font-weight="bold" text-anchor="end" textLength="25.4" lengthAdjust="spacingAndGlyphs">0.4</text>
<line x1="58.2" y1="524.5" x2="62" y2="524.5" stroke="#000" stroke-width="2.3"/>
<line x1="58.2" y1="502.08" x2="64.2" y2="502.08" stroke="#000" stroke-width="2.3"/>
<text x="51.8" y="507.98" font-size="18.3" font-weight="bold" text-anchor="end" textLength="25.4" lengthAdjust="spacingAndGlyphs">0.6</text>
<line x1="58.2" y1="479.66" x2="62" y2="479.66" stroke="#000" stroke-width="2.3"/>
<line x1="58.2" y1="457.24" x2="64.2" y2="457.24" stroke="#000" stroke-width="2.3"/>
<text x="51.8" y="463.14" font-size="18.3" font-weight="bold" text-anchor="end" textLength="25.4" lengthAdjust="spacingAndGlyphs">0.8</text>
<line x1="58.2" y1="434.82" x2="62" y2="434.82" stroke="#000" stroke-width="2.3"/>
<line x1="58.2" y1="412.4" x2="64.2" y2="412.4" stroke="#000" stroke-width="2.3"/>
<text x="51.8" y="418.3" font-size="18.3" font-weight="bold" text-anchor="end" textLength="25.4" lengthAdjust="spacingAndGlyphs">1.0</text>
<text x="145.7" y="689.4" font-size="18" font-weight="bold" textLength="143.7" lengthAdjust="spacingAndGlyphs">Gate Voltage (V)</text>
<text x="17.2" y="647.9" font-size="19" font-weight="bold" textLength="236" lengthAdjust="spacingAndGlyphs" transform="rotate(-90 17.2 647.9)">Normalized Capacitance</text>
<text x="330.9" y="424.8" font-size="19" font-weight="bold">N<tspan dy="7.4" font-size="19">2</tspan><tspan dy="-7.4">O</tspan></text>
<line x1="66.4" y1="585.6" x2="105.3" y2="585.6" stroke="#008000" stroke-width="1.6"/>
<circle cx="85.80" cy="585.60" r="5.60" fill="#fff" stroke="#008000" stroke-width="1.9"/>
<text x="109.8" y="591.6" font-size="16" font-weight="bold" textLength="45.8" lengthAdjust="spacingAndGlyphs">1 MHz</text>
<line x1="66.4" y1="607.7" x2="105.3" y2="607.7" stroke="#008000" stroke-width="1.6"/>
<polygon points="85.80,599.30 94.20,607.70 85.80,616.10 77.40,607.70" fill="#fff" stroke="#008000" stroke-width="1.9"/>
<text x="109.8" y="613.7" font-size="16" font-weight="bold" textLength="60.3" lengthAdjust="spacingAndGlyphs">100 kHz</text>
<line x1="66.4" y1="629.8" x2="105.3" y2="629.8" stroke="#008000" stroke-width="1.6"/>
<polygon points="85.80,622.40 92.21,626.10 92.21,633.50 85.80,637.20 79.39,633.50 79.39,626.10" fill="#fff" stroke="#008000" stroke-width="1.9"/>
<text x="109.8" y="635.8" font-size="16" font-weight="bold" textLength="50.4" lengthAdjust="spacingAndGlyphs">10 kHz</text>
<text x="7.6" y="383.6" font-size="20" font-weight="bold">(c)</text>
<clipPath id="clipD"><rect x="466.6" y="411.4" width="309.1" height="234.60000000000002"/></clipPath>
<g clip-path="url(#clipD)">
<polyline points="466.6,438.4 471.8,438.5 476.9,439.0 482.1,439.6 487.2,440.4 492.4,441.3 497.5,442.5 502.7,444.1 507.8,445.7 513.0,447.3 518.1,448.9 523.3,450.7 528.4,452.7 533.6,455.2 538.7,458.1 543.9,461.1 549.0,464.0 554.2,467.1 559.3,471.1 564.5,475.9 569.6,480.9 574.8,486.2 579.9,491.1 585.1,497.0 590.2,505.3 595.4,516.5 600.5,536.6 605.7,555.3 613.8,562.1 617.3,615.2 621.4,616.7 628.2,569.5 633.6,564.2 639.4,561.5 644.1,551.0 648.8,547.5 653.5,543.7 658.8,540.7 664.2,537.5 669.4,534.3 674.7,531.8 680.0,530.3 685.3,529.2 690.6,528.1 695.8,526.9 701.1,525.7 706.4,524.6 711.7,523.6 717.0,522.6 722.3,521.7 727.5,520.8 732.8,520.0 738.1,519.2 743.4,518.4 748.7,517.7 753.9,516.9 759.2,516.2 764.5,515.4 769.8,514.7 775.1,514.1" fill="none" stroke="#0000FF" stroke-width="1.3" stroke-linejoin="round"/>
<polyline points="467.2,508.8 472.4,518.2 477.5,526.6 482.7,534.3 487.9,542.9 493.0,547.7 498.2,551.2 503.3,552.4 508.5,553.1 513.6,553.9 518.8,554.7 523.9,555.6 529.1,556.5 534.2,557.6 539.4,558.9 544.5,560.4 549.7,561.9 554.8,563.3 560.0,564.3 565.1,564.9 570.3,565.3 575.4,565.8 580.6,566.6 585.7,568.9 590.9,572.9 596.0,574.9 601.2,575.5 610.6,578.3 613.6,591.2 620.8,593.8 623.7,586.2 628.9,609.9 633.4,592.6 638.2,584.4 642.3,590.0 649.5,590.6 653.0,576.5 657.5,575.6 662.7,572.5 668.0,570.3 673.3,568.4 678.6,566.3 683.9,564.1 689.2,562.0 694.4,560.3 699.7,558.8 705.0,557.4 710.3,555.8 715.6,554.3 720.8,552.5 726.1,550.2 731.4,547.3 736.7,543.9 742.0,540.1 747.2,536.3 752.5,532.5 757.8,528.9 763.1,525.7 768.4,522.4 773.6,519.1 778.9,515.7" fill="none" stroke="#008000" stroke-width="1.3" stroke-linejoin="round"/>
<polyline points="613.8,562.1 616.6,628.4 617.3,615.2" fill="none" stroke="#0000FF" stroke-width="1.3" stroke-linejoin="round"/>
<polyline points="620.5,613.7 621.2,634.3 622.4,604.9" fill="none" stroke="#0000FF" stroke-width="1.4" stroke-linejoin="round"/>
<polyline points="615.4,593.2 617.3,625.5 619.2,596.1" fill="none" stroke="#008000" stroke-width="1.1" stroke-linejoin="round"/>
<polyline points="617.9,593.2 619.9,622.5 621.8,594.7" fill="none" stroke="#008000" stroke-width="1.1" stroke-linejoin="round"/>
<polyline points="623.1,596.1 626.2,647.5 628.9,609.9" fill="none" stroke="#008000" stroke-width="1.3" stroke-linejoin="round"/>
<polyline points="624.4,602.0 626.2,646.0 627.6,616.7" fill="none" stroke="#008000" stroke-width="1.1" stroke-linejoin="round"/>
<rect x="461.20" y="432.98" width="10.80" height="10.80" fill="#fff" stroke="#0000FF" stroke-width="1.9"/>
<rect x="466.35" y="433.14" width="10.80" height="10.80" fill="#fff" stroke="#0000FF" stroke-width="1.9"/>
<rect x="471.50" y="433.59" width="10.80" height="10.80" fill="#fff" stroke="#0000FF" stroke-width="1.9"/>
<rect x="476.66" y="434.25" width="10.80" height="10.80" fill="#fff" stroke="#0000FF" stroke-width="1.9"/>
<rect x="481.81" y="435.04" width="10.80" height="10.80" fill="#fff" stroke="#0000FF" stroke-width="1.9"/>
<rect x="486.96" y="435.91" width="10.80" height="10.80" fill="#fff" stroke="#0000FF" stroke-width="1.9"/>
<rect x="492.11" y="437.15" width="10.80" height="10.80" fill="#fff" stroke="#0000FF" stroke-width="1.9"/>
<rect x="497.26" y="438.74" width="10.80" height="10.80" fill="#fff" stroke="#0000FF" stroke-width="1.9"/>
<rect x="502.41" y="440.29" width="10.80" height="10.80" fill="#fff" stroke="#0000FF" stroke-width="1.9"/>
<rect x="507.57" y="441.86" width="10.80" height="10.80" fill="#fff" stroke="#0000FF" stroke-width="1.9"/>
<rect x="512.72" y="443.51" width="10.80" height="10.80" fill="#fff" stroke="#0000FF" stroke-width="1.9"/>
<rect x="517.87" y="445.32" width="10.80" height="10.80" fill="#fff" stroke="#0000FF" stroke-width="1.9"/>
<rect x="523.02" y="447.35" width="10.80" height="10.80" fill="#fff" stroke="#0000FF" stroke-width="1.9"/>
<rect x="528.17" y="449.81" width="10.80" height="10.80" fill="#fff" stroke="#0000FF" stroke-width="1.9"/>
<rect x="533.32" y="452.69" width="10.80" height="10.80" fill="#fff" stroke="#0000FF" stroke-width="1.9"/>
<rect x="538.48" y="455.70" width="10.80" height="10.80" fill="#fff" stroke="#0000FF" stroke-width="1.9"/>
<rect x="543.63" y="458.60" width="10.80" height="10.80" fill="#fff" stroke="#0000FF" stroke-width="1.9"/>
<rect x="548.78" y="461.71" width="10.80" height="10.80" fill="#fff" stroke="#0000FF" stroke-width="1.9"/>
<rect x="553.93" y="465.70" width="10.80" height="10.80" fill="#fff" stroke="#0000FF" stroke-width="1.9"/>
<rect x="559.08" y="470.47" width="10.80" height="10.80" fill="#fff" stroke="#0000FF" stroke-width="1.9"/>
<rect x="564.23" y="475.50" width="10.80" height="10.80" fill="#fff" stroke="#0000FF" stroke-width="1.9"/>
<rect x="569.39" y="480.78" width="10.80" height="10.80" fill="#fff" stroke="#0000FF" stroke-width="1.9"/>
<rect x="574.54" y="485.68" width="10.80" height="10.80" fill="#fff" stroke="#0000FF" stroke-width="1.9"/>
<rect x="579.69" y="491.57" width="10.80" height="10.80" fill="#fff" stroke="#0000FF" stroke-width="1.9"/>
<rect x="584.84" y="499.95" width="10.80" height="10.80" fill="#fff" stroke="#0000FF" stroke-width="1.9"/>
<rect x="589.99" y="511.05" width="10.80" height="10.80" fill="#fff" stroke="#0000FF" stroke-width="1.9"/>
<rect x="595.14" y="531.22" width="10.80" height="10.80" fill="#fff" stroke="#0000FF" stroke-width="1.9"/>
<rect x="600.30" y="549.95" width="10.80" height="10.80" fill="#fff" stroke="#0000FF" stroke-width="1.9"/>
<rect x="608.41" y="556.73" width="10.80" height="10.80" fill="#fff" stroke="#0000FF" stroke-width="1.9"/>
<rect x="611.89" y="609.81" width="10.80" height="10.80" fill="#fff" stroke="#0000FF" stroke-width="1.9"/>
<rect x="616.01" y="611.27" width="10.80" height="10.80" fill="#fff" stroke="#0000FF" stroke-width="1.9"/>
<rect x="622.83" y="564.06" width="10.80" height="10.80" fill="#fff" stroke="#0000FF" stroke-width="1.9"/>
<rect x="628.24" y="558.78" width="10.80" height="10.80" fill="#fff" stroke="#0000FF" stroke-width="1.9"/>
<rect x="634.04" y="556.14" width="10.80" height="10.80" fill="#fff" stroke="#0000FF" stroke-width="1.9"/>
<rect x="638.67" y="545.59" width="10.80" height="10.80" fill="#fff" stroke="#0000FF" stroke-width="1.9"/>
<rect x="643.44" y="542.07" width="10.80" height="10.80" fill="#fff" stroke="#0000FF" stroke-width="1.9"/>
<rect x="648.08" y="538.26" width="10.80" height="10.80" fill="#fff" stroke="#0000FF" stroke-width="1.9"/>
<rect x="653.36" y="535.32" width="10.80" height="10.80" fill="#fff" stroke="#0000FF" stroke-width="1.9"/>
<rect x="658.77" y="532.10" width="10.80" height="10.80" fill="#fff" stroke="#0000FF" stroke-width="1.9"/>
<rect x="664.05" y="528.85" width="10.80" height="10.80" fill="#fff" stroke="#0000FF" stroke-width="1.9"/>
<rect x="669.33" y="526.41" width="10.80" height="10.80" fill="#fff" stroke="#0000FF" stroke-width="1.9"/>
<rect x="674.61" y="524.92" width="10.80" height="10.80" fill="#fff" stroke="#0000FF" stroke-width="1.9"/>
<rect x="679.89" y="523.80" width="10.80" height="10.80" fill="#fff" stroke="#0000FF" stroke-width="1.9"/>
<rect x="685.17" y="522.71" width="10.80" height="10.80" fill="#fff" stroke="#0000FF" stroke-width="1.9"/>
<rect x="690.45" y="521.49" width="10.80" height="10.80" fill="#fff" stroke="#0000FF" stroke-width="1.9"/>
<rect x="695.73" y="520.28" width="10.80" height="10.80" fill="#fff" stroke="#0000FF" stroke-width="1.9"/>
<rect x="701.01" y="519.18" width="10.80" height="10.80" fill="#fff" stroke="#0000FF" stroke-width="1.9"/>
<rect x="706.29" y="518.18" width="10.80" height="10.80" fill="#fff" stroke="#0000FF" stroke-width="1.9"/>
<rect x="711.57" y="517.25" width="10.80" height="10.80" fill="#fff" stroke="#0000FF" stroke-width="1.9"/>
<rect x="716.85" y="516.33" width="10.80" height="10.80" fill="#fff" stroke="#0000FF" stroke-width="1.9"/>
<rect x="722.13" y="515.44" width="10.80" height="10.80" fill="#fff" stroke="#0000FF" stroke-width="1.9"/>
<rect x="727.41" y="514.58" width="10.80" height="10.80" fill="#fff" stroke="#0000FF" stroke-width="1.9"/>
<rect x="732.69" y="513.76" width="10.80" height="10.80" fill="#fff" stroke="#0000FF" stroke-width="1.9"/>
<rect x="737.97" y="512.99" width="10.80" height="10.80" fill="#fff" stroke="#0000FF" stroke-width="1.9"/>
<rect x="743.25" y="512.26" width="10.80" height="10.80" fill="#fff" stroke="#0000FF" stroke-width="1.9"/>
<rect x="748.53" y="511.52" width="10.80" height="10.80" fill="#fff" stroke="#0000FF" stroke-width="1.9"/>
<rect x="753.81" y="510.76" width="10.80" height="10.80" fill="#fff" stroke="#0000FF" stroke-width="1.9"/>
<rect x="759.10" y="510.02" width="10.80" height="10.80" fill="#fff" stroke="#0000FF" stroke-width="1.9"/>
<rect x="764.38" y="509.31" width="10.80" height="10.80" fill="#fff" stroke="#0000FF" stroke-width="1.9"/>
<rect x="769.66" y="508.68" width="10.80" height="10.80" fill="#fff" stroke="#0000FF" stroke-width="1.9"/>
<circle cx="467.24" cy="508.81" r="5.60" fill="#fff" stroke="#008000" stroke-width="1.9"/>
<circle cx="472.40" cy="518.16" r="5.60" fill="#fff" stroke="#008000" stroke-width="1.9"/>
<circle cx="477.55" cy="526.56" r="5.60" fill="#fff" stroke="#008000" stroke-width="1.9"/>
<circle cx="482.70" cy="534.30" r="5.60" fill="#fff" stroke="#008000" stroke-width="1.9"/>
<circle cx="487.85" cy="542.94" r="5.60" fill="#fff" stroke="#008000" stroke-width="1.9"/>
<circle cx="493.00" cy="547.66" r="5.60" fill="#fff" stroke="#008000" stroke-width="1.9"/>
<circle cx="498.15" cy="551.23" r="5.60" fill="#fff" stroke="#008000" stroke-width="1.9"/>
<circle cx="503.31" cy="552.40" r="5.60" fill="#fff" stroke="#008000" stroke-width="1.9"/>
<circle cx="508.46" cy="553.12" r="5.60" fill="#fff" stroke="#008000" stroke-width="1.9"/>
<circle cx="513.61" cy="553.92" r="5.60" fill="#fff" stroke="#008000" stroke-width="1.9"/>
<circle cx="518.76" cy="554.74" r="5.60" fill="#fff" stroke="#008000" stroke-width="1.9"/>
<circle cx="523.91" cy="555.61" r="5.60" fill="#fff" stroke="#008000" stroke-width="1.9"/>
<circle cx="529.06" cy="556.54" r="5.60" fill="#fff" stroke="#008000" stroke-width="1.9"/>
<circle cx="534.22" cy="557.58" r="5.60" fill="#fff" stroke="#008000" stroke-width="1.9"/>
<circle cx="539.37" cy="558.86" r="5.60" fill="#fff" stroke="#008000" stroke-width="1.9"/>
<circle cx="544.52" cy="560.36" r="5.60" fill="#fff" stroke="#008000" stroke-width="1.9"/>
<circle cx="549.67" cy="561.89" r="5.60" fill="#fff" stroke="#008000" stroke-width="1.9"/>
<circle cx="554.82" cy="563.26" r="5.60" fill="#fff" stroke="#008000" stroke-width="1.9"/>
<circle cx="559.97" cy="564.29" r="5.60" fill="#fff" stroke="#008000" stroke-width="1.9"/>
<circle cx="565.13" cy="564.91" r="5.60" fill="#fff" stroke="#008000" stroke-width="1.9"/>
<circle cx="570.28" cy="565.33" r="5.60" fill="#fff" stroke="#008000" stroke-width="1.9"/>
<circle cx="575.43" cy="565.81" r="5.60" fill="#fff" stroke="#008000" stroke-width="1.9"/>
<circle cx="580.58" cy="566.58" r="5.60" fill="#fff" stroke="#008000" stroke-width="1.9"/>
<circle cx="585.73" cy="568.90" r="5.60" fill="#fff" stroke="#008000" stroke-width="1.9"/>
<circle cx="590.88" cy="572.88" r="5.60" fill="#fff" stroke="#008000" stroke-width="1.9"/>
<circle cx="596.04" cy="574.86" r="5.60" fill="#fff" stroke="#008000" stroke-width="1.9"/>
<circle cx="601.19" cy="575.46" r="5.60" fill="#fff" stroke="#008000" stroke-width="1.9"/>
<circle cx="610.59" cy="578.26" r="5.60" fill="#fff" stroke="#008000" stroke-width="1.9"/>
<circle cx="613.55" cy="591.16" r="5.60" fill="#fff" stroke="#008000" stroke-width="1.9"/>
<circle cx="620.76" cy="593.80" r="5.60" fill="#fff" stroke="#008000" stroke-width="1.9"/>
<circle cx="623.73" cy="586.18" r="5.60" fill="#fff" stroke="#008000" stroke-width="1.9"/>
<circle cx="628.88" cy="609.93" r="5.60" fill="#fff" stroke="#008000" stroke-width="1.9"/>
<circle cx="633.39" cy="592.63" r="5.60" fill="#fff" stroke="#008000" stroke-width="1.9"/>
<circle cx="638.15" cy="584.42" r="5.60" fill="#fff" stroke="#008000" stroke-width="1.9"/>
<circle cx="642.27" cy="589.99" r="5.60" fill="#fff" stroke="#008000" stroke-width="1.9"/>
<circle cx="649.48" cy="590.58" r="5.60" fill="#fff" stroke="#008000" stroke-width="1.9"/>
<circle cx="652.96" cy="576.50" r="5.60" fill="#fff" stroke="#008000" stroke-width="1.9"/>
<circle cx="657.47" cy="575.62" r="5.60" fill="#fff" stroke="#008000" stroke-width="1.9"/>
<circle cx="662.75" cy="572.52" r="5.60" fill="#fff" stroke="#008000" stroke-width="1.9"/>
<circle cx="668.03" cy="570.32" r="5.60" fill="#fff" stroke="#008000" stroke-width="1.9"/>
<circle cx="673.31" cy="568.43" r="5.60" fill="#fff" stroke="#008000" stroke-width="1.9"/>
<circle cx="678.59" cy="566.34" r="5.60" fill="#fff" stroke="#008000" stroke-width="1.9"/>
<circle cx="683.87" cy="564.11" r="5.60" fill="#fff" stroke="#008000" stroke-width="1.9"/>
<circle cx="689.15" cy="562.04" r="5.60" fill="#fff" stroke="#008000" stroke-width="1.9"/>
<circle cx="694.43" cy="560.33" r="5.60" fill="#fff" stroke="#008000" stroke-width="1.9"/>
<circle cx="699.71" cy="558.85" r="5.60" fill="#fff" stroke="#008000" stroke-width="1.9"/>
<circle cx="704.99" cy="557.37" r="5.60" fill="#fff" stroke="#008000" stroke-width="1.9"/>
<circle cx="710.27" cy="555.85" r="5.60" fill="#fff" stroke="#008000" stroke-width="1.9"/>
<circle cx="715.55" cy="554.31" r="5.60" fill="#fff" stroke="#008000" stroke-width="1.9"/>
<circle cx="720.83" cy="552.50" r="5.60" fill="#fff" stroke="#008000" stroke-width="1.9"/>
<circle cx="726.12" cy="550.16" r="5.60" fill="#fff" stroke="#008000" stroke-width="1.9"/>
<circle cx="731.40" cy="547.32" r="5.60" fill="#fff" stroke="#008000" stroke-width="1.9"/>
<circle cx="736.68" cy="543.90" r="5.60" fill="#fff" stroke="#008000" stroke-width="1.9"/>
<circle cx="741.96" cy="540.06" r="5.60" fill="#fff" stroke="#008000" stroke-width="1.9"/>
<circle cx="747.24" cy="536.26" r="5.60" fill="#fff" stroke="#008000" stroke-width="1.9"/>
<circle cx="752.52" cy="532.46" r="5.60" fill="#fff" stroke="#008000" stroke-width="1.9"/>
<circle cx="757.80" cy="528.95" r="5.60" fill="#fff" stroke="#008000" stroke-width="1.9"/>
<circle cx="763.08" cy="525.66" r="5.60" fill="#fff" stroke="#008000" stroke-width="1.9"/>
<circle cx="768.36" cy="522.40" r="5.60" fill="#fff" stroke="#008000" stroke-width="1.9"/>
<circle cx="773.64" cy="519.12" r="5.60" fill="#fff" stroke="#008000" stroke-width="1.9"/>
<circle cx="778.92" cy="515.66" r="5.60" fill="#fff" stroke="#008000" stroke-width="1.9"/>
</g>
<rect x="466.6" y="411.4" width="309.1" height="234.6" fill="none" stroke="#000" stroke-width="2.9"/>
<line x1="466.6" y1="646" x2="472.4" y2="646" stroke="#000" stroke-width="2.2"/>
<line x1="466.6" y1="637.17" x2="470" y2="637.17" stroke="#000" stroke-width="1.8"/>
<line x1="466.6" y1="632.01" x2="470" y2="632.01" stroke="#000" stroke-width="1.8"/>
<line x1="466.6" y1="628.34" x2="470" y2="628.34" stroke="#000" stroke-width="1.8"/>
<line x1="466.6" y1="625.5" x2="470" y2="625.5" stroke="#000" stroke-width="1.8"/>
<line x1="466.6" y1="623.18" x2="470" y2="623.18" stroke="#000" stroke-width="1.8"/>
<line x1="466.6" y1="621.22" x2="470" y2="621.22" stroke="#000" stroke-width="1.8"/>
<line x1="466.6" y1="619.52" x2="470" y2="619.52" stroke="#000" stroke-width="1.8"/>
<line x1="466.6" y1="618.02" x2="470" y2="618.02" stroke="#000" stroke-width="1.8"/>
<line x1="466.6" y1="616.67" x2="472.4" y2="616.67" stroke="#000" stroke-width="2.2"/>
<line x1="466.6" y1="607.85" x2="470" y2="607.85" stroke="#000" stroke-width="1.8"/>
<line x1="466.6" y1="602.68" x2="470" y2="602.68" stroke="#000" stroke-width="1.8"/>
<line x1="466.6" y1="599.02" x2="470" y2="599.02" stroke="#000" stroke-width="1.8"/>
<line x1="466.6" y1="596.18" x2="470" y2="596.18" stroke="#000" stroke-width="1.8"/>
<line x1="466.6" y1="593.86" x2="470" y2="593.86" stroke="#000" stroke-width="1.8"/>
<line x1="466.6" y1="591.89" x2="470" y2="591.89" stroke="#000" stroke-width="1.8"/>
<line x1="466.6" y1="590.19" x2="470" y2="590.19" stroke="#000" stroke-width="1.8"/>
<line x1="466.6" y1="588.69" x2="470" y2="588.69" stroke="#000" stroke-width="1.8"/>
<line x1="466.6" y1="587.35" x2="472.4" y2="587.35" stroke="#000" stroke-width="2.2"/>
<line x1="466.6" y1="578.52" x2="470" y2="578.52" stroke="#000" stroke-width="1.8"/>
<line x1="466.6" y1="573.36" x2="470" y2="573.36" stroke="#000" stroke-width="1.8"/>
<line x1="466.6" y1="569.69" x2="470" y2="569.69" stroke="#000" stroke-width="1.8"/>
<line x1="466.6" y1="566.85" x2="470" y2="566.85" stroke="#000" stroke-width="1.8"/>
<line x1="466.6" y1="564.53" x2="470" y2="564.53" stroke="#000" stroke-width="1.8"/>
<line x1="466.6" y1="562.57" x2="470" y2="562.57" stroke="#000" stroke-width="1.8"/>
<line x1="466.6" y1="560.87" x2="470" y2="560.87" stroke="#000" stroke-width="1.8"/>
<line x1="466.6" y1="559.37" x2="470" y2="559.37" stroke="#000" stroke-width="1.8"/>
<line x1="466.6" y1="558.02" x2="472.4" y2="558.02" stroke="#000" stroke-width="2.2"/>
<line x1="466.6" y1="549.2" x2="470" y2="549.2" stroke="#000" stroke-width="1.8"/>
<line x1="466.6" y1="544.03" x2="470" y2="544.03" stroke="#000" stroke-width="1.8"/>
<line x1="466.6" y1="540.37" x2="470" y2="540.37" stroke="#000" stroke-width="1.8"/>
<line x1="466.6" y1="537.53" x2="470" y2="537.53" stroke="#000" stroke-width="1.8"/>
<line x1="466.6" y1="535.21" x2="470" y2="535.21" stroke="#000" stroke-width="1.8"/>
<line x1="466.6" y1="533.24" x2="470" y2="533.24" stroke="#000" stroke-width="1.8"/>
<line x1="466.6" y1="531.54" x2="470" y2="531.54" stroke="#000" stroke-width="1.8"/>
<line x1="466.6" y1="530.04" x2="470" y2="530.04" stroke="#000" stroke-width="1.8"/>
<line x1="466.6" y1="528.7" x2="472.4" y2="528.7" stroke="#000" stroke-width="2.2"/>
<line x1="466.6" y1="519.87" x2="470" y2="519.87" stroke="#000" stroke-width="1.8"/>
<line x1="466.6" y1="514.71" x2="470" y2="514.71" stroke="#000" stroke-width="1.8"/>
<line x1="466.6" y1="511.04" x2="470" y2="511.04" stroke="#000" stroke-width="1.8"/>
<line x1="466.6" y1="508.2" x2="470" y2="508.2" stroke="#000" stroke-width="1.8"/>
<line x1="466.6" y1="505.88" x2="470" y2="505.88" stroke="#000" stroke-width="1.8"/>
<line x1="466.6" y1="503.92" x2="470" y2="503.92" stroke="#000" stroke-width="1.8"/>
<line x1="466.6" y1="502.22" x2="470" y2="502.22" stroke="#000" stroke-width="1.8"/>
<line x1="466.6" y1="500.72" x2="470" y2="500.72" stroke="#000" stroke-width="1.8"/>
<line x1="466.6" y1="499.38" x2="472.4" y2="499.38" stroke="#000" stroke-width="2.2"/>
<line x1="466.6" y1="490.55" x2="470" y2="490.55" stroke="#000" stroke-width="1.8"/>
<line x1="466.6" y1="485.38" x2="470" y2="485.38" stroke="#000" stroke-width="1.8"/>
<line x1="466.6" y1="481.72" x2="470" y2="481.72" stroke="#000" stroke-width="1.8"/>
<line x1="466.6" y1="478.88" x2="470" y2="478.88" stroke="#000" stroke-width="1.8"/>
<line x1="466.6" y1="476.56" x2="470" y2="476.56" stroke="#000" stroke-width="1.8"/>
<line x1="466.6" y1="474.59" x2="470" y2="474.59" stroke="#000" stroke-width="1.8"/>
<line x1="466.6" y1="472.89" x2="470" y2="472.89" stroke="#000" stroke-width="1.8"/>
<line x1="466.6" y1="471.39" x2="470" y2="471.39" stroke="#000" stroke-width="1.8"/>
<line x1="466.6" y1="470.05" x2="472.4" y2="470.05" stroke="#000" stroke-width="2.2"/>
<line x1="466.6" y1="461.22" x2="470" y2="461.22" stroke="#000" stroke-width="1.8"/>
<line x1="466.6" y1="456.06" x2="470" y2="456.06" stroke="#000" stroke-width="1.8"/>
<line x1="466.6" y1="452.39" x2="470" y2="452.39" stroke="#000" stroke-width="1.8"/>
<line x1="466.6" y1="449.55" x2="470" y2="449.55" stroke="#000" stroke-width="1.8"/>
<line x1="466.6" y1="447.23" x2="470" y2="447.23" stroke="#000" stroke-width="1.8"/>
<line x1="466.6" y1="445.27" x2="470" y2="445.27" stroke="#000" stroke-width="1.8"/>
<line x1="466.6" y1="443.57" x2="470" y2="443.57" stroke="#000" stroke-width="1.8"/>
<line x1="466.6" y1="442.07" x2="470" y2="442.07" stroke="#000" stroke-width="1.8"/>
<line x1="466.6" y1="440.72" x2="472.4" y2="440.72" stroke="#000" stroke-width="2.2"/>
<line x1="466.6" y1="431.9" x2="470" y2="431.9" stroke="#000" stroke-width="1.8"/>
<line x1="466.6" y1="426.73" x2="470" y2="426.73" stroke="#000" stroke-width="1.8"/>
<line x1="466.6" y1="423.07" x2="470" y2="423.07" stroke="#000" stroke-width="1.8"/>
<line x1="466.6" y1="420.23" x2="470" y2="420.23" stroke="#000" stroke-width="1.8"/>
<line x1="466.6" y1="417.91" x2="470" y2="417.91" stroke="#000" stroke-width="1.8"/>
<line x1="466.6" y1="415.94" x2="470" y2="415.94" stroke="#000" stroke-width="1.8"/>
<line x1="466.6" y1="414.24" x2="470" y2="414.24" stroke="#000" stroke-width="1.8"/>
<line x1="466.6" y1="412.74" x2="470" y2="412.74" stroke="#000" stroke-width="1.8"/>
<line x1="466.6" y1="411.4" x2="472.4" y2="411.4" stroke="#000" stroke-width="2.2"/>
<text x="451.20" y="418.00" font-size="17" font-weight="bold" text-anchor="end">10</text>
<text x="452.40" y="408.20" font-size="10.5" font-weight="bold">-1</text>
<text x="451.20" y="447.32" font-size="17" font-weight="bold" text-anchor="end">10</text>
<text x="452.40" y="437.52" font-size="10.5" font-weight="bold">-2</text>
<text x="451.20" y="476.65" font-size="17" font-weight="bold" text-anchor="end">10</text>
<text x="452.40" y="466.85" font-size="10.5" font-weight="bold">-3</text>
<text x="451.20" y="505.98" font-size="17" font-weight="bold" text-anchor="end">10</text>
<text x="452.40" y="496.18" font-size="10.5" font-weight="bold">-4</text>
<text x="451.20" y="535.30" font-size="17" font-weight="bold" text-anchor="end">10</text>
<text x="452.40" y="525.50" font-size="10.5" font-weight="bold">-5</text>
<text x="451.20" y="564.62" font-size="17" font-weight="bold" text-anchor="end">10</text>
<text x="452.40" y="554.83" font-size="10.5" font-weight="bold">-6</text>
<text x="451.20" y="593.95" font-size="17" font-weight="bold" text-anchor="end">10</text>
<text x="452.40" y="584.15" font-size="10.5" font-weight="bold">-7</text>
<text x="451.20" y="623.27" font-size="17" font-weight="bold" text-anchor="end">10</text>
<text x="452.40" y="613.48" font-size="10.5" font-weight="bold">-8</text>
<text x="451.20" y="652.60" font-size="17" font-weight="bold" text-anchor="end">10</text>
<text x="452.40" y="642.80" font-size="10.5" font-weight="bold">-9</text>
<line x1="466.6" y1="646" x2="466.6" y2="640.6" stroke="#000" stroke-width="2.2"/>
<text x="466.6" y="666.8" font-size="17" font-weight="bold" text-anchor="middle">-12</text>
<line x1="505.24" y1="646" x2="505.24" y2="640.6" stroke="#000" stroke-width="2.2"/>
<text x="505.24" y="666.8" font-size="17" font-weight="bold" text-anchor="middle">-9</text>
<line x1="543.88" y1="646" x2="543.88" y2="640.6" stroke="#000" stroke-width="2.2"/>
<text x="543.88" y="666.8" font-size="17" font-weight="bold" text-anchor="middle">-6</text>
<line x1="582.51" y1="646" x2="582.51" y2="640.6" stroke="#000" stroke-width="2.2"/>
<text x="582.51" y="666.8" font-size="17" font-weight="bold" text-anchor="middle">-3</text>
<line x1="621.15" y1="646" x2="621.15" y2="640.6" stroke="#000" stroke-width="2.2"/>
<text x="621.15" y="666.8" font-size="17" font-weight="bold" text-anchor="middle">0</text>
<line x1="659.79" y1="646" x2="659.79" y2="640.6" stroke="#000" stroke-width="2.2"/>
<text x="659.79" y="666.8" font-size="17" font-weight="bold" text-anchor="middle">3</text>
<line x1="698.43" y1="646" x2="698.43" y2="640.6" stroke="#000" stroke-width="2.2"/>
<text x="698.43" y="666.8" font-size="17" font-weight="bold" text-anchor="middle">6</text>
<line x1="737.06" y1="646" x2="737.06" y2="640.6" stroke="#000" stroke-width="2.2"/>
<text x="737.06" y="666.8" font-size="17" font-weight="bold" text-anchor="middle">9</text>
<line x1="775.7" y1="646" x2="775.7" y2="640.6" stroke="#000" stroke-width="2.2"/>
<text x="775.7" y="666.8" font-size="17" font-weight="bold" text-anchor="middle">12</text>
<text x="551.5" y="689.7" font-size="18" font-weight="bold" textLength="144" lengthAdjust="spacingAndGlyphs">Gate Voltage (V)</text>
<text x="420.3" y="652" font-size="18" font-weight="bold" transform="rotate(-90 420.3 652)" textLength="230.6" lengthAdjust="spacingAndGlyphs">Leakage Current (A/cm<tspan dy="-7" font-size="12">2</tspan><tspan dy="7">)</tspan></text>
<line x1="579.1" y1="428.8" x2="605.3" y2="428.8" stroke="#0000FF" stroke-width="1.6"/>
<rect x="587.90" y="424.60" width="8.40" height="8.40" fill="#fff" stroke="#0000FF" stroke-width="1.7"/>
<text x="610.1" y="433" font-size="18" font-weight="bold" textLength="162.2" lengthAdjust="spacingAndGlyphs">Without Treatment</text>
<line x1="579.1" y1="451.9" x2="605.3" y2="451.9" stroke="#008000" stroke-width="1.6"/>
<circle cx="592.10" cy="451.90" r="4.20" fill="#fff" stroke="#008000" stroke-width="1.7"/>
<text x="610.3" y="456.2" font-size="18" font-weight="bold">N<tspan dy="6.6" font-size="17">2</tspan><tspan dy="-6.6">O</tspan></text>
<text x="405.0" y="383.6" font-size="20" font-weight="bold">(d)</text>
<clipPath id="clipE"><rect x="69.3" y="770.2" width="306.8" height="238.19999999999993"/></clipPath>
<g clip-path="url(#clipE)">
<polyline points="69.3,825.8 69.8,827.4 70.3,829.1 70.8,830.6 71.3,832.2 71.9,833.7 72.4,835.1 72.9,836.5 73.4,837.7 73.9,839.0 74.4,840.1 74.9,841.1 75.4,842.1 76.0,843.1 76.5,844.0 77.0,844.9 77.5,845.7 78.0,846.5 78.5,847.3 79.0,848.1 79.5,848.9 80.1,849.6 80.6,850.4 81.1,851.2 81.6,852.0 82.1,852.8 82.6,853.6 83.1,854.4 83.6,855.2 84.2,855.9 84.7,856.7 85.2,857.4 85.7,858.2 86.2,858.9 86.7,859.7 87.2,860.5 87.7,861.3 88.3,862.2 88.8,863.1 89.3,864.0 89.8,865.0 90.3,866.2 90.8,867.5 91.3,868.9 91.8,870.5 92.3,872.0 92.9,873.5 93.4,875.0 93.9,876.4 94.4,877.7 94.9,878.8 95.4,879.7 95.9,880.4 96.4,881.0 97.0,881.7 97.5,882.3 98.0,882.9 98.5,883.5 99.0,884.0 99.5,884.6 100.0,885.0 100.5,885.5 101.1,885.9 101.6,886.2 102.1,886.6 102.6,886.8 103.1,887.1 103.6,887.3 104.1,887.4 104.6,887.5 105.2,887.7 105.7,887.8 106.2,887.9 106.7,888.0 107.2,888.1 107.7,888.2 108.2,888.3 108.7,888.4 109.3,888.5 109.8,888.6 110.3,888.7 110.8,888.8 111.3,888.9 111.8,888.9 112.3,889.0 112.8,889.1 113.3,889.2 113.9,889.2 114.4,889.3 114.9,889.4 115.4,889.4 115.9,889.5 116.4,889.5 116.9,889.6 117.4,889.6 118.0,889.7 118.5,889.7 119.0,889.8 119.5,889.8 120.0,889.9 120.5,889.9 121.0,890.0 121.5,890.0 122.1,890.1 122.6,890.1 123.1,890.2 123.6,890.2 124.1,890.2 124.6,890.3 125.1,890.3 125.6,890.4 126.2,890.4 126.7,890.5 127.2,890.5 127.7,890.6 128.2,890.6 128.7,890.7 129.2,890.8 129.7,890.8 130.3,890.9 130.8,890.9 131.3,891.0 131.8,891.1 132.3,891.1 132.8,891.2 133.3,891.3 133.8,891.4 134.3,891.5 134.9,891.5 135.4,891.6 135.9,891.7 136.4,891.8 136.9,891.8 137.4,891.9 137.9,892.0 138.4,892.1 139.0,892.1 139.5,892.2 140.0,892.3 140.5,892.4 141.0,892.4 141.5,892.5 142.0,892.6 142.5,892.7 143.1,892.7 143.6,892.8 144.1,892.9 144.6,893.0 145.1,893.0 145.6,893.1 146.1,893.2 146.6,893.3 147.2,893.4 147.7,893.4 148.2,893.5 148.7,893.6 149.2,893.7 149.7,893.8 150.2,893.8 150.7,893.9 151.2,894.0 151.8,894.1 152.3,894.2 152.8,894.3 153.3,894.4 153.8,894.5 154.3,894.6 154.8,894.6 155.3,894.7 155.9,894.8 156.4,894.9 156.9,895.0 157.4,895.1 157.9,895.2 158.4,895.3 158.9,895.5 159.4,895.6 160.0,895.7 160.5,895.8 161.0,895.9 161.5,896.0 162.0,896.1 162.5,896.2 163.0,896.4 163.5,896.5 164.1,896.6 164.6,896.7 165.1,896.9 165.6,897.0 166.1,897.1 166.6,897.3 167.1,897.4 167.6,897.6 168.2,897.7 168.7,897.9 169.2,898.1 169.7,898.3 170.2,898.5 170.7,898.7 171.2,898.9 171.7,899.1 172.2,899.3 172.8,899.5 173.3,899.7 173.8,900.0 174.3,900.2 174.8,900.4 175.3,900.7 175.8,900.9 176.3,901.2 176.9,901.4 177.4,901.7 177.9,902.0 178.4,902.2 178.9,902.5 179.4,902.8 179.9,903.1 180.4,903.3 181.0,903.6 181.5,903.9 182.0,904.2 182.5,904.5 183.0,904.8 183.5,905.1 184.0,905.3 184.5,905.6 185.1,905.9 185.6,906.2 186.1,906.5 186.6,906.8 187.1,907.1 187.6,907.4 188.1,907.7 188.6,908.0 189.2,908.3 189.7,908.6 190.2,908.8 190.7,909.1 191.2,909.4 191.7,909.7 192.2,910.0 192.7,910.3 193.2,910.6 193.8,910.9 194.3,911.2 194.8,911.5 195.3,911.8 195.8,912.1 196.3,912.4 196.8,912.7 197.3,913.1 197.9,913.4 198.4,913.7 198.9,914.0 199.4,914.3 199.9,914.7 200.4,915.0 200.9,915.3 201.4,915.7 202.0,916.0 202.5,916.3 203.0,916.6 203.5,917.0 204.0,917.3 204.5,917.6 205.0,918.0 205.5,918.3 206.1,918.6 206.6,918.9 207.1,919.3 207.6,919.6 208.1,919.9 208.6,920.2 209.1,920.6 209.6,920.9 210.2,921.2 210.7,921.5 211.2,921.8 211.7,922.1 212.2,922.4 212.7,922.7 213.2,923.0 213.7,923.2 214.2,923.5 214.8,923.8 215.3,924.1 215.8,924.4 216.3,924.6 216.8,924.9 217.3,925.2 217.8,925.5 218.3,925.8 218.9,926.2 219.4,926.5 219.9,926.8 220.4,927.2 220.9,927.6 221.4,928.0 221.9,928.4 222.4,928.8 223.0,929.2 223.5,929.8 224.0,930.5 224.5,931.3 225.0,932.2 225.5,933.0 226.0,933.9 226.5,934.7 227.1,935.4 227.6,936.0 228.1,936.5 228.6,936.8 229.1,936.9 229.6,936.8 230.1,936.5 230.6,936.0 231.2,935.3 231.7,934.6 232.2,933.7 232.7,932.9 233.2,932.0 233.7,931.2 234.2,930.4 234.7,929.7 235.2,929.2 235.8,928.8 236.3,928.4 236.8,928.0 237.3,927.7 237.8,927.3 238.3,926.9 238.8,926.6 239.3,926.3 239.9,926.0 240.4,925.7 240.9,925.5 241.4,925.3 241.9,925.2 242.4,925.1 242.9,925.0 243.4,925.1 244.0,925.2 244.5,925.5 245.0,926.0 245.5,926.5 246.0,927.1 246.5,927.8 247.0,928.5 247.5,929.3 248.1,930.0 248.6,930.8 249.1,931.4 249.6,932.1 250.1,932.7 250.6,933.1 251.1,933.5 251.6,933.7 252.2,933.8 252.7,933.5 253.2,932.9 253.7,931.9 254.2,930.7 254.7,929.2 255.2,927.6 255.7,925.9 256.2,924.1 256.8,922.3 257.3,920.6 257.8,919.1 258.3,917.7 258.8,916.5 259.3,915.6 259.8,915.1 260.3,914.7 260.9,914.3 261.4,914.0 261.9,913.7 262.4,913.4 262.9,913.1 263.4,912.8 263.9,912.6 264.4,912.4 265.0,912.1 265.5,911.9 266.0,911.7 266.5,911.6 267.0,911.4 267.5,911.2 268.0,911.0 268.5,910.9 269.1,910.7 269.6,910.6 270.1,910.4 270.6,910.3 271.1,910.1 271.6,909.9 272.1,909.8 272.6,909.6 273.2,909.4 273.7,909.2 274.2,909.0 274.7,908.8 275.2,908.6 275.7,908.4 276.2,908.3 276.7,908.1 277.2,907.9 277.8,907.7 278.3,907.5 278.8,907.3 279.3,907.2 279.8,907.0 280.3,906.8 280.8,906.6 281.3,906.5 281.9,906.3 282.4,906.1 282.9,905.9 283.4,905.8 283.9,905.6 284.4,905.4 284.9,905.2 285.4,905.0 286.0,904.9 286.5,904.7 287.0,904.5 287.5,904.3 288.0,904.1 288.5,903.9 289.0,903.7 289.5,903.6 290.1,903.4 290.6,903.2 291.1,902.9 291.6,902.7 292.1,902.5 292.6,902.3 293.1,902.1 293.6,901.9 294.2,901.7 294.7,901.5 295.2,901.2 295.7,901.0 296.2,900.8 296.7,900.6 297.2,900.3 297.7,900.1 298.2,899.9 298.8,899.7 299.3,899.4 299.8,899.2 300.3,899.0 300.8,898.7 301.3,898.5 301.8,898.3 302.3,898.0 302.9,897.8 303.4,897.6 303.9,897.3 304.4,897.1 304.9,896.8 305.4,896.6 305.9,896.4 306.4,896.1 307.0,895.9 307.5,895.7 308.0,895.4 308.5,895.2 309.0,895.0 309.5,894.7 310.0,894.5 310.5,894.3 311.1,894.0 311.6,893.8 312.1,893.6 312.6,893.4 313.1,893.1 313.6,892.9 314.1,892.7 314.6,892.5 315.1,892.2 315.7,892.0 316.2,891.8 316.7,891.6 317.2,891.3 317.7,891.1 318.2,890.9 318.7,890.6 319.2,890.4 319.8,890.1 320.3,889.9 320.8,889.6 321.3,889.3 321.8,889.1 322.3,888.8 322.8,888.5 323.3,888.3 323.9,888.0 324.4,887.7 324.9,887.4 325.4,887.1 325.9,886.7 326.4,886.4 326.9,886.1 327.4,885.7 328.0,885.4 328.5,885.0 329.0,884.7 329.5,884.3 330.0,884.0 330.5,883.6 331.0,883.2 331.5,882.8 332.1,882.4 332.6,882.0 333.1,881.6 333.6,881.2 334.1,880.8 334.6,880.3 335.1,879.9 335.6,879.5 336.1,879.0 336.7,878.6 337.2,878.2 337.7,877.7 338.2,877.3 338.7,876.8 339.2,876.3 339.7,875.9 340.2,875.4 340.8,874.9 341.3,874.5 341.8,874.0 342.3,873.5 342.8,873.0 343.3,872.6 343.8,872.1 344.3,871.6 344.9,871.1 345.4,870.6 345.9,870.1 346.4,869.5 346.9,869.0 347.4,868.4 347.9,867.9 348.4,867.3 349.0,866.7 349.5,866.1 350.0,865.5 350.5,864.9 351.0,864.2 351.5,863.6 352.0,863.0 352.5,862.4 353.1,861.8 353.6,861.2 354.1,860.6 354.6,860.0 355.1,859.5 355.6,858.9 356.1,858.4 356.6,857.8 357.1,857.3 357.7,856.8 358.2,856.3 358.7,855.8 359.2,855.4 359.7,854.9 360.2,854.4 360.7,854.0 361.2,853.5 361.8,853.1 362.3,852.6 362.8,852.2 363.3,851.8 363.8,851.3 364.3,850.9 364.8,850.4 365.3,850.0 365.9,849.6 366.4,849.1 366.9,848.6 367.4,848.2 367.9,847.7 368.4,847.2 368.9,846.7 369.4,846.3 370.0,845.8 370.5,845.3 371.0,844.8 371.5,844.3 372.0,843.8 372.5,843.3 373.0,842.8 373.5,842.3 374.1,841.7 374.6,841.2 375.1,840.7 375.6,840.2 376.1,839.7" fill="none" stroke="#008000" stroke-width="1.1" stroke-linejoin="round"/>
<polyline points="69.3,817.8 69.8,818.7 70.3,819.6 70.8,820.5 71.3,821.4 71.9,822.4 72.4,823.3 72.9,824.3 73.4,825.3 73.9,826.2 74.4,827.2 74.9,828.2 75.4,829.3 76.0,830.3 76.5,831.3 77.0,832.4 77.5,833.5 78.0,834.7 78.5,835.8 79.0,836.9 79.5,838.1 80.1,839.2 80.6,840.4 81.1,841.5 81.6,842.6 82.1,843.7 82.6,844.8 83.1,845.9 83.6,847.0 84.2,848.0 84.7,849.1 85.2,850.2 85.7,851.3 86.2,852.3 86.7,853.4 87.2,854.4 87.7,855.5 88.3,856.5 88.8,857.6 89.3,858.6 89.8,859.6 90.3,860.6 90.8,861.6 91.3,862.6 91.8,863.6 92.3,864.7 92.9,865.6 93.4,866.6 93.9,867.6 94.4,868.5 94.9,869.4 95.4,870.3 95.9,871.1 96.4,871.9 97.0,872.7 97.5,873.5 98.0,874.3 98.5,875.1 99.0,875.9 99.5,876.7 100.0,877.5 100.5,878.2 101.1,878.9 101.6,879.6 102.1,880.3 102.6,880.9 103.1,881.5 103.6,882.1 104.1,882.6 104.6,883.0 105.2,883.4 105.7,883.7 106.2,884.0 106.7,884.2 107.2,884.5 107.7,884.8 108.2,885.0 108.7,885.2 109.3,885.5 109.8,885.7 110.3,885.9 110.8,886.1 111.3,886.3 111.8,886.5 112.3,886.7 112.8,886.8 113.3,887.0 113.9,887.2 114.4,887.3 114.9,887.5 115.4,887.7 115.9,887.8 116.4,887.9 116.9,888.1 117.4,888.2 118.0,888.4 118.5,888.5 119.0,888.6 119.5,888.7 120.0,888.9 120.5,889.0 121.0,889.1 121.5,889.2 122.1,889.3 122.6,889.4 123.1,889.5 123.6,889.7 124.1,889.8 124.6,889.9 125.1,890.0 125.6,890.1 126.2,890.2 126.7,890.3 127.2,890.4 127.7,890.6 128.2,890.7 128.7,890.8 129.2,890.9 129.7,891.0 130.3,891.2 130.8,891.3 131.3,891.4 131.8,891.6 132.3,891.7 132.8,891.8 133.3,892.0 133.8,892.1 134.3,892.3 134.9,892.4 135.4,892.6 135.9,892.8 136.4,893.0 136.9,893.1 137.4,893.3 137.9,893.5 138.4,893.7 139.0,893.8 139.5,894.0 140.0,894.2 140.5,894.4 141.0,894.5 141.5,894.7 142.0,894.9 142.5,895.1 143.1,895.2 143.6,895.4 144.1,895.6 144.6,895.8 145.1,896.0 145.6,896.1 146.1,896.3 146.6,896.5 147.2,896.7 147.7,896.9 148.2,897.1 148.7,897.2 149.2,897.4 149.7,897.6 150.2,897.8 150.7,898.0 151.2,898.2 151.8,898.4 152.3,898.6 152.8,898.8 153.3,899.0 153.8,899.2 154.3,899.4 154.8,899.6 155.3,899.8 155.9,900.1 156.4,900.3 156.9,900.5 157.4,900.7 157.9,900.9 158.4,901.2 158.9,901.4 159.4,901.6 160.0,901.9 160.5,902.1 161.0,902.3 161.5,902.6 162.0,902.8 162.5,903.1 163.0,903.3 163.5,903.6 164.1,903.8 164.6,904.1 165.1,904.4 165.6,904.6 166.1,904.9 166.6,905.2 167.1,905.5 167.6,905.8 168.2,906.1 168.7,906.5 169.2,906.8 169.7,907.2 170.2,907.6 170.7,908.0 171.2,908.4 171.7,908.8 172.2,909.2 172.8,909.6 173.3,910.1 173.8,910.5 174.3,911.0 174.8,911.4 175.3,911.9 175.8,912.4 176.3,912.8 176.9,913.3 177.4,913.8 177.9,914.2 178.4,914.7 178.9,915.2 179.4,915.6 179.9,916.1 180.4,916.5 181.0,917.0 181.5,917.4 182.0,917.8 182.5,918.3 183.0,918.7 183.5,919.1 184.0,919.5 184.5,919.8 185.1,920.2 185.6,920.5 186.1,920.9 186.6,921.2 187.1,921.5 187.6,921.8 188.1,922.1 188.6,922.4 189.2,922.6 189.7,922.9 190.2,923.2 190.7,923.4 191.2,923.7 191.7,924.0 192.2,924.2 192.7,924.5 193.2,924.7 193.8,925.0 194.3,925.2 194.8,925.4 195.3,925.7 195.8,925.9 196.3,926.1 196.8,926.3 197.3,926.6 197.9,926.8 198.4,927.0 198.9,927.2 199.4,927.4 199.9,927.6 200.4,927.8 200.9,928.0 201.4,928.2 202.0,928.4 202.5,928.6 203.0,928.8 203.5,929.0 204.0,929.2 204.5,929.3 205.0,929.5 205.5,929.7 206.1,929.8 206.6,930.0 207.1,930.1 207.6,930.3 208.1,930.4 208.6,930.5 209.1,930.7 209.6,930.8 210.2,930.9 210.7,931.1 211.2,931.2 211.7,931.4 212.2,931.5 212.7,931.7 213.2,931.8 213.7,932.0 214.2,932.2 214.8,932.4 215.3,932.5 215.8,932.8 216.3,933.0 216.8,933.2 217.3,933.5 217.8,933.7 218.3,934.1 218.9,934.4 219.4,934.7 219.9,935.1 220.4,935.4 220.9,935.8 221.4,936.1 221.9,936.4 222.4,936.8 223.0,937.1 223.5,937.5 224.0,937.9 224.5,938.3 225.0,938.7 225.5,939.1 226.0,939.5 226.5,939.9 227.1,940.2 227.6,940.5 228.1,940.7 228.6,940.9 229.1,940.9 229.6,940.7 230.1,940.1 230.6,939.1 231.2,937.9 231.7,936.4 232.2,934.8 232.7,933.1 233.2,931.4 233.7,929.7 234.2,928.1 234.7,926.7 235.2,925.5 235.8,924.5 236.3,923.6 236.8,922.7 237.3,921.8 237.8,920.9 238.3,920.0 238.8,919.1 239.3,918.3 239.9,917.5 240.4,916.6 240.9,915.8 241.4,915.1 241.9,914.3 242.4,913.6 242.9,912.8 243.4,912.1 244.0,911.5 244.5,910.8 245.0,910.2 245.5,909.6 246.0,909.0 246.5,908.4 247.0,907.9 247.5,907.3 248.1,906.9 248.6,906.4 249.1,906.0 249.6,905.5 250.1,905.1 250.6,904.8 251.1,904.4 251.6,904.0 252.2,903.7 252.7,903.3 253.2,903.0 253.7,902.6 254.2,902.3 254.7,902.0 255.2,901.6 255.7,901.3 256.2,901.0 256.8,900.7 257.3,900.4 257.8,900.1 258.3,899.8 258.8,899.6 259.3,899.3 259.8,899.0 260.3,898.7 260.9,898.5 261.4,898.2 261.9,898.0 262.4,897.7 262.9,897.5 263.4,897.2 263.9,897.0 264.4,896.8 265.0,896.5 265.5,896.3 266.0,896.1 266.5,895.9 267.0,895.6 267.5,895.4 268.0,895.2 268.5,895.0 269.1,894.8 269.6,894.6 270.1,894.4 270.6,894.2 271.1,894.0 271.6,893.8 272.1,893.6 272.6,893.4 273.2,893.2 273.7,893.0 274.2,892.8 274.7,892.6 275.2,892.4 275.7,892.1 276.2,891.9 276.7,891.7 277.2,891.5 277.8,891.3 278.3,891.1 278.8,890.9 279.3,890.7 279.8,890.5 280.3,890.3 280.8,890.1 281.3,889.9 281.9,889.7 282.4,889.5 282.9,889.3 283.4,889.1 283.9,888.9 284.4,888.7 284.9,888.6 285.4,888.4 286.0,888.2 286.5,888.0 287.0,887.8 287.5,887.7 288.0,887.5 288.5,887.3 289.0,887.2 289.5,887.0 290.1,886.8 290.6,886.7 291.1,886.5 291.6,886.3 292.1,886.2 292.6,886.0 293.1,885.9 293.6,885.7 294.2,885.5 294.7,885.4 295.2,885.2 295.7,885.1 296.2,884.9 296.7,884.7 297.2,884.6 297.7,884.4 298.2,884.2 298.8,884.1 299.3,883.9 299.8,883.7 300.3,883.6 300.8,883.4 301.3,883.2 301.8,883.1 302.3,882.9 302.9,882.7 303.4,882.5 303.9,882.3 304.4,882.1 304.9,882.0 305.4,881.8 305.9,881.6 306.4,881.4 307.0,881.2 307.5,881.0 308.0,880.8 308.5,880.5 309.0,880.3 309.5,880.1 310.0,879.9 310.5,879.6 311.1,879.4 311.6,879.2 312.1,878.9 312.6,878.7 313.1,878.4 313.6,878.2 314.1,877.9 314.6,877.6 315.1,877.4 315.7,877.1 316.2,876.8 316.7,876.5 317.2,876.2 317.7,875.9 318.2,875.6 318.7,875.3 319.2,875.0 319.8,874.7 320.3,874.4 320.8,874.1 321.3,873.8 321.8,873.5 322.3,873.1 322.8,872.8 323.3,872.5 323.9,872.2 324.4,871.8 324.9,871.5 325.4,871.2 325.9,870.8 326.4,870.5 326.9,870.1 327.4,869.7 328.0,869.4 328.5,869.0 329.0,868.6 329.5,868.2 330.0,867.8 330.5,867.4 331.0,867.0 331.5,866.6 332.1,866.2 332.6,865.8 333.1,865.4 333.6,865.0 334.1,864.6 334.6,864.1 335.1,863.7 335.6,863.3 336.1,862.9 336.7,862.4 337.2,862.0 337.7,861.6 338.2,861.1 338.7,860.7 339.2,860.3 339.7,859.8 340.2,859.4 340.8,858.9 341.3,858.5 341.8,858.0 342.3,857.6 342.8,857.1 343.3,856.6 343.8,856.2 344.3,855.7 344.9,855.2 345.4,854.8 345.9,854.3 346.4,853.8 346.9,853.3 347.4,852.8 347.9,852.3 348.4,851.8 349.0,851.2 349.5,850.7 350.0,850.2 350.5,849.6 351.0,849.1 351.5,848.5 352.0,848.0 352.5,847.4 353.1,846.8 353.6,846.1 354.1,845.5 354.6,844.9 355.1,844.2 355.6,843.6 356.1,842.9 356.6,842.3 357.1,841.6 357.7,840.9 358.2,840.3 358.7,839.6 359.2,838.9 359.7,838.2 360.2,837.6 360.7,836.9 361.2,836.2 361.8,835.6 362.3,834.9 362.8,834.3 363.3,833.6 363.8,833.0 364.3,832.3 364.8,831.7 365.3,831.1 365.9,830.5 366.4,829.9 366.9,829.3 367.4,828.8 367.9,828.2 368.4,827.6 368.9,827.1 369.4,826.5 370.0,826.0 370.5,825.5 371.0,824.9 371.5,824.4 372.0,823.9 372.5,823.4 373.0,822.8 373.5,822.3 374.1,821.8 374.6,821.3 375.1,820.8 375.6,820.3 376.1,819.8" fill="none" stroke="#008000" stroke-width="1.1" stroke-linejoin="round"/>
<polyline points="69.3,798.0 69.8,801.4 70.3,803.3 70.8,805.0 71.3,806.5 71.9,807.8 72.4,809.0 72.9,810.1 73.4,811.1 73.9,812.0 74.4,812.9 74.9,813.8 75.4,814.6 76.0,815.5 76.5,816.5 77.0,817.5 77.5,818.5 78.0,819.5 78.5,820.5 79.0,821.5 79.5,822.5 80.1,823.5 80.6,824.4 81.1,825.4 81.6,826.3 82.1,827.3 82.6,828.2 83.1,829.2 83.6,830.1 84.2,831.1 84.7,832.0 85.2,833.0 85.7,833.9 86.2,834.9 86.7,835.8 87.2,836.8 87.7,837.7 88.3,838.6 88.8,839.6 89.3,840.5 89.8,841.4 90.3,842.4 90.8,843.3 91.3,844.3 91.8,845.2 92.3,846.2 92.9,847.1 93.4,848.1 93.9,849.1 94.4,850.1 94.9,851.1 95.4,852.0 95.9,853.0 96.4,854.0 97.0,855.0 97.5,855.9 98.0,856.9 98.5,857.9 99.0,858.8 99.5,859.7 100.0,860.6 100.5,861.6 101.1,862.5 101.6,863.5 102.1,864.5 102.6,865.5 103.1,866.5 103.6,867.5 104.1,868.4 104.6,869.3 105.2,870.2 105.7,871.0 106.2,871.7 106.7,872.4 107.2,873.0 107.7,873.5 108.2,873.9 108.7,874.4 109.3,874.8 109.8,875.2 110.3,875.6 110.8,875.9 111.3,876.3 111.8,876.6 112.3,876.9 112.8,877.2 113.3,877.5 113.9,877.7 114.4,878.0 114.9,878.2 115.4,878.4 115.9,878.6 116.4,878.8 116.9,879.0 117.4,879.1 118.0,879.3 118.5,879.5 119.0,879.6 119.5,879.7 120.0,879.9 120.5,880.0 121.0,880.1 121.5,880.3 122.1,880.4 122.6,880.5 123.1,880.6 123.6,880.7 124.1,880.8 124.6,880.9 125.1,881.0 125.6,881.1 126.2,881.2 126.7,881.3 127.2,881.4 127.7,881.5 128.2,881.7 128.7,881.8 129.2,881.9 129.7,882.0 130.3,882.1 130.8,882.2 131.3,882.3 131.8,882.5 132.3,882.6 132.8,882.7 133.3,882.9 133.8,883.0 134.3,883.2 134.9,883.3 135.4,883.4 135.9,883.6 136.4,883.7 136.9,883.8 137.4,884.0 137.9,884.1 138.4,884.3 139.0,884.4 139.5,884.6 140.0,884.7 140.5,884.8 141.0,885.0 141.5,885.1 142.0,885.3 142.5,885.4 143.1,885.6 143.6,885.7 144.1,885.9 144.6,886.0 145.1,886.2 145.6,886.3 146.1,886.5 146.6,886.6 147.2,886.8 147.7,886.9 148.2,887.1 148.7,887.2 149.2,887.4 149.7,887.5 150.2,887.7 150.7,887.8 151.2,888.0 151.8,888.1 152.3,888.3 152.8,888.4 153.3,888.6 153.8,888.8 154.3,888.9 154.8,889.1 155.3,889.2 155.9,889.4 156.4,889.6 156.9,889.7 157.4,889.9 157.9,890.0 158.4,890.2 158.9,890.4 159.4,890.5 160.0,890.7 160.5,890.9 161.0,891.0 161.5,891.2 162.0,891.4 162.5,891.5 163.0,891.7 163.5,891.9 164.1,892.0 164.6,892.2 165.1,892.4 165.6,892.5 166.1,892.7 166.6,892.9 167.1,893.1 167.6,893.2 168.2,893.4 168.7,893.6 169.2,893.8 169.7,893.9 170.2,894.1 170.7,894.3 171.2,894.4 171.7,894.6 172.2,894.8 172.8,895.0 173.3,895.2 173.8,895.3 174.3,895.5 174.8,895.7 175.3,895.9 175.8,896.1 176.3,896.2 176.9,896.4 177.4,896.6 177.9,896.8 178.4,897.0 178.9,897.2 179.4,897.4 179.9,897.6 180.4,897.8 181.0,898.0 181.5,898.2 182.0,898.4 182.5,898.6 183.0,898.9 183.5,899.1 184.0,899.3 184.5,899.5 185.1,899.7 185.6,900.0 186.1,900.2 186.6,900.4 187.1,900.7 187.6,900.9 188.1,901.2 188.6,901.4 189.2,901.7 189.7,901.9 190.2,902.2 190.7,902.4 191.2,902.7 191.7,903.0 192.2,903.2 192.7,903.5 193.2,903.8 193.8,904.0 194.3,904.3 194.8,904.6 195.3,904.9 195.8,905.2 196.3,905.5 196.8,905.8 197.3,906.1 197.9,906.4 198.4,906.7 198.9,907.0 199.4,907.3 199.9,907.6 200.4,907.9 200.9,908.2 201.4,908.5 202.0,908.9 202.5,909.2 203.0,909.5 203.5,909.8 204.0,910.1 204.5,910.5 205.0,910.8 205.5,911.1 206.1,911.5 206.6,911.8 207.1,912.2 207.6,912.6 208.1,912.9 208.6,913.3 209.1,913.7 209.6,914.1 210.2,914.5 210.7,914.9 211.2,915.4 211.7,915.8 212.2,916.3 212.7,916.7 213.2,917.2 213.7,917.7 214.2,918.2 214.8,918.8 215.3,919.3 215.8,919.9 216.3,920.5 216.8,921.1 217.3,921.8 217.8,922.5 218.3,923.2 218.9,924.0 219.4,924.9 219.9,925.9 220.4,926.9 220.9,927.9 221.4,929.1 221.9,930.5 222.4,932.6 223.0,935.2 223.5,938.1 224.0,941.2 224.5,944.2 225.0,947.1 225.5,949.5 226.0,951.4 226.5,952.5 227.1,952.8 227.6,952.7 228.1,952.5 228.6,952.2 229.1,951.8 229.6,951.4 230.1,950.8 230.6,950.2 231.2,949.5 231.7,948.8 232.2,948.0 232.7,947.3 233.2,946.5 233.7,945.7 234.2,944.9 234.7,944.0 235.2,943.0 235.8,941.8 236.3,940.5 236.8,939.0 237.3,937.5 237.8,935.8 238.3,934.2 238.8,932.4 239.3,930.7 239.9,929.1 240.4,927.4 240.9,925.9 241.4,924.5 241.9,923.1 242.4,922.0 242.9,921.0 243.4,920.2 244.0,919.4 244.5,918.7 245.0,917.9 245.5,917.2 246.0,916.4 246.5,915.7 247.0,915.0 247.5,914.3 248.1,913.6 248.6,913.0 249.1,912.3 249.6,911.7 250.1,911.2 250.6,910.7 251.1,910.2 251.6,909.7 252.2,909.3 252.7,908.9 253.2,908.6 253.7,908.3 254.2,908.0 254.7,907.8 255.2,907.7 255.7,907.6 256.2,907.6 256.8,907.5 257.3,907.5 257.8,907.5 258.3,907.5 258.8,907.5 259.3,907.4 259.8,907.4 260.3,907.4 260.9,907.4 261.4,907.4 261.9,907.4 262.4,907.4 262.9,907.4 263.4,907.4 263.9,907.4 264.4,907.4 265.0,907.4 265.5,907.3 266.0,907.3 266.5,907.3 267.0,907.3 267.5,907.3 268.0,907.3 268.5,907.3 269.1,907.3 269.6,907.3 270.1,907.3 270.6,907.3 271.1,907.2 271.6,907.2 272.1,907.2 272.6,907.2 273.2,907.2 273.7,907.2 274.2,907.1 274.7,907.1 275.2,907.0 275.7,906.9 276.2,906.9 276.7,906.8 277.2,906.7 277.8,906.6 278.3,906.4 278.8,906.3 279.3,906.2 279.8,906.0 280.3,905.9 280.8,905.7 281.3,905.5 281.9,905.4 282.4,905.2 282.9,905.0 283.4,904.8 283.9,904.6 284.4,904.5 284.9,904.3 285.4,904.1 286.0,903.9 286.5,903.7 287.0,903.5 287.5,903.3 288.0,903.1 288.5,902.9 289.0,902.7 289.5,902.5 290.1,902.3 290.6,902.1 291.1,901.9 291.6,901.7 292.1,901.5 292.6,901.3 293.1,901.1 293.6,900.9 294.2,900.7 294.7,900.5 295.2,900.3 295.7,900.1 296.2,899.8 296.7,899.6 297.2,899.4 297.7,899.1 298.2,898.9 298.8,898.7 299.3,898.4 299.8,898.2 300.3,897.9 300.8,897.7 301.3,897.4 301.8,897.2 302.3,896.9 302.9,896.7 303.4,896.4 303.9,896.2 304.4,895.9 304.9,895.7 305.4,895.4 305.9,895.2 306.4,894.9 307.0,894.6 307.5,894.4 308.0,894.1 308.5,893.9 309.0,893.6 309.5,893.4 310.0,893.1 310.5,892.9 311.1,892.6 311.6,892.4 312.1,892.2 312.6,891.9 313.1,891.7 313.6,891.4 314.1,891.1 314.6,890.9 315.1,890.6 315.7,890.3 316.2,890.0 316.7,889.7 317.2,889.4 317.7,889.0 318.2,888.7 318.7,888.3 319.2,887.9 319.8,887.4 320.3,887.0 320.8,886.5 321.3,885.9 321.8,885.3 322.3,884.7 322.8,884.1 323.3,883.4 323.9,882.8 324.4,882.1 324.9,881.4 325.4,880.7 325.9,879.9 326.4,879.2 326.9,878.4 327.4,877.7 328.0,876.9 328.5,876.2 329.0,875.4 329.5,874.5 330.0,873.7 330.5,872.8 331.0,871.9 331.5,871.0 332.1,870.1 332.6,869.1 333.1,868.1 333.6,867.2 334.1,866.2 334.6,865.2 335.1,864.2 335.6,863.1 336.1,862.0 336.7,860.9 337.2,859.7 337.7,858.4 338.2,857.2 338.7,856.0 339.2,854.7 339.7,853.5 340.2,852.3 340.8,851.1 341.3,850.0 341.8,849.0 342.3,848.0 342.8,847.1 343.3,846.2 343.8,845.4 344.3,844.6 344.9,843.9 345.4,843.2 345.9,842.5 346.4,841.8 346.9,841.1 347.4,840.4 347.9,839.8 348.4,839.1 349.0,838.5 349.5,837.8 350.0,837.2 350.5,836.5 351.0,835.9 351.5,835.2 352.0,834.5 352.5,833.8 353.1,833.1 353.6,832.4 354.1,831.7 354.6,831.0 355.1,830.3 355.6,829.6 356.1,828.9 356.6,828.2 357.1,827.6 357.7,826.9 358.2,826.3 358.7,825.7 359.2,825.1 359.7,824.6 360.2,824.0 360.7,823.5 361.2,822.9 361.8,822.4 362.3,821.9 362.8,821.4 363.3,820.9 363.8,820.4 364.3,819.9 364.8,819.4 365.3,818.9 365.9,818.4 366.4,818.0 366.9,817.5 367.4,817.1 367.9,816.6 368.4,816.2 368.9,815.8 369.4,815.4 370.0,815.0 370.5,814.6 371.0,814.2 371.5,813.8 372.0,813.4 372.5,812.9 373.0,812.5 373.5,812.0 374.1,811.5 374.6,810.9 375.1,810.4 375.6,809.7 376.1,809.1" fill="none" stroke="#008000" stroke-width="1.1" stroke-linejoin="round"/>
<polyline points="217.2,935.0 218.5,992.5 219.8,938.9" fill="none" stroke="#008000" stroke-width="1.1" stroke-linejoin="round"/>
<polyline points="218.9,935.0 220.1,972.7 221.4,938.9" fill="none" stroke="#008000" stroke-width="1.1" stroke-linejoin="round"/>
<polyline points="220.1,935.0 221.4,984.6 222.7,938.9" fill="none" stroke="#008000" stroke-width="1.1" stroke-linejoin="round"/>
<polyline points="221.4,935.0 222.7,964.7 224.0,938.9" fill="none" stroke="#008000" stroke-width="1.1" stroke-linejoin="round"/>
<polyline points="222.3,935.0 223.6,992.5 224.9,938.9" fill="none" stroke="#008000" stroke-width="1.1" stroke-linejoin="round"/>
<polyline points="223.3,935.0 224.6,968.7 225.9,938.9" fill="none" stroke="#008000" stroke-width="1.1" stroke-linejoin="round"/>
<polyline points="224.2,935.0 225.5,960.8 226.8,938.9" fill="none" stroke="#008000" stroke-width="1.1" stroke-linejoin="round"/>
<polyline points="226.5,944.9 227.4,980.6 227.4,1007.6" fill="none" stroke="#008000" stroke-width="1.2" stroke-linejoin="round"/>
<polyline points="225.3,1007.6 229.7,1007.6" fill="none" stroke="#008000" stroke-width="1.6" stroke-linejoin="round"/>
<circle cx="74.41" cy="840.07" r="5.60" fill="#fff" stroke="#008000" stroke-width="1.7"/>
<circle cx="82.15" cy="852.88" r="5.60" fill="#fff" stroke="#008000" stroke-width="1.7"/>
<circle cx="89.88" cy="865.22" r="5.60" fill="#fff" stroke="#008000" stroke-width="1.7"/>
<circle cx="97.62" cy="882.49" r="5.60" fill="#fff" stroke="#008000" stroke-width="1.7"/>
<circle cx="105.35" cy="887.71" r="5.60" fill="#fff" stroke="#008000" stroke-width="1.7"/>
<circle cx="113.08" cy="889.13" r="5.60" fill="#fff" stroke="#008000" stroke-width="1.7"/>
<circle cx="120.82" cy="889.95" r="5.60" fill="#fff" stroke="#008000" stroke-width="1.7"/>
<circle cx="128.55" cy="890.68" r="5.60" fill="#fff" stroke="#008000" stroke-width="1.7"/>
<circle cx="136.28" cy="891.75" r="5.60" fill="#fff" stroke="#008000" stroke-width="1.7"/>
<circle cx="144.02" cy="892.88" r="5.60" fill="#fff" stroke="#008000" stroke-width="1.7"/>
<circle cx="151.75" cy="894.10" r="5.60" fill="#fff" stroke="#008000" stroke-width="1.7"/>
<circle cx="159.49" cy="895.57" r="5.60" fill="#fff" stroke="#008000" stroke-width="1.7"/>
<circle cx="167.22" cy="897.46" r="5.60" fill="#fff" stroke="#008000" stroke-width="1.7"/>
<circle cx="174.95" cy="900.50" r="5.60" fill="#fff" stroke="#008000" stroke-width="1.7"/>
<circle cx="182.69" cy="904.59" r="5.60" fill="#fff" stroke="#008000" stroke-width="1.7"/>
<circle cx="190.42" cy="908.97" r="5.60" fill="#fff" stroke="#008000" stroke-width="1.7"/>
<circle cx="198.16" cy="913.56" r="5.60" fill="#fff" stroke="#008000" stroke-width="1.7"/>
<circle cx="205.89" cy="918.51" r="5.60" fill="#fff" stroke="#008000" stroke-width="1.7"/>
<circle cx="213.62" cy="923.18" r="5.60" fill="#fff" stroke="#008000" stroke-width="1.7"/>
<circle cx="221.36" cy="927.91" r="5.60" fill="#fff" stroke="#008000" stroke-width="1.7"/>
<circle cx="229.09" cy="936.94" r="5.60" fill="#fff" stroke="#008000" stroke-width="1.7"/>
<circle cx="236.83" cy="928.00" r="5.60" fill="#fff" stroke="#008000" stroke-width="1.7"/>
<circle cx="244.56" cy="925.61" r="5.60" fill="#fff" stroke="#008000" stroke-width="1.7"/>
<circle cx="252.29" cy="933.73" r="5.60" fill="#fff" stroke="#008000" stroke-width="1.7"/>
<circle cx="260.03" cy="914.91" r="5.60" fill="#fff" stroke="#008000" stroke-width="1.7"/>
<circle cx="267.76" cy="911.13" r="5.60" fill="#fff" stroke="#008000" stroke-width="1.7"/>
<circle cx="275.50" cy="908.52" r="5.60" fill="#fff" stroke="#008000" stroke-width="1.7"/>
<circle cx="283.23" cy="905.82" r="5.60" fill="#fff" stroke="#008000" stroke-width="1.7"/>
<circle cx="290.96" cy="902.99" r="5.60" fill="#fff" stroke="#008000" stroke-width="1.7"/>
<circle cx="298.70" cy="899.69" r="5.60" fill="#fff" stroke="#008000" stroke-width="1.7"/>
<circle cx="306.43" cy="896.14" r="5.60" fill="#fff" stroke="#008000" stroke-width="1.7"/>
<circle cx="314.16" cy="892.68" r="5.60" fill="#fff" stroke="#008000" stroke-width="1.7"/>
<circle cx="321.90" cy="889.03" r="5.60" fill="#fff" stroke="#008000" stroke-width="1.7"/>
<circle cx="329.63" cy="884.22" r="5.60" fill="#fff" stroke="#008000" stroke-width="1.7"/>
<circle cx="337.37" cy="877.99" r="5.60" fill="#fff" stroke="#008000" stroke-width="1.7"/>
<circle cx="345.10" cy="870.85" r="5.60" fill="#fff" stroke="#008000" stroke-width="1.7"/>
<circle cx="352.83" cy="862.06" r="5.60" fill="#fff" stroke="#008000" stroke-width="1.7"/>
<circle cx="360.57" cy="854.14" r="5.60" fill="#fff" stroke="#008000" stroke-width="1.7"/>
<circle cx="368.30" cy="847.34" r="5.60" fill="#fff" stroke="#008000" stroke-width="1.7"/>
<circle cx="376.04" cy="839.74" r="5.60" fill="#fff" stroke="#008000" stroke-width="1.7"/>
<polygon points="72.50,815.96 80.10,823.56 72.50,831.16 64.90,823.56" fill="#fff" stroke="#008000" stroke-width="1.7"/>
<polygon points="80.17,831.86 87.77,839.46 80.17,847.06 72.57,839.46" fill="#fff" stroke="#008000" stroke-width="1.7"/>
<polygon points="87.84,848.09 95.44,855.69 87.84,863.29 80.24,855.69" fill="#fff" stroke="#008000" stroke-width="1.7"/>
<polygon points="95.51,862.82 103.11,870.42 95.51,878.02 87.91,870.42" fill="#fff" stroke="#008000" stroke-width="1.7"/>
<polygon points="103.18,874.00 110.78,881.60 103.18,889.20 95.58,881.60" fill="#fff" stroke="#008000" stroke-width="1.7"/>
<polygon points="110.85,878.51 118.45,886.11 110.85,893.71 103.25,886.11" fill="#fff" stroke="#008000" stroke-width="1.7"/>
<polygon points="118.52,880.89 126.12,888.49 118.52,896.09 110.92,888.49" fill="#fff" stroke="#008000" stroke-width="1.7"/>
<polygon points="126.19,882.62 133.79,890.22 126.19,897.82 118.59,890.22" fill="#fff" stroke="#008000" stroke-width="1.7"/>
<polygon points="133.86,884.53 141.46,892.13 133.86,899.73 126.26,892.13" fill="#fff" stroke="#008000" stroke-width="1.7"/>
<polygon points="141.53,887.11 149.13,894.71 141.53,902.31 133.93,894.71" fill="#fff" stroke="#008000" stroke-width="1.7"/>
<polygon points="149.20,889.83 156.80,897.43 149.20,905.03 141.60,897.43" fill="#fff" stroke="#008000" stroke-width="1.7"/>
<polygon points="156.87,892.88 164.47,900.48 156.87,908.08 149.27,900.48" fill="#fff" stroke="#008000" stroke-width="1.7"/>
<polygon points="164.54,896.49 172.14,904.09 164.54,911.69 156.94,904.09" fill="#fff" stroke="#008000" stroke-width="1.7"/>
<polygon points="172.21,901.57 179.81,909.17 172.21,916.77 164.61,909.17" fill="#fff" stroke="#008000" stroke-width="1.7"/>
<polygon points="179.88,908.42 187.48,916.02 179.88,923.62 172.28,916.02" fill="#fff" stroke="#008000" stroke-width="1.7"/>
<polygon points="187.55,914.15 195.15,921.75 187.55,929.35 179.95,921.75" fill="#fff" stroke="#008000" stroke-width="1.7"/>
<polygon points="195.22,918.03 202.82,925.63 195.22,933.23 187.62,925.63" fill="#fff" stroke="#008000" stroke-width="1.7"/>
<polygon points="202.89,921.16 210.49,928.76 202.89,936.36 195.29,928.76" fill="#fff" stroke="#008000" stroke-width="1.7"/>
<polygon points="210.56,923.46 218.16,931.06 210.56,938.66 202.96,931.06" fill="#fff" stroke="#008000" stroke-width="1.7"/>
<polygon points="218.23,926.38 225.83,933.98 218.23,941.58 210.63,933.98" fill="#fff" stroke="#008000" stroke-width="1.7"/>
<polygon points="225.90,931.82 233.50,939.42 225.90,947.02 218.30,939.42" fill="#fff" stroke="#008000" stroke-width="1.7"/>
<polygon points="233.57,922.59 241.17,930.19 233.57,937.79 225.97,930.19" fill="#fff" stroke="#008000" stroke-width="1.7"/>
<polygon points="241.24,907.71 248.84,915.31 241.24,922.91 233.64,915.31" fill="#fff" stroke="#008000" stroke-width="1.7"/>
<polygon points="248.91,898.50 256.51,906.10 248.91,913.70 241.31,906.10" fill="#fff" stroke="#008000" stroke-width="1.7"/>
<polygon points="256.58,893.21 264.18,900.81 256.58,908.41 248.98,900.81" fill="#fff" stroke="#008000" stroke-width="1.7"/>
<polygon points="264.25,889.26 271.85,896.86 264.25,904.46 256.65,896.86" fill="#fff" stroke="#008000" stroke-width="1.7"/>
<polygon points="271.92,886.04 279.52,893.64 271.92,901.24 264.32,893.64" fill="#fff" stroke="#008000" stroke-width="1.7"/>
<polygon points="279.59,883.00 287.19,890.60 279.59,898.20 271.99,890.60" fill="#fff" stroke="#008000" stroke-width="1.7"/>
<polygon points="287.26,880.15 294.86,887.75 287.26,895.35 279.66,887.75" fill="#fff" stroke="#008000" stroke-width="1.7"/>
<polygon points="294.93,877.70 302.53,885.30 294.93,892.90 287.33,885.30" fill="#fff" stroke="#008000" stroke-width="1.7"/>
<polygon points="302.60,875.19 310.20,882.79 302.60,890.39 295.00,882.79" fill="#fff" stroke="#008000" stroke-width="1.7"/>
<polygon points="310.27,872.17 317.87,879.77 310.27,887.37 302.67,879.77" fill="#fff" stroke="#008000" stroke-width="1.7"/>
<polygon points="317.94,868.21 325.54,875.81 317.94,883.41 310.34,875.81" fill="#fff" stroke="#008000" stroke-width="1.7"/>
<polygon points="325.61,863.41 333.21,871.01 325.61,878.61 318.01,871.01" fill="#fff" stroke="#008000" stroke-width="1.7"/>
<polygon points="333.28,857.64 340.88,865.24 333.28,872.84 325.68,865.24" fill="#fff" stroke="#008000" stroke-width="1.7"/>
<polygon points="340.95,851.16 348.55,858.76 340.95,866.36 333.35,858.76" fill="#fff" stroke="#008000" stroke-width="1.7"/>
<polygon points="348.62,843.98 356.22,851.58 348.62,859.18 341.02,851.58" fill="#fff" stroke="#008000" stroke-width="1.7"/>
<polygon points="356.29,835.13 363.89,842.73 356.29,850.33 348.69,842.73" fill="#fff" stroke="#008000" stroke-width="1.7"/>
<polygon points="363.96,825.18 371.56,832.78 363.96,840.38 356.36,832.78" fill="#fff" stroke="#008000" stroke-width="1.7"/>
<polygon points="371.63,816.67 379.23,824.27 371.63,831.87 364.03,824.27" fill="#fff" stroke="#008000" stroke-width="1.7"/>
<polygon points="69.94,794.96 76.00,798.46 76.00,805.46 69.94,808.96 63.88,805.46 63.88,798.46" fill="#fff" stroke="#008000" stroke-width="1.7"/>
<polygon points="77.54,811.60 83.60,815.10 83.60,822.10 77.54,825.60 71.48,822.10 71.48,815.10" fill="#fff" stroke="#008000" stroke-width="1.7"/>
<polygon points="85.14,825.91 91.21,829.41 91.21,836.41 85.14,839.91 79.08,836.41 79.08,829.41" fill="#fff" stroke="#008000" stroke-width="1.7"/>
<polygon points="92.75,839.93 98.81,843.43 98.81,850.43 92.75,853.93 86.68,850.43 86.68,843.43" fill="#fff" stroke="#008000" stroke-width="1.7"/>
<polygon points="100.35,854.22 106.41,857.72 106.41,864.72 100.35,868.22 94.29,864.72 94.29,857.72" fill="#fff" stroke="#008000" stroke-width="1.7"/>
<polygon points="107.95,866.69 114.01,870.19 114.01,877.19 107.95,880.69 101.89,877.19 101.89,870.19" fill="#fff" stroke="#008000" stroke-width="1.7"/>
<polygon points="115.55,871.48 121.61,874.98 121.61,881.98 115.55,885.48 109.49,881.98 109.49,874.98" fill="#fff" stroke="#008000" stroke-width="1.7"/>
<polygon points="123.15,873.62 129.22,877.12 129.22,884.12 123.15,887.62 117.09,884.12 117.09,877.12" fill="#fff" stroke="#008000" stroke-width="1.7"/>
<polygon points="130.76,875.22 136.82,878.72 136.82,885.72 130.76,889.22 124.69,885.72 124.69,878.72" fill="#fff" stroke="#008000" stroke-width="1.7"/>
<polygon points="138.36,877.25 144.42,880.75 144.42,887.75 138.36,891.25 132.30,887.75 132.30,880.75" fill="#fff" stroke="#008000" stroke-width="1.7"/>
<polygon points="145.96,879.41 152.02,882.91 152.02,889.91 145.96,893.41 139.90,889.91 139.90,882.91" fill="#fff" stroke="#008000" stroke-width="1.7"/>
<polygon points="153.56,881.69 159.63,885.19 159.63,892.19 153.56,895.69 147.50,892.19 147.50,885.19" fill="#fff" stroke="#008000" stroke-width="1.7"/>
<polygon points="161.17,884.08 167.23,887.58 167.23,894.58 161.17,898.08 155.10,894.58 155.10,887.58" fill="#fff" stroke="#008000" stroke-width="1.7"/>
<polygon points="168.77,886.61 174.83,890.11 174.83,897.11 168.77,900.61 162.71,897.11 162.71,890.11" fill="#fff" stroke="#008000" stroke-width="1.7"/>
<polygon points="176.37,889.25 182.43,892.75 182.43,899.75 176.37,903.25 170.31,899.75 170.31,892.75" fill="#fff" stroke="#008000" stroke-width="1.7"/>
<polygon points="183.97,892.27 190.04,895.77 190.04,902.77 183.97,906.27 177.91,902.77 177.91,895.77" fill="#fff" stroke="#008000" stroke-width="1.7"/>
<polygon points="191.58,895.88 197.64,899.38 197.64,906.38 191.58,909.88 185.51,906.38 185.51,899.38" fill="#fff" stroke="#008000" stroke-width="1.7"/>
<polygon points="199.18,900.16 205.24,903.66 205.24,910.66 199.18,914.16 193.12,910.66 193.12,903.66" fill="#fff" stroke="#008000" stroke-width="1.7"/>
<polygon points="206.78,904.98 212.84,908.48 212.84,915.48 206.78,918.98 200.72,915.48 200.72,908.48" fill="#fff" stroke="#008000" stroke-width="1.7"/>
<polygon points="214.38,911.38 220.44,914.88 220.44,921.88 214.38,925.38 208.32,921.88 208.32,914.88" fill="#fff" stroke="#008000" stroke-width="1.7"/>
<polygon points="221.98,923.71 228.05,927.21 228.05,934.21 221.98,937.71 215.92,934.21 215.92,927.21" fill="#fff" stroke="#008000" stroke-width="1.7"/>
<polygon points="229.59,944.38 235.65,947.88 235.65,954.88 229.59,958.38 223.52,954.88 223.52,947.88" fill="#fff" stroke="#008000" stroke-width="1.7"/>
<polygon points="237.19,930.81 243.25,934.31 243.25,941.31 237.19,944.81 231.13,941.31 231.13,934.31" fill="#fff" stroke="#008000" stroke-width="1.7"/>
<polygon points="244.79,911.19 250.85,914.69 250.85,921.69 244.79,925.19 238.73,921.69 238.73,914.69" fill="#fff" stroke="#008000" stroke-width="1.7"/>
<polygon points="252.39,902.09 258.46,905.59 258.46,912.59 252.39,916.09 246.33,912.59 246.33,905.59" fill="#fff" stroke="#008000" stroke-width="1.7"/>
<polygon points="260.00,900.43 266.06,903.93 266.06,910.93 260.00,914.43 253.93,910.93 253.93,903.93" fill="#fff" stroke="#008000" stroke-width="1.7"/>
<polygon points="267.60,900.32 273.66,903.82 273.66,910.82 267.60,914.32 261.54,910.82 261.54,903.82" fill="#fff" stroke="#008000" stroke-width="1.7"/>
<polygon points="275.20,900.02 281.26,903.52 281.26,910.52 275.20,914.02 269.14,910.52 269.14,903.52" fill="#fff" stroke="#008000" stroke-width="1.7"/>
<polygon points="282.80,898.05 288.86,901.55 288.86,908.55 282.80,912.05 276.74,908.55 276.74,901.55" fill="#fff" stroke="#008000" stroke-width="1.7"/>
<polygon points="290.40,895.16 296.47,898.66 296.47,905.66 290.40,909.16 284.34,905.66 284.34,898.66" fill="#fff" stroke="#008000" stroke-width="1.7"/>
<polygon points="298.01,892.02 304.07,895.52 304.07,902.52 298.01,906.02 291.94,902.52 291.94,895.52" fill="#fff" stroke="#008000" stroke-width="1.7"/>
<polygon points="305.61,888.32 311.67,891.82 311.67,898.82 305.61,902.32 299.55,898.82 299.55,891.82" fill="#fff" stroke="#008000" stroke-width="1.7"/>
<polygon points="313.21,884.61 319.27,888.11 319.27,895.11 313.21,898.61 307.15,895.11 307.15,888.11" fill="#fff" stroke="#008000" stroke-width="1.7"/>
<polygon points="320.81,879.42 326.88,882.92 326.88,889.92 320.81,893.42 314.75,889.92 314.75,882.92" fill="#fff" stroke="#008000" stroke-width="1.7"/>
<polygon points="328.42,869.24 334.48,872.74 334.48,879.74 328.42,883.24 322.35,879.74 322.35,872.74" fill="#fff" stroke="#008000" stroke-width="1.7"/>
<polygon points="336.02,855.30 342.08,858.80 342.08,865.80 336.02,869.30 329.96,865.80 329.96,858.80" fill="#fff" stroke="#008000" stroke-width="1.7"/>
<polygon points="343.62,838.76 349.68,842.26 349.68,849.26 343.62,852.76 337.56,849.26 337.56,842.26" fill="#fff" stroke="#008000" stroke-width="1.7"/>
<polygon points="351.22,828.58 357.28,832.08 357.28,839.08 351.22,842.58 345.16,839.08 345.16,832.08" fill="#fff" stroke="#008000" stroke-width="1.7"/>
<polygon points="358.82,818.55 364.89,822.05 364.89,829.05 358.82,832.55 352.76,829.05 352.76,822.05" fill="#fff" stroke="#008000" stroke-width="1.7"/>
<polygon points="366.43,810.92 372.49,814.42 372.49,821.42 366.43,824.92 360.36,821.42 360.36,814.42" fill="#fff" stroke="#008000" stroke-width="1.7"/>
<polygon points="374.03,804.51 380.09,808.01 380.09,815.01 374.03,818.51 367.97,815.01 367.97,808.01" fill="#fff" stroke="#008000" stroke-width="1.7"/>
<polygon points="226.92,973.21 232.98,976.71 232.98,983.71 226.92,987.21 220.86,983.71 220.86,976.71" fill="#fff" stroke="#008000" stroke-width="1.7"/>
</g>
<rect x="69.3" y="770.2" width="306.8" height="238.2" fill="none" stroke="#000" stroke-width="2.9"/>
<line x1="69.3" y1="1008.4" x2="75.1" y2="1008.4" stroke="#000" stroke-width="2.2"/>
<line x1="69.3" y1="996.45" x2="72.7" y2="996.45" stroke="#000" stroke-width="1.8"/>
<line x1="69.3" y1="989.46" x2="72.7" y2="989.46" stroke="#000" stroke-width="1.8"/>
<line x1="69.3" y1="984.5" x2="72.7" y2="984.5" stroke="#000" stroke-width="1.8"/>
<line x1="69.3" y1="980.65" x2="72.7" y2="980.65" stroke="#000" stroke-width="1.8"/>
<line x1="69.3" y1="977.51" x2="72.7" y2="977.51" stroke="#000" stroke-width="1.8"/>
<line x1="69.3" y1="974.85" x2="72.7" y2="974.85" stroke="#000" stroke-width="1.8"/>
<line x1="69.3" y1="972.55" x2="72.7" y2="972.55" stroke="#000" stroke-width="1.8"/>
<line x1="69.3" y1="970.52" x2="72.7" y2="970.52" stroke="#000" stroke-width="1.8"/>
<line x1="69.3" y1="968.7" x2="75.1" y2="968.7" stroke="#000" stroke-width="2.2"/>
<line x1="69.3" y1="956.75" x2="72.7" y2="956.75" stroke="#000" stroke-width="1.8"/>
<line x1="69.3" y1="949.76" x2="72.7" y2="949.76" stroke="#000" stroke-width="1.8"/>
<line x1="69.3" y1="944.8" x2="72.7" y2="944.8" stroke="#000" stroke-width="1.8"/>
<line x1="69.3" y1="940.95" x2="72.7" y2="940.95" stroke="#000" stroke-width="1.8"/>
<line x1="69.3" y1="937.81" x2="72.7" y2="937.81" stroke="#000" stroke-width="1.8"/>
<line x1="69.3" y1="935.15" x2="72.7" y2="935.15" stroke="#000" stroke-width="1.8"/>
<line x1="69.3" y1="932.85" x2="72.7" y2="932.85" stroke="#000" stroke-width="1.8"/>
<line x1="69.3" y1="930.82" x2="72.7" y2="930.82" stroke="#000" stroke-width="1.8"/>
<line x1="69.3" y1="929" x2="75.1" y2="929" stroke="#000" stroke-width="2.2"/>
<line x1="69.3" y1="917.05" x2="72.7" y2="917.05" stroke="#000" stroke-width="1.8"/>
<line x1="69.3" y1="910.06" x2="72.7" y2="910.06" stroke="#000" stroke-width="1.8"/>
<line x1="69.3" y1="905.1" x2="72.7" y2="905.1" stroke="#000" stroke-width="1.8"/>
<line x1="69.3" y1="901.25" x2="72.7" y2="901.25" stroke="#000" stroke-width="1.8"/>
<line x1="69.3" y1="898.11" x2="72.7" y2="898.11" stroke="#000" stroke-width="1.8"/>
<line x1="69.3" y1="895.45" x2="72.7" y2="895.45" stroke="#000" stroke-width="1.8"/>
<line x1="69.3" y1="893.15" x2="72.7" y2="893.15" stroke="#000" stroke-width="1.8"/>
<line x1="69.3" y1="891.12" x2="72.7" y2="891.12" stroke="#000" stroke-width="1.8"/>
<line x1="69.3" y1="889.3" x2="75.1" y2="889.3" stroke="#000" stroke-width="2.2"/>
<line x1="69.3" y1="877.35" x2="72.7" y2="877.35" stroke="#000" stroke-width="1.8"/>
<line x1="69.3" y1="870.36" x2="72.7" y2="870.36" stroke="#000" stroke-width="1.8"/>
<line x1="69.3" y1="865.4" x2="72.7" y2="865.4" stroke="#000" stroke-width="1.8"/>
<line x1="69.3" y1="861.55" x2="72.7" y2="861.55" stroke="#000" stroke-width="1.8"/>
<line x1="69.3" y1="858.41" x2="72.7" y2="858.41" stroke="#000" stroke-width="1.8"/>
<line x1="69.3" y1="855.75" x2="72.7" y2="855.75" stroke="#000" stroke-width="1.8"/>
<line x1="69.3" y1="853.45" x2="72.7" y2="853.45" stroke="#000" stroke-width="1.8"/>
<line x1="69.3" y1="851.42" x2="72.7" y2="851.42" stroke="#000" stroke-width="1.8"/>
<line x1="69.3" y1="849.6" x2="75.1" y2="849.6" stroke="#000" stroke-width="2.2"/>
<line x1="69.3" y1="837.65" x2="72.7" y2="837.65" stroke="#000" stroke-width="1.8"/>
<line x1="69.3" y1="830.66" x2="72.7" y2="830.66" stroke="#000" stroke-width="1.8"/>
<line x1="69.3" y1="825.7" x2="72.7" y2="825.7" stroke="#000" stroke-width="1.8"/>
<line x1="69.3" y1="821.85" x2="72.7" y2="821.85" stroke="#000" stroke-width="1.8"/>
<line x1="69.3" y1="818.71" x2="72.7" y2="818.71" stroke="#000" stroke-width="1.8"/>
<line x1="69.3" y1="816.05" x2="72.7" y2="816.05" stroke="#000" stroke-width="1.8"/>
<line x1="69.3" y1="813.75" x2="72.7" y2="813.75" stroke="#000" stroke-width="1.8"/>
<line x1="69.3" y1="811.72" x2="72.7" y2="811.72" stroke="#000" stroke-width="1.8"/>
<line x1="69.3" y1="809.9" x2="75.1" y2="809.9" stroke="#000" stroke-width="2.2"/>
<line x1="69.3" y1="797.95" x2="72.7" y2="797.95" stroke="#000" stroke-width="1.8"/>
<line x1="69.3" y1="790.96" x2="72.7" y2="790.96" stroke="#000" stroke-width="1.8"/>
<line x1="69.3" y1="786" x2="72.7" y2="786" stroke="#000" stroke-width="1.8"/>
<line x1="69.3" y1="782.15" x2="72.7" y2="782.15" stroke="#000" stroke-width="1.8"/>
<line x1="69.3" y1="779.01" x2="72.7" y2="779.01" stroke="#000" stroke-width="1.8"/>
<line x1="69.3" y1="776.35" x2="72.7" y2="776.35" stroke="#000" stroke-width="1.8"/>
<line x1="69.3" y1="774.05" x2="72.7" y2="774.05" stroke="#000" stroke-width="1.8"/>
<line x1="69.3" y1="772.02" x2="72.7" y2="772.02" stroke="#000" stroke-width="1.8"/>
<line x1="69.3" y1="770.2" x2="75.1" y2="770.2" stroke="#000" stroke-width="2.2"/>
<text x="54.10" y="776.80" font-size="17" font-weight="bold" text-anchor="end">10</text>
<text x="55.30" y="767.00" font-size="10.5" font-weight="bold">-3</text>
<text x="54.10" y="816.50" font-size="17" font-weight="bold" text-anchor="end">10</text>
<text x="55.30" y="806.70" font-size="10.5" font-weight="bold">-4</text>
<text x="54.10" y="856.20" font-size="17" font-weight="bold" text-anchor="end">10</text>
<text x="55.30" y="846.40" font-size="10.5" font-weight="bold">-5</text>
<text x="54.10" y="895.90" font-size="17" font-weight="bold" text-anchor="end">10</text>
<text x="55.30" y="886.10" font-size="10.5" font-weight="bold">-6</text>
<text x="54.10" y="935.60" font-size="17" font-weight="bold" text-anchor="end">10</text>
<text x="55.30" y="925.80" font-size="10.5" font-weight="bold">-7</text>
<text x="54.10" y="975.30" font-size="17" font-weight="bold" text-anchor="end">10</text>
<text x="55.30" y="965.50" font-size="10.5" font-weight="bold">-8</text>
<line x1="69.3" y1="1008.4" x2="69.3" y2="1003" stroke="#000" stroke-width="2.2"/>
<text x="69.3" y="1029.6" font-size="17" font-weight="bold" text-anchor="middle">-12</text>
<line x1="107.65" y1="1008.4" x2="107.65" y2="1003" stroke="#000" stroke-width="2.2"/>
<text x="107.65" y="1029.6" font-size="17" font-weight="bold" text-anchor="middle">-9</text>
<line x1="146" y1="1008.4" x2="146" y2="1003" stroke="#000" stroke-width="2.2"/>
<text x="146" y="1029.6" font-size="17" font-weight="bold" text-anchor="middle">-6</text>
<line x1="184.35" y1="1008.4" x2="184.35" y2="1003" stroke="#000" stroke-width="2.2"/>
<text x="184.35" y="1029.6" font-size="17" font-weight="bold" text-anchor="middle">-3</text>
<line x1="222.7" y1="1008.4" x2="222.7" y2="1003" stroke="#000" stroke-width="2.2"/>
<text x="222.7" y="1029.6" font-size="17" font-weight="bold" text-anchor="middle">0</text>
<line x1="261.05" y1="1008.4" x2="261.05" y2="1003" stroke="#000" stroke-width="2.2"/>
<text x="261.05" y="1029.6" font-size="17" font-weight="bold" text-anchor="middle">3</text>
<line x1="299.4" y1="1008.4" x2="299.4" y2="1003" stroke="#000" stroke-width="2.2"/>
<text x="299.4" y="1029.6" font-size="17" font-weight="bold" text-anchor="middle">6</text>
<line x1="337.75" y1="1008.4" x2="337.75" y2="1003" stroke="#000" stroke-width="2.2"/>
<text x="337.75" y="1029.6" font-size="17" font-weight="bold" text-anchor="middle">9</text>
<line x1="376.1" y1="1008.4" x2="376.1" y2="1003" stroke="#000" stroke-width="2.2"/>
<text x="376.1" y="1029.6" font-size="17" font-weight="bold" text-anchor="middle">12</text>
<text x="151" y="1051" font-size="18" font-weight="bold" textLength="144" lengthAdjust="spacingAndGlyphs">Gate Voltage (V)</text>
<text x="22.0" y="1005.2" font-size="18" font-weight="bold" transform="rotate(-90 22.0 1005.2)" textLength="224.4" lengthAdjust="spacingAndGlyphs">Leakage Current (A/cm<tspan dy="-7" font-size="12">2</tspan><tspan dy="7">)</tspan></text>
<text x="329.9" y="792.6" font-size="18" font-weight="bold">N<tspan dy="6.6" font-size="17">2</tspan><tspan dy="-6.6">O</tspan></text>
<line x1="79.2" y1="934.5" x2="104.6" y2="934.5" stroke="#008000" stroke-width="1.6"/>
<circle cx="91.40" cy="934.50" r="5.60" fill="#fff" stroke="#008000" stroke-width="1.8"/>
<text x="108.3" y="938.8" font-size="16.5" font-weight="bold">25</text>
<text x="133.0" y="928.7" font-size="10">o</text>
<text x="137.3" y="938.8" font-size="16.5" font-weight="bold">C</text>
<line x1="79.2" y1="961.95" x2="104.6" y2="961.95" stroke="#008000" stroke-width="1.6"/>
<polygon points="91.40,954.35 99.00,961.95 91.40,969.55 83.80,961.95" fill="#fff" stroke="#008000" stroke-width="1.8"/>
<text x="108.3" y="966.2" font-size="16.5" font-weight="bold">85</text>
<text x="135.0" y="956.2" font-size="10">o</text>
<text x="139.3" y="966.2" font-size="16.5" font-weight="bold">C</text>
<line x1="79.2" y1="989.4" x2="104.6" y2="989.4" stroke="#008000" stroke-width="1.6"/>
<polygon points="91.40,982.40 97.46,985.90 97.46,992.90 91.40,996.40 85.34,992.90 85.34,985.90" fill="#fff" stroke="#008000" stroke-width="1.8"/>
<text x="108.3" y="993.7" font-size="16.5" font-weight="bold">125</text>
<text x="145.2" y="983.6" font-size="10">o</text>
<text x="149.5" y="993.7" font-size="16.5" font-weight="bold">C</text>
<text x="8.2" y="749.5" font-size="20.5">(e)</text>
<clipPath id="clipF"><rect x="458.0" y="768.3" width="309.20000000000005" height="243.0"/></clipPath>
<g clip-path="url(#clipF)">
<polyline points="456.8,954.5 457.8,953.9 458.9,953.3 459.9,952.7 460.9,952.2 462.0,951.7 463.0,951.2 464.1,950.8 465.1,950.3 466.2,949.8 467.2,949.4 468.3,949.0 469.3,948.6 470.4,948.2 471.4,947.8 472.5,947.4 473.5,947.0 474.6,946.6 475.6,946.3 476.6,945.9 477.7,945.6 478.7,945.2 479.8,944.9 480.8,944.6 481.9,944.3 482.9,944.0 484.0,943.7 485.0,943.4 486.1,943.1 487.1,942.8 488.2,942.6 489.2,942.4 490.3,942.1 491.3,941.9 492.3,941.7 493.4,941.5 494.4,941.3 495.5,941.0 496.5,940.8 497.6,940.5 498.6,940.2 499.7,939.9 500.7,939.6 501.8,939.3 502.8,939.0 503.9,938.6 504.9,938.3 505.9,937.9 507.0,937.6 508.0,937.2 509.1,936.9 510.1,936.6 511.2,936.2 512.2,935.9 513.3,935.6 514.3,935.3 515.4,935.0 516.4,934.7 517.5,934.4 518.5,934.1 519.6,933.7 520.6,933.4 521.6,933.1 522.7,932.8 523.7,932.5 524.8,932.2 525.8,931.9 526.9,931.6 527.9,931.3 529.0,931.0 530.0,930.6 531.1,930.3 532.1,930.0 533.2,929.7 534.2,929.4 535.3,929.1 536.3,928.8 537.3,928.5 538.4,928.2 539.4,927.9 540.5,927.6 541.5,927.3 542.6,927.0 543.6,926.7 544.7,926.4 545.7,926.1 546.8,925.8 547.8,925.5 548.9,925.2 549.9,924.9 551.0,924.6 552.0,924.3 553.0,924.0 554.1,923.7 555.1,923.4 556.2,923.1 557.2,922.8 558.3,922.5 559.3,922.2 560.4,921.9 561.4,921.6 562.5,921.3 563.5,921.0 564.6,920.7 565.6,920.5 566.6,920.2 567.7,919.9 568.7,919.6 569.8,919.3 570.8,919.0 571.9,918.7 572.9,918.4 574.0,918.2 575.0,917.9 576.1,917.6 577.1,917.3 578.2,917.0 579.2,916.7 580.3,916.5 581.3,916.2 582.3,915.9 583.4,915.6 584.4,915.4 585.5,915.1 586.5,914.8 587.6,914.5 588.6,914.3 589.7,914.0 590.7,913.7 591.8,913.4 592.8,913.2 593.9,912.9 594.9,912.6 596.0,912.4 597.0,912.1 598.0,911.8 599.1,911.6 600.1,911.3 601.2,911.1 602.2,910.8 603.3,910.5 604.3,910.3 605.4,910.0 606.4,909.8 607.5,909.5 608.5,909.3 609.6,909.0 610.6,908.7 611.6,908.5 612.7,908.2 613.7,908.0 614.8,907.7 615.8,907.5 616.9,907.2 617.9,907.0 619.0,906.7 620.0,906.5 621.1,906.2 622.1,906.0 623.2,905.7 624.2,905.5 625.3,905.2 626.3,905.0 627.3,904.8 628.4,904.5 629.4,904.3 630.5,904.0 631.5,903.8 632.6,903.5 633.6,903.3 634.7,903.0 635.7,902.8 636.8,902.5 637.8,902.3 638.9,902.1 639.9,901.8 641.0,901.6 642.0,901.3 643.0,901.1 644.1,900.8 645.1,900.6 646.2,900.4 647.2,900.1 648.3,899.9 649.3,899.6 650.4,899.4 651.4,899.2 652.5,898.9 653.5,898.7 654.6,898.4 655.6,898.2 656.6,898.0 657.7,897.7 658.7,897.5 659.8,897.3 660.8,897.0 661.9,896.8 662.9,896.6 664.0,896.3 665.0,896.1 666.1,895.9 667.1,895.6 668.2,895.4 669.2,895.2 670.3,894.9 671.3,894.7 672.3,894.5 673.4,894.2 674.4,894.0 675.5,893.8 676.5,893.6 677.6,893.3 678.6,893.1 679.7,892.9 680.7,892.7 681.8,892.4 682.8,892.2 683.9,892.0 684.9,891.8 686.0,891.5 687.0,891.3 688.0,891.1 689.1,890.9 690.1,890.7 691.2,890.4 692.2,890.2 693.3,890.0 694.3,889.8 695.4,889.6 696.4,889.3 697.5,889.1 698.5,888.9 699.6,888.7 700.6,888.5 701.6,888.3 702.7,888.0 703.7,887.8 704.8,887.6 705.8,887.4 706.9,887.2 707.9,887.0 709.0,886.8 710.0,886.6 711.1,886.4 712.1,886.1 713.2,885.9 714.2,885.7 715.3,885.5 716.3,885.3 717.3,885.1 718.4,884.9 719.4,884.7 720.5,884.5 721.5,884.3 722.6,884.1 723.6,883.9 724.7,883.7 725.7,883.5 726.8,883.3 727.8,883.1 728.9,882.9 729.9,882.7 731.0,882.5 732.0,882.3 733.0,882.1 734.1,881.9 735.1,881.7 736.2,881.5 737.2,881.4 738.3,881.2 739.3,881.0 740.4,880.8 741.4,880.6 742.5,880.4 743.5,880.2 744.6,880.0 745.6,879.8 746.7,879.7 747.7,879.5 748.7,879.3 749.8,879.1 750.8,878.9 751.9,878.7 752.9,878.6 754.0,878.4 755.0,878.2 756.1,878.0 757.1,877.9 758.2,877.7 759.2,877.5 760.3,877.3 761.3,877.2 762.3,877.0 763.4,876.8 764.4,876.7 765.5,876.5 766.5,876.4 767.6,876.2 768.6,876.1 769.7,875.9" fill="none" stroke="#008000" stroke-width="1.1" stroke-linejoin="round"/>
<rect x="451.71" y="949.07" width="10.60" height="10.60" fill="#fff" stroke="#008000" stroke-width="1.8"/>
<rect x="464.80" y="942.96" width="10.60" height="10.60" fill="#fff" stroke="#008000" stroke-width="1.8"/>
<rect x="477.81" y="938.60" width="10.60" height="10.60" fill="#fff" stroke="#008000" stroke-width="1.8"/>
<rect x="490.74" y="935.60" width="10.60" height="10.60" fill="#fff" stroke="#008000" stroke-width="1.8"/>
<rect x="503.58" y="931.65" width="10.60" height="10.60" fill="#fff" stroke="#008000" stroke-width="1.8"/>
<rect x="516.34" y="927.82" width="10.60" height="10.60" fill="#fff" stroke="#008000" stroke-width="1.8"/>
<rect x="529.02" y="924.08" width="10.60" height="10.60" fill="#fff" stroke="#008000" stroke-width="1.8"/>
<rect x="541.62" y="920.43" width="10.60" height="10.60" fill="#fff" stroke="#008000" stroke-width="1.8"/>
<rect x="554.14" y="916.87" width="10.60" height="10.60" fill="#fff" stroke="#008000" stroke-width="1.8"/>
<rect x="566.58" y="913.43" width="10.60" height="10.60" fill="#fff" stroke="#008000" stroke-width="1.8"/>
<rect x="578.94" y="910.11" width="10.60" height="10.60" fill="#fff" stroke="#008000" stroke-width="1.8"/>
<rect x="591.22" y="906.93" width="10.60" height="10.60" fill="#fff" stroke="#008000" stroke-width="1.8"/>
<rect x="603.42" y="903.90" width="10.60" height="10.60" fill="#fff" stroke="#008000" stroke-width="1.8"/>
<rect x="615.54" y="901.00" width="10.60" height="10.60" fill="#fff" stroke="#008000" stroke-width="1.8"/>
<rect x="627.58" y="898.15" width="10.60" height="10.60" fill="#fff" stroke="#008000" stroke-width="1.8"/>
<rect x="639.55" y="895.36" width="10.60" height="10.60" fill="#fff" stroke="#008000" stroke-width="1.8"/>
<rect x="651.44" y="892.65" width="10.60" height="10.60" fill="#fff" stroke="#008000" stroke-width="1.8"/>
<rect x="663.26" y="890.01" width="10.60" height="10.60" fill="#fff" stroke="#008000" stroke-width="1.8"/>
<rect x="675.00" y="887.45" width="10.60" height="10.60" fill="#fff" stroke="#008000" stroke-width="1.8"/>
<rect x="686.66" y="884.97" width="10.60" height="10.60" fill="#fff" stroke="#008000" stroke-width="1.8"/>
<rect x="698.25" y="882.57" width="10.60" height="10.60" fill="#fff" stroke="#008000" stroke-width="1.8"/>
<rect x="709.77" y="880.27" width="10.60" height="10.60" fill="#fff" stroke="#008000" stroke-width="1.8"/>
<rect x="721.21" y="878.05" width="10.60" height="10.60" fill="#fff" stroke="#008000" stroke-width="1.8"/>
<rect x="732.58" y="875.94" width="10.60" height="10.60" fill="#fff" stroke="#008000" stroke-width="1.8"/>
<rect x="743.87" y="873.92" width="10.60" height="10.60" fill="#fff" stroke="#008000" stroke-width="1.8"/>
<rect x="755.10" y="872.00" width="10.60" height="10.60" fill="#fff" stroke="#008000" stroke-width="1.8"/>
<polyline points="456.8,935.0 457.8,934.6 458.9,934.1 459.9,933.6 460.9,933.2 462.0,932.7 463.0,932.2 464.1,931.8 465.1,931.3 466.2,930.8 467.2,930.4 468.3,929.9 469.3,929.4 470.4,929.0 471.4,928.5 472.5,928.0 473.5,927.5 474.6,927.0 475.6,926.5 476.6,926.0 477.7,925.5 478.7,925.0 479.8,924.6 480.8,924.1 481.9,923.7 482.9,923.3 484.0,922.9 485.0,922.5 486.1,922.2 487.1,921.8 488.2,921.4 489.2,921.1 490.3,920.7 491.3,920.4 492.3,920.1 493.4,919.7 494.4,919.4 495.5,919.1 496.5,918.8 497.6,918.5 498.6,918.2 499.7,917.9 500.7,917.6 501.8,917.3 502.8,917.0 503.9,916.7 504.9,916.4 505.9,916.1 507.0,915.8 508.0,915.5 509.1,915.2 510.1,915.0 511.2,914.7 512.2,914.4 513.3,914.1 514.3,913.8 515.4,913.6 516.4,913.3 517.5,913.0 518.5,912.7 519.6,912.4 520.6,912.2 521.6,911.9 522.7,911.6 523.7,911.3 524.8,911.0 525.8,910.8 526.9,910.5 527.9,910.2 529.0,909.9 530.0,909.7 531.1,909.4 532.1,909.1 533.2,908.8 534.2,908.6 535.3,908.3 536.3,908.0 537.3,907.8 538.4,907.5 539.4,907.3 540.5,907.0 541.5,906.7 542.6,906.5 543.6,906.2 544.7,905.9 545.7,905.7 546.8,905.4 547.8,905.2 548.9,904.9 549.9,904.7 551.0,904.4 552.0,904.1 553.0,903.9 554.1,903.6 555.1,903.4 556.2,903.1 557.2,902.9 558.3,902.6 559.3,902.4 560.4,902.1 561.4,901.9 562.5,901.6 563.5,901.4 564.6,901.1 565.6,900.9 566.6,900.6 567.7,900.4 568.7,900.1 569.8,899.9 570.8,899.6 571.9,899.4 572.9,899.1 574.0,898.9 575.0,898.7 576.1,898.4 577.1,898.2 578.2,897.9 579.2,897.7 580.3,897.4 581.3,897.2 582.3,896.9 583.4,896.7 584.4,896.4 585.5,896.2 586.5,896.0 587.6,895.7 588.6,895.5 589.7,895.2 590.7,895.0 591.8,894.7 592.8,894.5 593.9,894.2 594.9,894.0 596.0,893.7 597.0,893.5 598.0,893.2 599.1,893.0 600.1,892.7 601.2,892.5 602.2,892.2 603.3,892.0 604.3,891.7 605.4,891.5 606.4,891.2 607.5,891.0 608.5,890.7 609.6,890.5 610.6,890.2 611.6,890.0 612.7,889.7 613.7,889.5 614.8,889.2 615.8,889.0 616.9,888.7 617.9,888.4 619.0,888.2 620.0,887.9 621.1,887.7 622.1,887.4 623.2,887.1 624.2,886.9 625.3,886.6 626.3,886.4 627.3,886.1 628.4,885.8 629.4,885.6 630.5,885.3 631.5,885.0 632.6,884.7 633.6,884.5 634.7,884.2 635.7,883.9 636.8,883.7 637.8,883.4 638.9,883.1 639.9,882.8 641.0,882.6 642.0,882.3 643.0,882.0 644.1,881.7 645.1,881.5 646.2,881.2 647.2,880.9 648.3,880.6 649.3,880.3 650.4,880.1 651.4,879.8 652.5,879.5 653.5,879.2 654.6,878.9 655.6,878.6 656.6,878.4 657.7,878.1 658.7,877.8 659.8,877.5 660.8,877.2 661.9,876.9 662.9,876.7 664.0,876.4 665.0,876.1 666.1,875.8 667.1,875.5 668.2,875.2 669.2,874.9 670.3,874.7 671.3,874.4 672.3,874.1 673.4,873.8 674.4,873.5 675.5,873.2 676.5,872.9 677.6,872.7 678.6,872.4 679.7,872.1 680.7,871.8 681.8,871.5 682.8,871.2 683.9,871.0 684.9,870.7 686.0,870.4 687.0,870.1 688.0,869.8 689.1,869.5 690.1,869.2 691.2,869.0 692.2,868.7 693.3,868.4 694.3,868.1 695.4,867.8 696.4,867.6 697.5,867.3 698.5,867.0 699.6,866.7 700.6,866.4 701.6,866.2 702.7,865.9 703.7,865.6 704.8,865.3 705.8,865.0 706.9,864.8 707.9,864.5 709.0,864.2 710.0,863.9 711.1,863.7 712.1,863.4 713.2,863.1 714.2,862.9 715.3,862.6 716.3,862.3 717.3,862.0 718.4,861.8 719.4,861.5 720.5,861.2 721.5,861.0 722.6,860.7 723.6,860.5 724.7,860.2 725.7,859.9 726.8,859.7 727.8,859.4 728.9,859.2 729.9,858.9 731.0,858.6 732.0,858.4 733.0,858.1 734.1,857.9 735.1,857.6 736.2,857.4 737.2,857.1 738.3,856.9 739.3,856.6 740.4,856.4 741.4,856.1 742.5,855.9 743.5,855.7 744.6,855.4 745.6,855.2 746.7,854.9 747.7,854.7 748.7,854.5 749.8,854.2 750.8,854.0 751.9,853.8 752.9,853.5 754.0,853.3 755.0,853.1 756.1,852.9 757.1,852.6 758.2,852.4 759.2,852.2 760.3,852.0 761.3,851.8 762.3,851.6 763.4,851.4 764.4,851.2 765.5,851.0 766.5,850.8 767.6,850.6 768.6,850.4 769.7,850.2" fill="none" stroke="#008000" stroke-width="1.1" stroke-linejoin="round"/>
<polygon points="457.01,926.53 465.41,934.93 457.01,943.33 448.61,934.93" fill="#fff" stroke="#008000" stroke-width="1.8"/>
<polygon points="470.10,920.69 478.50,929.09 470.10,937.49 461.70,929.09" fill="#fff" stroke="#008000" stroke-width="1.8"/>
<polygon points="483.11,914.82 491.51,923.22 483.11,931.62 474.71,923.22" fill="#fff" stroke="#008000" stroke-width="1.8"/>
<polygon points="496.04,910.52 504.44,918.92 496.04,927.32 487.64,918.92" fill="#fff" stroke="#008000" stroke-width="1.8"/>
<polygon points="508.88,906.90 517.28,915.30 508.88,923.70 500.48,915.30" fill="#fff" stroke="#008000" stroke-width="1.8"/>
<polygon points="521.64,903.48 530.04,911.88 521.64,920.28 513.24,911.88" fill="#fff" stroke="#008000" stroke-width="1.8"/>
<polygon points="534.32,900.15 542.72,908.55 534.32,916.95 525.92,908.55" fill="#fff" stroke="#008000" stroke-width="1.8"/>
<polygon points="546.92,896.99 555.32,905.39 546.92,913.79 538.52,905.39" fill="#fff" stroke="#008000" stroke-width="1.8"/>
<polygon points="559.44,893.95 567.84,902.35 559.44,910.75 551.04,902.35" fill="#fff" stroke="#008000" stroke-width="1.8"/>
<polygon points="571.88,891.00 580.28,899.40 571.88,907.80 563.48,899.40" fill="#fff" stroke="#008000" stroke-width="1.8"/>
<polygon points="584.24,888.09 592.64,896.49 584.24,904.89 575.84,896.49" fill="#fff" stroke="#008000" stroke-width="1.8"/>
<polygon points="596.52,885.20 604.92,893.60 596.52,902.00 588.12,893.60" fill="#fff" stroke="#008000" stroke-width="1.8"/>
<polygon points="608.72,882.29 617.12,890.69 608.72,899.09 600.32,890.69" fill="#fff" stroke="#008000" stroke-width="1.8"/>
<polygon points="620.84,879.32 629.24,887.72 620.84,896.12 612.44,887.72" fill="#fff" stroke="#008000" stroke-width="1.8"/>
<polygon points="632.88,876.27 641.28,884.67 632.88,893.07 624.48,884.67" fill="#fff" stroke="#008000" stroke-width="1.8"/>
<polygon points="644.85,873.13 653.25,881.53 644.85,889.93 636.45,881.53" fill="#fff" stroke="#008000" stroke-width="1.8"/>
<polygon points="656.74,869.94 665.14,878.34 656.74,886.74 648.34,878.34" fill="#fff" stroke="#008000" stroke-width="1.8"/>
<polygon points="668.56,866.72 676.96,875.12 668.56,883.52 660.16,875.12" fill="#fff" stroke="#008000" stroke-width="1.8"/>
<polygon points="680.30,863.52 688.70,871.92 680.30,880.32 671.90,871.92" fill="#fff" stroke="#008000" stroke-width="1.8"/>
<polygon points="691.96,860.35 700.36,868.75 691.96,877.15 683.56,868.75" fill="#fff" stroke="#008000" stroke-width="1.8"/>
<polygon points="703.55,857.25 711.95,865.65 703.55,874.05 695.15,865.65" fill="#fff" stroke="#008000" stroke-width="1.8"/>
<polygon points="715.07,854.23 723.47,862.63 715.07,871.03 706.67,862.63" fill="#fff" stroke="#008000" stroke-width="1.8"/>
<polygon points="726.51,851.33 734.91,859.73 726.51,868.13 718.11,859.73" fill="#fff" stroke="#008000" stroke-width="1.8"/>
<polygon points="737.88,848.57 746.28,856.97 737.88,865.37 729.48,856.97" fill="#fff" stroke="#008000" stroke-width="1.8"/>
<polygon points="749.17,845.98 757.57,854.38 749.17,862.78 740.77,854.38" fill="#fff" stroke="#008000" stroke-width="1.8"/>
<polygon points="760.40,843.56 768.80,851.96 760.40,860.36 752.00,851.96" fill="#fff" stroke="#008000" stroke-width="1.8"/>
<polyline points="456.8,900.6 457.8,900.3 458.9,900.0 459.9,899.6 460.9,899.3 462.0,898.9 463.0,898.6 464.1,898.2 465.1,897.9 466.2,897.5 467.2,897.1 468.3,896.8 469.3,896.4 470.4,896.0 471.4,895.6 472.5,895.2 473.5,894.8 474.6,894.4 475.6,894.0 476.6,893.6 477.7,893.2 478.7,892.8 479.8,892.4 480.8,891.9 481.9,891.5 482.9,891.1 484.0,890.7 485.0,890.3 486.1,889.9 487.1,889.4 488.2,889.0 489.2,888.6 490.3,888.2 491.3,887.8 492.3,887.4 493.4,887.0 494.4,886.5 495.5,886.1 496.5,885.7 497.6,885.3 498.6,884.9 499.7,884.6 500.7,884.2 501.8,883.8 502.8,883.4 503.9,883.0 504.9,882.7 505.9,882.3 507.0,881.9 508.0,881.5 509.1,881.1 510.1,880.7 511.2,880.3 512.2,879.9 513.3,879.4 514.3,878.9 515.4,878.5 516.4,878.0 517.5,877.5 518.5,877.0 519.6,876.5 520.6,876.1 521.6,875.7 522.7,875.3 523.7,875.0 524.8,874.7 525.8,874.4 526.9,874.2 527.9,873.9 529.0,873.7 530.0,873.5 531.1,873.3 532.1,873.0 533.2,872.8 534.2,872.6 535.3,872.3 536.3,872.1 537.3,871.8 538.4,871.6 539.4,871.3 540.5,871.1 541.5,870.8 542.6,870.5 543.6,870.3 544.7,870.0 545.7,869.8 546.8,869.5 547.8,869.2 548.9,869.0 549.9,868.7 551.0,868.4 552.0,868.2 553.0,867.9 554.1,867.6 555.1,867.4 556.2,867.1 557.2,866.8 558.3,866.6 559.3,866.3 560.4,866.0 561.4,865.8 562.5,865.5 563.5,865.2 564.6,865.0 565.6,864.7 566.6,864.4 567.7,864.1 568.7,863.9 569.8,863.6 570.8,863.3 571.9,863.0 572.9,862.8 574.0,862.5 575.0,862.2 576.1,861.9 577.1,861.7 578.2,861.4 579.2,861.1 580.3,860.8 581.3,860.6 582.3,860.3 583.4,860.0 584.4,859.7 585.5,859.5 586.5,859.2 587.6,858.9 588.6,858.6 589.7,858.4 590.7,858.1 591.8,857.8 592.8,857.5 593.9,857.3 594.9,857.0 596.0,856.7 597.0,856.4 598.0,856.2 599.1,855.9 600.1,855.6 601.2,855.3 602.2,855.1 603.3,854.8 604.3,854.5 605.4,854.2 606.4,854.0 607.5,853.7 608.5,853.4 609.6,853.1 610.6,852.9 611.6,852.6 612.7,852.3 613.7,852.1 614.8,851.8 615.8,851.5 616.9,851.3 617.9,851.0 619.0,850.7 620.0,850.4 621.1,850.2 622.1,849.9 623.2,849.6 624.2,849.4 625.3,849.1 626.3,848.8 627.3,848.6 628.4,848.3 629.4,848.0 630.5,847.8 631.5,847.5 632.6,847.2 633.6,847.0 634.7,846.7 635.7,846.4 636.8,846.2 637.8,845.9 638.9,845.6 639.9,845.4 641.0,845.1 642.0,844.8 643.0,844.5 644.1,844.3 645.1,844.0 646.2,843.7 647.2,843.5 648.3,843.2 649.3,842.9 650.4,842.7 651.4,842.4 652.5,842.1 653.5,841.9 654.6,841.6 655.6,841.3 656.6,841.1 657.7,840.8 658.7,840.5 659.8,840.3 660.8,840.0 661.9,839.7 662.9,839.5 664.0,839.2 665.0,838.9 666.1,838.7 667.1,838.4 668.2,838.1 669.2,837.9 670.3,837.6 671.3,837.4 672.3,837.1 673.4,836.8 674.4,836.6 675.5,836.3 676.5,836.1 677.6,835.8 678.6,835.6 679.7,835.3 680.7,835.0 681.8,834.8 682.8,834.5 683.9,834.3 684.9,834.0 686.0,833.8 687.0,833.5 688.0,833.3 689.1,833.0 690.1,832.8 691.2,832.5 692.2,832.3 693.3,832.0 694.3,831.8 695.4,831.5 696.4,831.3 697.5,831.1 698.5,830.8 699.6,830.6 700.6,830.3 701.6,830.1 702.7,829.8 703.7,829.6 704.8,829.3 705.8,829.0 706.9,828.8 707.9,828.5 709.0,828.3 710.0,828.0 711.1,827.8 712.1,827.5 713.2,827.3 714.2,827.0 715.3,826.8 716.3,826.5 717.3,826.3 718.4,826.1 719.4,825.8 720.5,825.6 721.5,825.3 722.6,825.1 723.6,824.8 724.7,824.6 725.7,824.3 726.8,824.1 727.8,823.9 728.9,823.6 729.9,823.4 731.0,823.2 732.0,822.9 733.0,822.7 734.1,822.5 735.1,822.2 736.2,822.0 737.2,821.8 738.3,821.5 739.3,821.3 740.4,821.1 741.4,820.9 742.5,820.7 743.5,820.4 744.6,820.2 745.6,820.0 746.7,819.8 747.7,819.6 748.7,819.4 749.8,819.2 750.8,819.0 751.9,818.8 752.9,818.6 754.0,818.4 755.0,818.2 756.1,818.0 757.1,817.8 758.2,817.6 759.2,817.5 760.3,817.3 761.3,817.1 762.3,816.9 763.4,816.8 764.4,816.6 765.5,816.5 766.5,816.3 767.6,816.2 768.6,816.0 769.7,815.9" fill="none" stroke="#008000" stroke-width="1.1" stroke-linejoin="round"/>
<polygon points="457.01,893.96 462.73,897.26 462.73,903.86 457.01,907.16 451.29,903.86 451.29,897.26" fill="#fff" stroke="#008000" stroke-width="1.8"/>
<polygon points="470.10,889.51 475.82,892.81 475.82,899.41 470.10,902.71 464.39,899.41 464.39,892.81" fill="#fff" stroke="#008000" stroke-width="1.8"/>
<polygon points="483.11,884.43 488.83,887.73 488.83,894.33 483.11,897.63 477.40,894.33 477.40,887.73" fill="#fff" stroke="#008000" stroke-width="1.8"/>
<polygon points="496.04,879.32 501.76,882.62 501.76,889.22 496.04,892.52 490.32,889.22 490.32,882.62" fill="#fff" stroke="#008000" stroke-width="1.8"/>
<polygon points="508.88,874.62 514.60,877.92 514.60,884.52 508.88,887.82 503.17,884.52 503.17,877.92" fill="#fff" stroke="#008000" stroke-width="1.8"/>
<polygon points="521.64,869.09 527.36,872.39 527.36,878.99 521.64,882.29 515.93,878.99 515.93,872.39" fill="#fff" stroke="#008000" stroke-width="1.8"/>
<polygon points="534.32,865.95 540.04,869.25 540.04,875.85 534.32,879.15 528.61,875.85 528.61,869.25" fill="#fff" stroke="#008000" stroke-width="1.8"/>
<polygon points="546.92,862.86 552.64,866.16 552.64,872.76 546.92,876.06 541.21,872.76 541.21,866.16" fill="#fff" stroke="#008000" stroke-width="1.8"/>
<polygon points="559.44,859.67 565.16,862.97 565.16,869.57 559.44,872.87 553.73,869.57 553.73,862.97" fill="#fff" stroke="#008000" stroke-width="1.8"/>
<polygon points="571.88,856.44 577.59,859.74 577.59,866.34 571.88,869.64 566.16,866.34 566.16,859.74" fill="#fff" stroke="#008000" stroke-width="1.8"/>
<polygon points="584.24,853.19 589.95,856.49 589.95,863.09 584.24,866.39 578.52,863.09 578.52,856.49" fill="#fff" stroke="#008000" stroke-width="1.8"/>
<polygon points="596.52,849.96 602.23,853.26 602.23,859.86 596.52,863.16 590.80,859.86 590.80,853.26" fill="#fff" stroke="#008000" stroke-width="1.8"/>
<polygon points="608.72,846.77 614.43,850.07 614.43,856.67 608.72,859.97 603.00,856.67 603.00,850.07" fill="#fff" stroke="#008000" stroke-width="1.8"/>
<polygon points="620.84,843.64 626.56,846.94 626.56,853.54 620.84,856.84 615.12,853.54 615.12,846.94" fill="#fff" stroke="#008000" stroke-width="1.8"/>
<polygon points="632.88,840.56 638.60,843.86 638.60,850.46 632.88,853.76 627.17,850.46 627.17,843.86" fill="#fff" stroke="#008000" stroke-width="1.8"/>
<polygon points="644.85,837.48 650.57,840.78 650.57,847.38 644.85,850.68 639.14,847.38 639.14,840.78" fill="#fff" stroke="#008000" stroke-width="1.8"/>
<polygon points="656.74,834.43 662.46,837.73 662.46,844.33 656.74,847.63 651.03,844.33 651.03,837.73" fill="#fff" stroke="#008000" stroke-width="1.8"/>
<polygon points="668.56,831.45 674.27,834.75 674.27,841.35 668.56,844.65 662.84,841.35 662.84,834.75" fill="#fff" stroke="#008000" stroke-width="1.8"/>
<polygon points="680.30,828.55 686.01,831.85 686.01,838.45 680.30,841.75 674.58,838.45 674.58,831.85" fill="#fff" stroke="#008000" stroke-width="1.8"/>
<polygon points="691.96,825.76 697.68,829.06 697.68,835.66 691.96,838.96 686.25,835.66 686.25,829.06" fill="#fff" stroke="#008000" stroke-width="1.8"/>
<polygon points="703.55,823.00 709.27,826.30 709.27,832.90 703.55,836.20 697.84,832.90 697.84,826.30" fill="#fff" stroke="#008000" stroke-width="1.8"/>
<polygon points="715.07,820.24 720.78,823.54 720.78,830.14 715.07,833.44 709.35,830.14 709.35,823.54" fill="#fff" stroke="#008000" stroke-width="1.8"/>
<polygon points="726.51,817.57 732.23,820.87 732.23,827.47 726.51,830.77 720.79,827.47 720.79,820.87" fill="#fff" stroke="#008000" stroke-width="1.8"/>
<polygon points="737.88,815.03 743.59,818.33 743.59,824.93 737.88,828.23 732.16,824.93 732.16,818.33" fill="#fff" stroke="#008000" stroke-width="1.8"/>
<polygon points="749.17,812.70 754.89,816.00 754.89,822.60 749.17,825.90 743.46,822.60 743.46,816.00" fill="#fff" stroke="#008000" stroke-width="1.8"/>
<polygon points="760.40,810.65 766.11,813.95 766.11,820.55 760.40,823.85 754.68,820.55 754.68,813.95" fill="#fff" stroke="#008000" stroke-width="1.8"/>
<line x1="458" y1="890.49" x2="767.2" y2="813.78" stroke="#000" stroke-width="1.6" stroke-dasharray="4.5 3"/>
<line x1="458" y1="927.99" x2="767.2" y2="848.84" stroke="#000" stroke-width="1.6" stroke-dasharray="4.5 3"/>
<line x1="458" y1="943.26" x2="767.2" y2="870.01" stroke="#000" stroke-width="1.6" stroke-dasharray="4.5 3"/>
</g>
<rect x="458" y="768.3" width="309.2" height="243" fill="none" stroke="#000" stroke-width="2.9"/>
<line x1="458" y1="1011.3" x2="464" y2="1011.3" stroke="#000" stroke-width="2.3"/>
<text x="452.5" y="1017.1" font-size="16" font-weight="bold" text-anchor="end">-14</text>
<line x1="458" y1="976.59" x2="461.8" y2="976.59" stroke="#000" stroke-width="2.3"/>
<line x1="458" y1="941.87" x2="464" y2="941.87" stroke="#000" stroke-width="2.3"/>
<text x="452.5" y="947.67" font-size="16" font-weight="bold" text-anchor="end">-12</text>
<line x1="458" y1="907.16" x2="461.8" y2="907.16" stroke="#000" stroke-width="2.3"/>
<line x1="458" y1="872.44" x2="464" y2="872.44" stroke="#000" stroke-width="2.3"/>
<text x="452.5" y="878.24" font-size="16" font-weight="bold" text-anchor="end">-10</text>
<line x1="458" y1="837.73" x2="461.8" y2="837.73" stroke="#000" stroke-width="2.3"/>
<line x1="458" y1="803.01" x2="464" y2="803.01" stroke="#000" stroke-width="2.3"/>
<text x="452.5" y="808.81" font-size="16" font-weight="bold" text-anchor="end">-8</text>
<line x1="458" y1="768.3" x2="461.8" y2="768.3" stroke="#000" stroke-width="2.3"/>
<line x1="458" y1="1011.3" x2="458" y2="1005.3" stroke="#000" stroke-width="2.3"/>
<text x="458" y="1032.2" font-size="16" font-weight="bold" text-anchor="middle">1.10</text>
<line x1="488.92" y1="1011.3" x2="488.92" y2="1007.5" stroke="#000" stroke-width="2.3"/>
<line x1="519.84" y1="1011.3" x2="519.84" y2="1005.3" stroke="#000" stroke-width="2.3"/>
<text x="519.84" y="1032.2" font-size="16" font-weight="bold" text-anchor="middle">1.15</text>
<line x1="550.76" y1="1011.3" x2="550.76" y2="1007.5" stroke="#000" stroke-width="2.3"/>
<line x1="581.68" y1="1011.3" x2="581.68" y2="1005.3" stroke="#000" stroke-width="2.3"/>
<text x="581.68" y="1032.2" font-size="16" font-weight="bold" text-anchor="middle">1.20</text>
<line x1="612.6" y1="1011.3" x2="612.6" y2="1007.5" stroke="#000" stroke-width="2.3"/>
<line x1="643.52" y1="1011.3" x2="643.52" y2="1005.3" stroke="#000" stroke-width="2.3"/>
<text x="643.52" y="1032.2" font-size="16" font-weight="bold" text-anchor="middle">1.25</text>
<line x1="674.44" y1="1011.3" x2="674.44" y2="1007.5" stroke="#000" stroke-width="2.3"/>
<line x1="705.36" y1="1011.3" x2="705.36" y2="1005.3" stroke="#000" stroke-width="2.3"/>
<text x="705.36" y="1032.2" font-size="16" font-weight="bold" text-anchor="middle">1.30</text>
<line x1="736.28" y1="1011.3" x2="736.28" y2="1007.5" stroke="#000" stroke-width="2.3"/>
<line x1="767.2" y1="1011.3" x2="767.2" y2="1005.3" stroke="#000" stroke-width="2.3"/>
<text x="767.2" y="1032.2" font-size="16" font-weight="bold" text-anchor="middle">1.35</text>
<text x="501" y="1055.9" font-size="18" font-weight="bold" textLength="115.2" lengthAdjust="spacingAndGlyphs">Electric Field</text>
<text x="616.6" y="1046.6" font-size="11" font-weight="bold" textLength="15.6" lengthAdjust="spacingAndGlyphs">1/2</text>
<text x="636" y="1055.9" font-size="18" font-weight="bold" textLength="71.4" lengthAdjust="spacingAndGlyphs">(MV/cm)</text>
<text x="708.2" y="1046.6" font-size="11" font-weight="bold" textLength="15.4" lengthAdjust="spacingAndGlyphs">1/2</text>
<text x="420.1" y="965.4" font-size="18" font-weight="bold" transform="rotate(-90 420.1 965.4)" textLength="172.5" lengthAdjust="spacingAndGlyphs">ln(J/E) (ln(Acm<tspan dy="-7" font-size="12">-1</tspan><tspan dy="7">V</tspan><tspan dy="-7" font-size="12">-1</tspan><tspan dy="7">))</tspan></text>
<text x="717.7" y="791.2" font-size="18" font-weight="bold">N<tspan dy="6.6" font-size="17">2</tspan><tspan dy="-6.6">O</tspan></text>
<text x="511.6" y="972.5" font-size="18" font-weight="bold" textLength="208" lengthAdjust="spacingAndGlyphs">Poole-Frenkel Emission</text>
<line x1="510" y1="995.3" x2="536.4" y2="995.3" stroke="#008000" stroke-width="1.6"/>
<rect x="519.60" y="991.10" width="8.40" height="8.40" fill="#fff" stroke="#008000" stroke-width="1.8"/>
<text x="539.7" y="1001.2" font-size="16.5" font-weight="bold">25</text>
<text x="564.3" y="990.4" font-size="10">o</text>
<text x="570.5999999999999" y="1001.2" font-size="16.5" font-weight="bold">C</text>
<line x1="589.2" y1="995.3" x2="616.7" y2="995.3" stroke="#008000" stroke-width="1.6"/>
<polygon points="603.10,987.70 610.70,995.30 603.10,1002.90 595.50,995.30" fill="#fff" stroke="#008000" stroke-width="1.8"/>
<text x="620.6" y="1001.2" font-size="16.5" font-weight="bold">85</text>
<text x="645.0" y="990.4" font-size="10">o</text>
<text x="651.3" y="1001.2" font-size="16.5" font-weight="bold">C</text>
<line x1="669.5" y1="995.3" x2="697.3" y2="995.3" stroke="#008000" stroke-width="1.6"/>
<polygon points="683.40,988.90 688.94,992.10 688.94,998.50 683.40,1001.70 677.86,998.50 677.86,992.10" fill="#fff" stroke="#008000" stroke-width="1.8"/>
<text x="701.6" y="1001.2" font-size="16.5" font-weight="bold">125</text>
<text x="735.6" y="990.4" font-size="10">o</text>
<text x="741.9" y="1001.2" font-size="16.5" font-weight="bold">C</text>
<text x="400.6" y="749.4" font-size="20" font-weight="bold">(f)</text>
</svg></body></html>
